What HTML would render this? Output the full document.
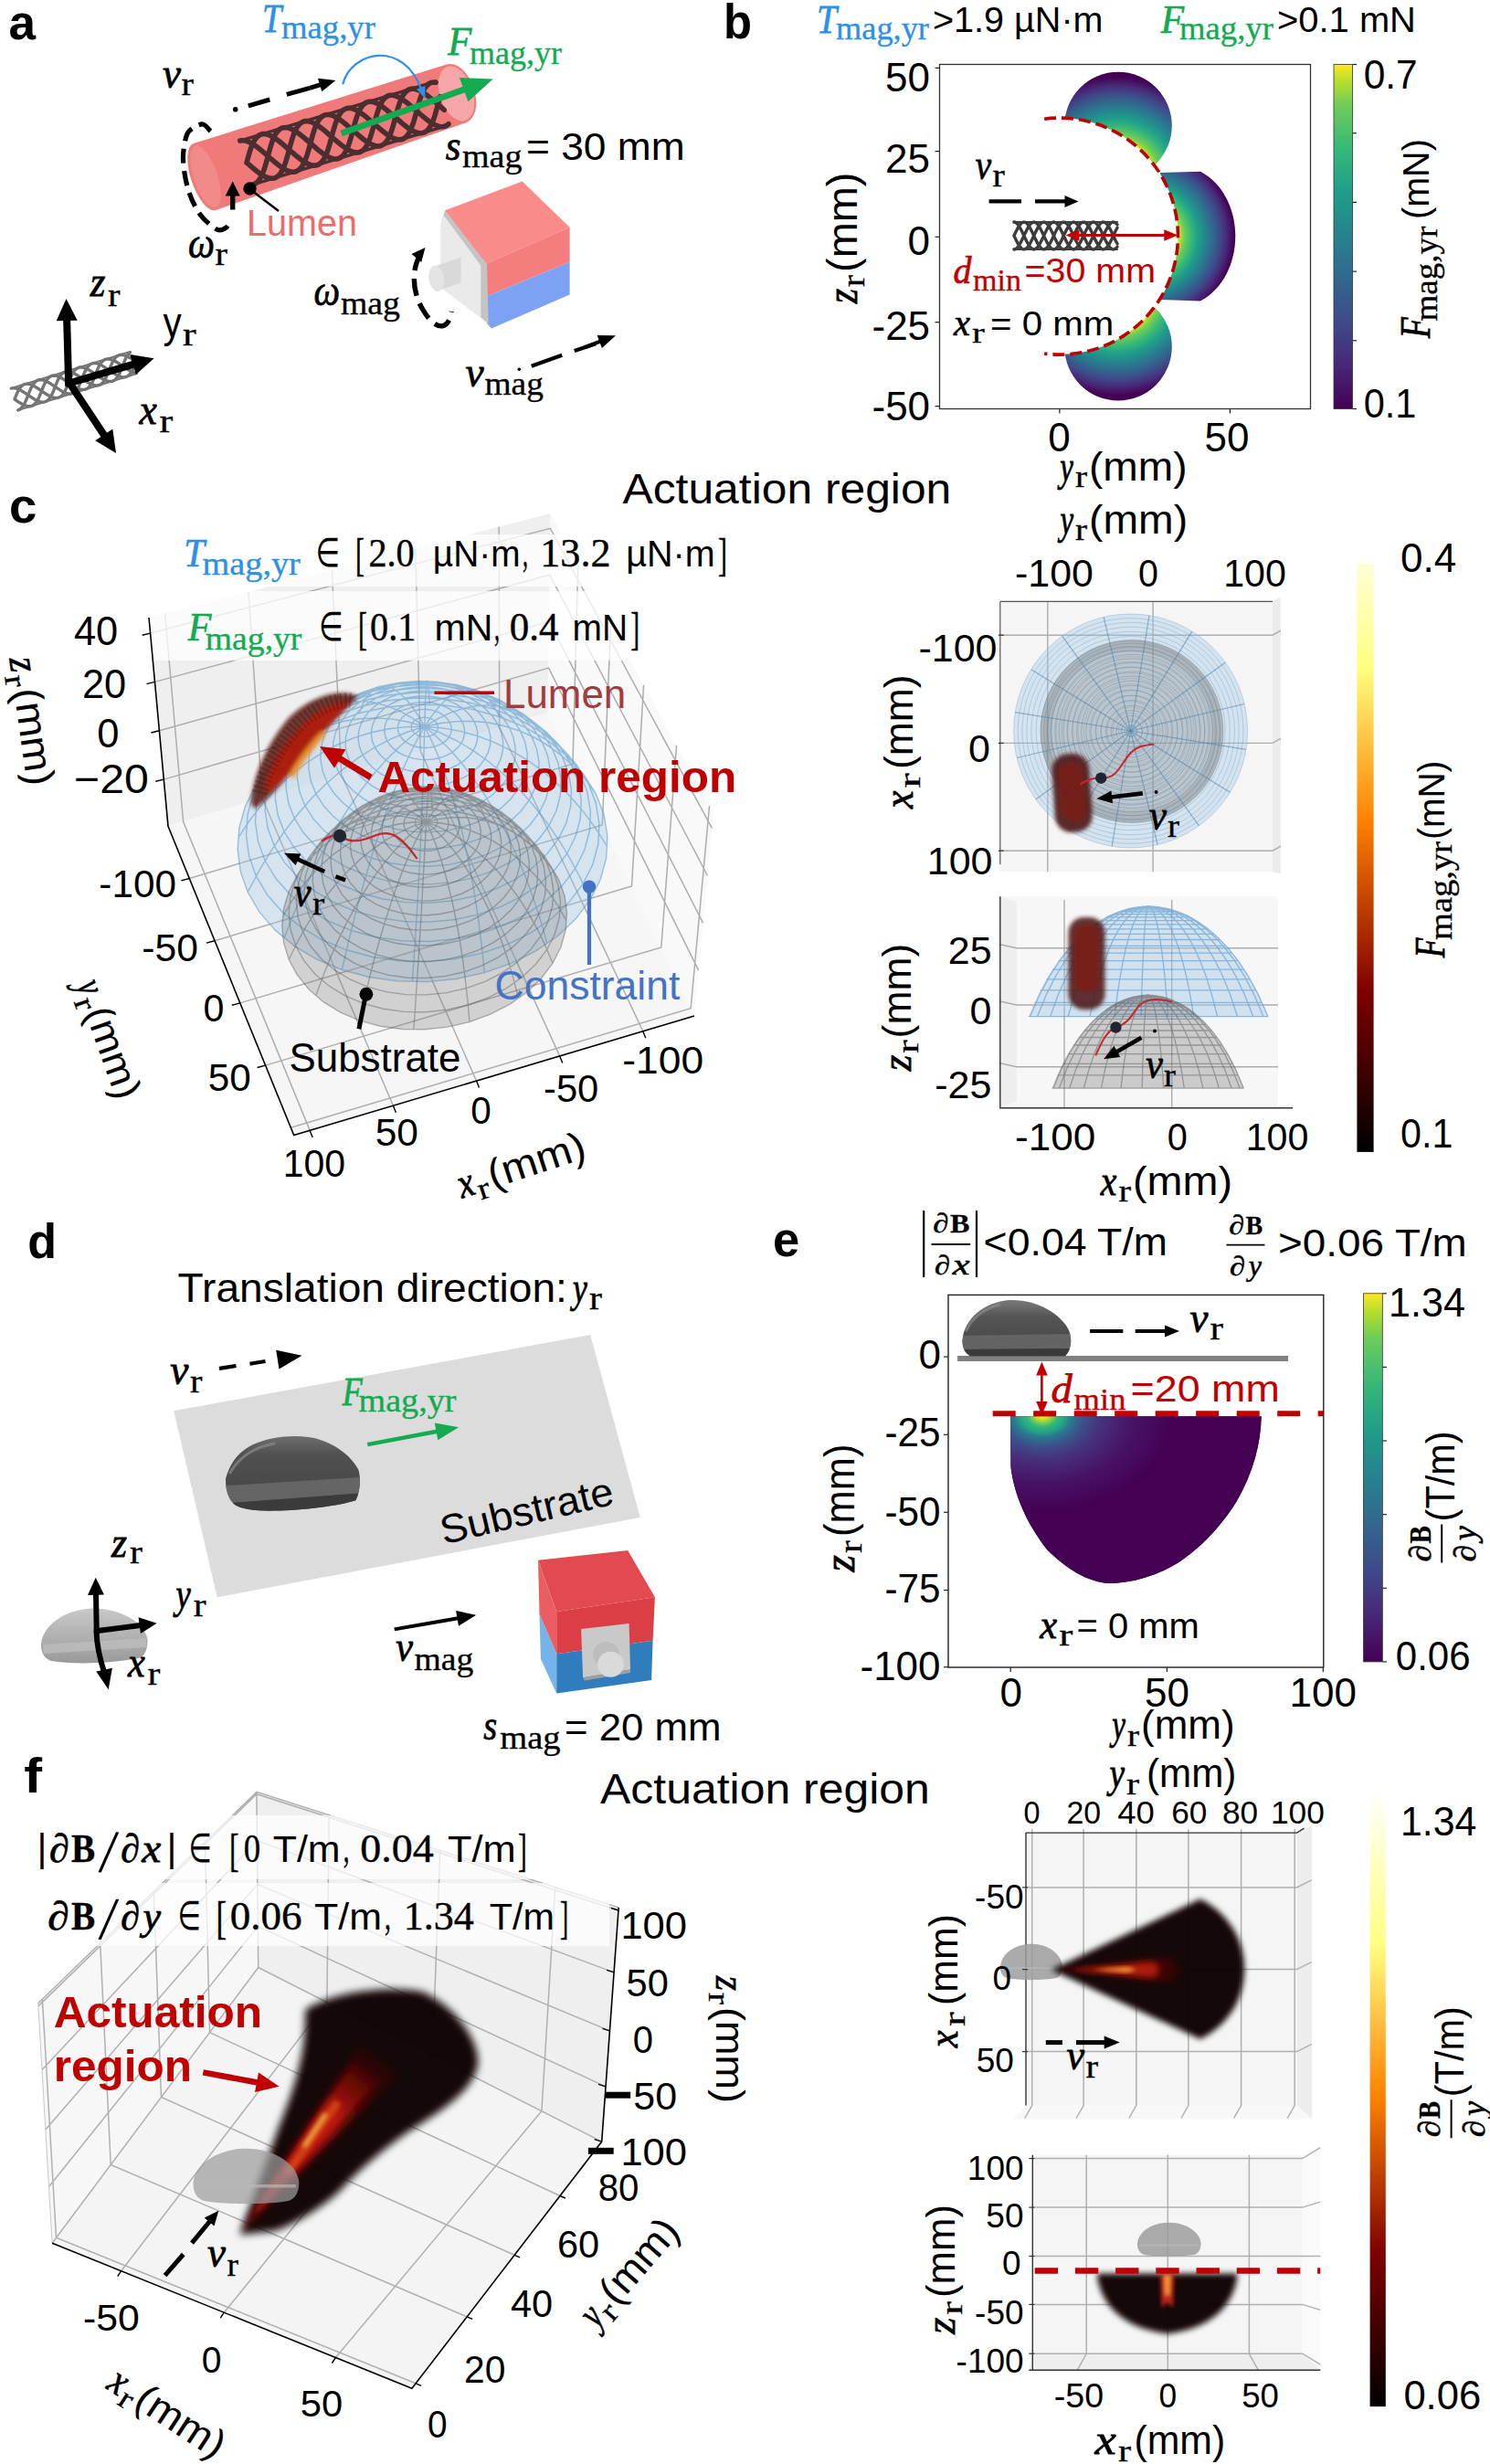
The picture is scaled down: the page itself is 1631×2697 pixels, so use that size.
<!DOCTYPE html>
<html><head><meta charset="utf-8"><title>Figure</title>
<style>html,body{margin:0;padding:0;background:#fff}svg{display:block}text{white-space:pre}</style></head>
<body>
<svg width="1631" height="2697" viewBox="0 0 1631 2697">
<defs><linearGradient id="vir" x1="0" y1="1" x2="0" y2="0"><stop offset="0" stop-color="#440154"/><stop offset="0.13" stop-color="#482878"/><stop offset="0.25" stop-color="#3E4A89"/><stop offset="0.38" stop-color="#31688E"/><stop offset="0.5" stop-color="#26828E"/><stop offset="0.63" stop-color="#1F9E89"/><stop offset="0.75" stop-color="#35B779"/><stop offset="0.88" stop-color="#6DCD59"/><stop offset="0.95" stop-color="#B4DE2C"/><stop offset="1" stop-color="#FDE725"/></linearGradient><radialGradient id="gb1" gradientUnits="userSpaceOnUse" cx="1222" cy="196" r="112"><stop offset="0.357" stop-color="#FDE725"/><stop offset="0.389" stop-color="#B4DE2C"/><stop offset="0.434" stop-color="#6DCD59"/><stop offset="0.518" stop-color="#35B779"/><stop offset="0.595" stop-color="#1F9E89"/><stop offset="0.679" stop-color="#26828E"/><stop offset="0.756" stop-color="#31688E"/><stop offset="0.839" stop-color="#3E4A89"/><stop offset="0.916" stop-color="#482878"/><stop offset="1.000" stop-color="#440154"/></radialGradient><radialGradient id="gb3" gradientUnits="userSpaceOnUse" cx="1222" cy="321.20000000000005" r="112"><stop offset="0.357" stop-color="#FDE725"/><stop offset="0.389" stop-color="#B4DE2C"/><stop offset="0.434" stop-color="#6DCD59"/><stop offset="0.518" stop-color="#35B779"/><stop offset="0.595" stop-color="#1F9E89"/><stop offset="0.679" stop-color="#26828E"/><stop offset="0.756" stop-color="#31688E"/><stop offset="0.839" stop-color="#3E4A89"/><stop offset="0.916" stop-color="#482878"/><stop offset="1.000" stop-color="#440154"/></radialGradient><radialGradient id="gb2" gradientUnits="userSpaceOnUse" cx="1255" cy="258.6" r="96"><stop offset="0.354" stop-color="#FDE725"/><stop offset="0.386" stop-color="#B4DE2C"/><stop offset="0.432" stop-color="#6DCD59"/><stop offset="0.516" stop-color="#35B779"/><stop offset="0.593" stop-color="#1F9E89"/><stop offset="0.677" stop-color="#26828E"/><stop offset="0.755" stop-color="#31688E"/><stop offset="0.839" stop-color="#3E4A89"/><stop offset="0.916" stop-color="#482878"/><stop offset="1.000" stop-color="#440154"/></radialGradient><linearGradient id="hot" x1="0" y1="1" x2="0" y2="0"><stop offset="0" stop-color="#000000"/><stop offset="0.275" stop-color="#800000"/><stop offset="0.562" stop-color="#FF8000"/><stop offset="0.825" stop-color="#FFFF80"/><stop offset="1" stop-color="#FFFFD4"/></linearGradient><filter id="blur2" x="-20%" y="-20%" width="140%" height="140%"><feGaussianBlur stdDeviation="2.2"/></filter><linearGradient id="dropg" x1="0" y1="0" x2="0" y2="1"><stop offset="0" stop-color="#6E6E6E"/><stop offset="0.25" stop-color="#505050"/><stop offset="1" stop-color="#444"/></linearGradient><linearGradient id="dropg2" x1="0" y1="0" x2="0" y2="1"><stop offset="0" stop-color="#7A7A7A"/><stop offset="0.3" stop-color="#555"/><stop offset="1" stop-color="#444"/></linearGradient><linearGradient id="dropl" x1="0" y1="0" x2="0" y2="1"><stop offset="0" stop-color="#C8C8C8"/><stop offset="1" stop-color="#9A9A9A"/></linearGradient><radialGradient id="ehot" gradientUnits="userSpaceOnUse" cx="1141" cy="1549" r="105" gradientTransform="translate(1141 1549) scale(1.35 1) translate(-1141 -1549)"><stop offset="0" stop-color="#FDE725"/><stop offset="0.04" stop-color="#D8E219"/><stop offset="0.08" stop-color="#7AD151"/><stop offset="0.12" stop-color="#35B779"/><stop offset="0.17" stop-color="#22A884"/><stop offset="0.23" stop-color="#2A788E"/><stop offset="0.32" stop-color="#3B528B"/><stop offset="0.45" stop-color="#46327E"/><stop offset="0.7" stop-color="#471365"/><stop offset="1" stop-color="#440154"/></radialGradient><linearGradient id="hot2" x1="0" y1="1" x2="0" y2="0"><stop offset="0" stop-color="#000000"/><stop offset="0.25" stop-color="#800000"/><stop offset="0.5" stop-color="#FF8000"/><stop offset="0.75" stop-color="#FFFF80"/><stop offset="1" stop-color="#FFFFFF"/></linearGradient><linearGradient id="stk1" gradientUnits="userSpaceOnUse" x1="264" y1="2442" x2="415" y2="2252"><stop offset="0" stop-color="#8A0C08"/><stop offset="0.6" stop-color="#8A0C08"/><stop offset="1" stop-color="#4A0404" stop-opacity="0.3"/></linearGradient><linearGradient id="stk2" gradientUnits="userSpaceOnUse" x1="276" y1="2426" x2="398" y2="2270"><stop offset="0" stop-color="#C4180E"/><stop offset="0.7" stop-color="#C4180E"/><stop offset="1" stop-color="#90100A" stop-opacity="0.25"/></linearGradient><linearGradient id="stk3" gradientUnits="userSpaceOnUse" x1="1160" y1="0" x2="1292" y2="0"><stop offset="0" stop-color="#7A0A06"/><stop offset="0.7" stop-color="#7A0A06"/><stop offset="1" stop-color="#4A0606" stop-opacity="0.3"/></linearGradient><filter id="blur3" x="-20%" y="-20%" width="140%" height="140%"><feGaussianBlur stdDeviation="3"/></filter><filter id="blur4" x="-20%" y="-20%" width="140%" height="140%"><feGaussianBlur stdDeviation="4.5"/></filter></defs>
<rect width="1631" height="2697" fill="#fff"/>
<text transform="translate(9.50 43.00) scale(0.9836 1)" font-family="&quot;Liberation Sans&quot;,Arial,sans-serif" font-size="54.00" font-weight="bold" fill="#000">a</text>
<g opacity="0.88">
<polygon points="211.8,157.0 488.9,70.6 510.1,134.2 236.2,230.0" fill="#EE6868" />
<ellipse cx="224.0" cy="193.5" rx="15" ry="38.5" transform="rotate(-18.5 224.0 193.5)" fill="#EE6868"/>
<ellipse cx="499.5" cy="102.4" rx="20" ry="33.5" transform="rotate(-18.5 499.5 102.4)" fill="#EE6868"/>
</g>
<ellipse cx="225.0" cy="193.5" rx="13" ry="35.5" transform="rotate(-18.5 224.0 193.5)" fill="#F28C8C" opacity="0.9"/>
<ellipse cx="499.5" cy="102.4" rx="18" ry="31.0" transform="rotate(-18.5 499.5 102.4)" fill="#F6A6A6"/>
<g transform="translate(270.0 178.0) rotate(-16.90)" opacity="0.9" fill="none" stroke="#3B2628" stroke-width="5.6" stroke-linecap="round">
<path d="M0.0 0.0 L2.0 3.2 L4.0 6.4 L6.0 9.4 L8.0 12.3 L10.0 15.0 L12.0 17.5 L14.0 19.6 L16.0 21.5 L18.0 22.9 L20.0 24.0 L22.0 24.7 L24.0 25.0 L26.0 24.9 L28.0 24.3 L30.0 23.4 L32.0 22.0 L33.9 20.3 L35.9 18.3 L37.9 15.9 L39.9 13.3 L41.9 10.5 L43.9 7.5 L45.9 4.3 L47.9 1.1 L49.9 -2.1 L51.9 -5.3 L53.9 -8.4 L55.9 -11.3 L57.9 -14.1 L59.9 -16.7 L61.9 -18.9 L63.9 -20.9 L65.9 -22.5 L67.9 -23.7 L69.9 -24.5 L71.9 -24.9 L73.9 -25.0 L75.9 -24.5 L77.9 -23.7 L79.9 -22.5 L81.9 -20.9 L83.9 -19.0 L85.9 -16.8 L87.9 -14.2 L89.9 -11.5 L91.9 -8.5 L93.9 -5.4 L95.9 -2.2 L97.8 1.0 L99.8 4.2 L101.8 7.3 L103.8 10.3 L105.8 13.2 L107.8 15.8 L109.8 18.2 L111.8 20.2 L113.8 21.9 L115.8 23.3 L117.8 24.3 L119.8 24.8 L121.8 25.0 L123.8 24.7 L125.8 24.1 L127.8 23.0 L129.8 21.5 L131.8 19.7 L133.8 17.6 L135.8 15.1 L137.8 12.5 L139.8 9.6 L141.8 6.5 L143.8 3.4 L145.8 0.1 L147.8 -3.1 L149.8 -6.2 L151.8 -9.3 L153.8 -12.2 L155.8 -14.9 L157.8 -17.4 L159.8 -19.5 L161.7 -21.4 L163.7 -22.9 L165.7 -24.0 L167.7 -24.7 L169.7 -25.0 L171.7 -24.9 L173.7 -24.3 L175.7 -23.4 L177.7 -22.1 L179.7 -20.4 L181.7 -18.4 L183.7 -16.0 L185.7 -13.4 L187.7 -10.6 L189.7 -7.6 L191.7 -4.5 L193.7 -1.3 L195.7 2.0 L197.7 5.2 L199.7 8.3 L201.7 11.2 L203.7 14.0 L205.7 16.6 L207.7 18.8 L209.7 20.8 L211.7 22.4 L213.7 23.6 L215.7 24.5 L217.7 24.9 L219.7 25.0 L221.7 24.6 L223.7 23.8 M0.0 25.0 L2.0 24.8 L4.0 24.2 L6.0 23.2 L8.0 21.7 L10.0 20.0 L12.0 17.9 L14.0 15.5 L16.0 12.8 L18.0 10.0 L20.0 6.9 L22.0 3.8 L24.0 0.6 L26.0 -2.7 L28.0 -5.8 L30.0 -8.9 L32.0 -11.8 L33.9 -14.6 L35.9 -17.1 L37.9 -19.3 L39.9 -21.2 L41.9 -22.7 L43.9 -23.9 L45.9 -24.6 L47.9 -25.0 L49.9 -24.9 L51.9 -24.4 L53.9 -23.6 L55.9 -22.3 L57.9 -20.6 L59.9 -18.6 L61.9 -16.3 L63.9 -13.8 L65.9 -11.0 L67.9 -8.0 L69.9 -4.9 L71.9 -1.7 L73.9 1.5 L75.9 4.7 L77.9 7.9 L79.9 10.8 L81.9 13.7 L83.9 16.2 L85.9 18.5 L87.9 20.6 L89.9 22.2 L91.9 23.5 L93.9 24.4 L95.9 24.9 L97.8 25.0 L99.8 24.6 L101.8 23.9 L103.8 22.8 L105.8 21.2 L107.8 19.4 L109.8 17.2 L111.8 14.7 L113.8 12.0 L115.8 9.0 L117.8 6.0 L119.8 2.8 L121.8 -0.4 L123.8 -3.6 L125.8 -6.8 L127.8 -9.8 L129.8 -12.7 L131.8 -15.4 L133.8 -17.8 L135.8 -19.9 L137.8 -21.7 L139.8 -23.1 L141.8 -24.1 L143.8 -24.8 L145.8 -25.0 L147.8 -24.8 L149.8 -24.2 L151.8 -23.2 L153.8 -21.8 L155.8 -20.1 L157.8 -18.0 L159.8 -15.6 L161.7 -12.9 L163.7 -10.1 L165.7 -7.1 L167.7 -3.9 L169.7 -0.7 L171.7 2.5 L173.7 5.7 L175.7 8.8 L177.7 11.7 L179.7 14.5 L181.7 17.0 L183.7 19.2 L185.7 21.1 L187.7 22.6 L189.7 23.8 L191.7 24.6 L193.7 25.0 L195.7 24.9 L197.7 24.5 L199.7 23.6 L201.7 22.3 L203.7 20.7 L205.7 18.7 L207.7 16.4 L209.7 13.9 L211.7 11.1 L213.7 8.1 L215.7 5.0 L217.7 1.8 L219.7 -1.4 L221.7 -4.6 L223.7 -7.7 M0.0 0.0 L2.0 -3.2 L4.0 -6.4 L6.0 -9.4 L8.0 -12.3 L10.0 -15.0 L12.0 -17.5 L14.0 -19.6 L16.0 -21.5 L18.0 -22.9 L20.0 -24.0 L22.0 -24.7 L24.0 -25.0 L26.0 -24.9 L28.0 -24.3 L30.0 -23.4 L32.0 -22.0 L33.9 -20.3 L35.9 -18.3 L37.9 -15.9 L39.9 -13.3 L41.9 -10.5 L43.9 -7.5 L45.9 -4.3 L47.9 -1.1 L49.9 2.1 L51.9 5.3 L53.9 8.4 L55.9 11.3 L57.9 14.1 L59.9 16.7 L61.9 18.9 L63.9 20.9 L65.9 22.5 L67.9 23.7 L69.9 24.5 L71.9 24.9 L73.9 25.0 L75.9 24.5 L77.9 23.7 L79.9 22.5 L81.9 20.9 L83.9 19.0 L85.9 16.8 L87.9 14.2 L89.9 11.5 L91.9 8.5 L93.9 5.4 L95.9 2.2 L97.8 -1.0 L99.8 -4.2 L101.8 -7.3 L103.8 -10.3 L105.8 -13.2 L107.8 -15.8 L109.8 -18.2 L111.8 -20.2 L113.8 -21.9 L115.8 -23.3 L117.8 -24.3 L119.8 -24.8 L121.8 -25.0 L123.8 -24.7 L125.8 -24.1 L127.8 -23.0 L129.8 -21.5 L131.8 -19.7 L133.8 -17.6 L135.8 -15.1 L137.8 -12.5 L139.8 -9.6 L141.8 -6.5 L143.8 -3.4 L145.8 -0.1 L147.8 3.1 L149.8 6.2 L151.8 9.3 L153.8 12.2 L155.8 14.9 L157.8 17.4 L159.8 19.5 L161.7 21.4 L163.7 22.9 L165.7 24.0 L167.7 24.7 L169.7 25.0 L171.7 24.9 L173.7 24.3 L175.7 23.4 L177.7 22.1 L179.7 20.4 L181.7 18.4 L183.7 16.0 L185.7 13.4 L187.7 10.6 L189.7 7.6 L191.7 4.5 L193.7 1.3 L195.7 -2.0 L197.7 -5.2 L199.7 -8.3 L201.7 -11.2 L203.7 -14.0 L205.7 -16.6 L207.7 -18.8 L209.7 -20.8 L211.7 -22.4 L213.7 -23.6 L215.7 -24.5 L217.7 -24.9 L219.7 -25.0 L221.7 -24.6 L223.7 -23.8 M0.0 -25.0 L2.0 -24.8 L4.0 -24.2 L6.0 -23.2 L8.0 -21.7 L10.0 -20.0 L12.0 -17.9 L14.0 -15.5 L16.0 -12.8 L18.0 -10.0 L20.0 -6.9 L22.0 -3.8 L24.0 -0.6 L26.0 2.7 L28.0 5.8 L30.0 8.9 L32.0 11.8 L33.9 14.6 L35.9 17.1 L37.9 19.3 L39.9 21.2 L41.9 22.7 L43.9 23.9 L45.9 24.6 L47.9 25.0 L49.9 24.9 L51.9 24.4 L53.9 23.6 L55.9 22.3 L57.9 20.6 L59.9 18.6 L61.9 16.3 L63.9 13.8 L65.9 11.0 L67.9 8.0 L69.9 4.9 L71.9 1.7 L73.9 -1.5 L75.9 -4.7 L77.9 -7.9 L79.9 -10.8 L81.9 -13.7 L83.9 -16.2 L85.9 -18.5 L87.9 -20.6 L89.9 -22.2 L91.9 -23.5 L93.9 -24.4 L95.9 -24.9 L97.8 -25.0 L99.8 -24.6 L101.8 -23.9 L103.8 -22.8 L105.8 -21.2 L107.8 -19.4 L109.8 -17.2 L111.8 -14.7 L113.8 -12.0 L115.8 -9.0 L117.8 -6.0 L119.8 -2.8 L121.8 0.4 L123.8 3.6 L125.8 6.8 L127.8 9.8 L129.8 12.7 L131.8 15.4 L133.8 17.8 L135.8 19.9 L137.8 21.7 L139.8 23.1 L141.8 24.1 L143.8 24.8 L145.8 25.0 L147.8 24.8 L149.8 24.2 L151.8 23.2 L153.8 21.8 L155.8 20.1 L157.8 18.0 L159.8 15.6 L161.7 12.9 L163.7 10.1 L165.7 7.1 L167.7 3.9 L169.7 0.7 L171.7 -2.5 L173.7 -5.7 L175.7 -8.8 L177.7 -11.7 L179.7 -14.5 L181.7 -17.0 L183.7 -19.2 L185.7 -21.1 L187.7 -22.6 L189.7 -23.8 L191.7 -24.6 L193.7 -25.0 L195.7 -24.9 L197.7 -24.5 L199.7 -23.6 L201.7 -22.3 L203.7 -20.7 L205.7 -18.7 L207.7 -16.4 L209.7 -13.9 L211.7 -11.1 L213.7 -8.1 L215.7 -5.0 L217.7 -1.8 L219.7 1.4 L221.7 4.6 L223.7 7.7"/>
<path d="M0 -25.0 L223.7 -25.0 M0 25.0 L223.7 25.0" stroke-width="3.36"/>
</g>
<line x1="373.60" y1="146.00" x2="508.63" y2="97.71" stroke="#14AA52" stroke-width="7"/>
<polygon points="539.7,86.6 512.4,111.2 503.0,84.9" fill="#14AA52" />
<path d="M375.2 92.3 C 384 56, 442 42, 462 100" fill="none" stroke="#2E8FE8" stroke-width="2.2" />
<polygon points="465.5,108.0 456.0,97.8 465.3,94.1" fill="#2E8FE8" />
<circle cx="257.7" cy="119.8" r="2.8" fill="#000"/>
<line x1="271.80" y1="115.80" x2="295.30" y2="109.00" stroke="#000" stroke-width="5"/>
<line x1="313.80" y1="103.40" x2="339.00" y2="96.30" stroke="#000" stroke-width="5"/>
<line x1="339.00" y1="96.30" x2="351.10" y2="92.72" stroke="#000" stroke-width="5"/>
<polygon points="367.4,87.9 352.3,100.2 348.0,85.8" fill="#000" />
<text transform="translate(178.00 95.60) scale(0.9756 1)" font-family="&quot;Liberation Serif&quot;,&quot;Times New Roman&quot;,serif" font-size="46.00" font-style="italic" fill="#000" stroke="#000" stroke-width="0.78">v</text>
<text transform="translate(198.50 104.00) scale(1.1250 1)" font-family="&quot;Liberation Serif&quot;,&quot;Times New Roman&quot;,serif" font-size="36.00" fill="#000" stroke="#000" stroke-width="0.32">r</text>
<path d="M230.4 143.6 C229.0 142.3,225.4 136.4,222.0 136.0 C218.6 135.6,213.1 138.6,210.0 141.0 C206.9 143.4,205.2 144.6,203.6 150.3 C202.0 156.1,200.1 166.0,200.5 175.5 C200.9 185.0,203.0 197.6,206.0 207.4 C209.0 217.2,213.5 226.9,218.7 234.2 C223.9 241.5,232.4 248.4,237.1 251.0 C241.8 253.6,244.5 250.9,247.0 249.5 C249.5 248.1,251.3 243.8,252.2 242.6" fill="none" stroke="#000" stroke-width="5.2" stroke-dasharray="16 8.5"/>
<line x1="254.70" y1="229.50" x2="254.70" y2="212.00" stroke="#000" stroke-width="5.4"/>
<polygon points="254.7,198.5 262.7,214.5 246.7,214.5" fill="#000" />
<circle cx="273.5" cy="206.5" r="7.2" fill="#000"/>
<line x1="273.50" y1="207.00" x2="305.00" y2="231.00" stroke="#000" stroke-width="2.4"/>
<text transform="translate(270.00 258.00) scale(0.9661 1)" font-family="&quot;Liberation Sans&quot;,Arial,sans-serif" font-size="41.00" fill="#F0696D">Lumen</text>
<text transform="translate(206.00 282.00) scale(0.8923 1)" font-family="&quot;Liberation Serif&quot;,&quot;Times New Roman&quot;,serif" font-size="46.00" font-style="italic" fill="#000" stroke="#000" stroke-width="0.78">ω</text>
<text transform="translate(235.50 290.00) scale(1.1250 1)" font-family="&quot;Liberation Serif&quot;,&quot;Times New Roman&quot;,serif" font-size="36.00" fill="#000" stroke="#000" stroke-width="0.32">r</text>
<text transform="translate(287.00 35.00) scale(0.8624 1)" font-family="&quot;Liberation Serif&quot;,&quot;Times New Roman&quot;,serif" font-size="44.00" font-style="italic" fill="#2E8FE8" stroke="#2E8FE8" stroke-width="0.75">T</text>
<text transform="translate(308.00 42.00) scale(1.0198 1)" font-family="&quot;Liberation Serif&quot;,&quot;Times New Roman&quot;,serif" font-size="36.00" fill="#2E8FE8" stroke="#2E8FE8" stroke-width="0.32">mag,yr</text>
<text transform="translate(490.24 60.00) scale(0.9636 1)" font-family="&quot;Liberation Serif&quot;,&quot;Times New Roman&quot;,serif" font-size="44.00" font-style="italic" fill="#14AA52" stroke="#14AA52" stroke-width="0.75">F</text>
<text transform="translate(514.00 69.50) scale(1.0000 1)" font-family="&quot;Liberation Serif&quot;,&quot;Times New Roman&quot;,serif" font-size="36.00" fill="#14AA52" stroke="#14AA52" stroke-width="0.32">mag,yr</text>
<text transform="translate(487.70 174.50) scale(0.9333 1)" font-family="&quot;Liberation Serif&quot;,&quot;Times New Roman&quot;,serif" font-size="46.00" font-style="italic" fill="#000" stroke="#000" stroke-width="0.78">s</text>
<text transform="translate(506.00 183.00) scale(1.0581 1)" font-family="&quot;Liberation Serif&quot;,&quot;Times New Roman&quot;,serif" font-size="36.00" fill="#000" stroke="#000" stroke-width="0.32">mag</text>
<text transform="translate(576.00 174.50) scale(1.0547 1)" font-family="&quot;Liberation Sans&quot;,Arial,sans-serif" font-size="42.00" fill="#000">= 30 mm</text>
<polygon points="487.0,230.3 571.6,198.5 623.6,248.8 531.3,289.0" fill="#F98B8A" />
<polygon points="531.3,289.0 623.6,248.8 623.6,286.7 533.0,324.3" fill="#F47D7D" />
<polygon points="533.0,324.3 623.6,286.7 623.6,322.6 538.0,359.5 533.0,354.0" fill="#7DA2F4" />
<polygon points="482.7,245.4 487.0,230.3 531.3,287.0 533.0,289.0 534.7,354.5 526.3,347.8 482.7,314.2" fill="#C4C4C4" />
<polygon points="482.7,245.4 486.0,236.0 526.3,290.7 526.3,347.8 482.7,314.2" fill="#EAEAEA" />
<polygon points="477.7,290.8 504.5,281.8 504.5,309.8 477.7,318.8" fill="#D9D9D9" />
<ellipse cx="477.7" cy="304.8" rx="8.4" ry="14.2" fill="#E4E4E4" transform="rotate(-8 477.7 304.8)"/>
<path d="M 462.5 276 C 449 292, 451 322, 464.2 341 C 474 358, 490 366, 494.4 341" fill="none" stroke="#000" stroke-width="5.4" stroke-dasharray="19 9" stroke-dashoffset="-3"/>
<polygon points="465.5,271.0 461.2,287.0 450.5,278.0" fill="#000" />
<text transform="translate(343.40 334.40) scale(0.8800 1)" font-family="&quot;Liberation Serif&quot;,&quot;Times New Roman&quot;,serif" font-size="46.00" font-style="italic" fill="#000" stroke="#000" stroke-width="0.78">ω</text>
<text transform="translate(373.00 343.80) scale(1.0484 1)" font-family="&quot;Liberation Serif&quot;,&quot;Times New Roman&quot;,serif" font-size="36.00" fill="#000" stroke="#000" stroke-width="0.32">mag</text>
<line x1="581.70" y1="400.80" x2="615.20" y2="388.70" stroke="#000" stroke-width="4.2"/>
<line x1="628.70" y1="384.00" x2="652.00" y2="376.30" stroke="#000" stroke-width="4.2"/>
<line x1="640.00" y1="380.20" x2="657.19" y2="373.63" stroke="#000" stroke-width="4.2"/>
<polygon points="674.0,367.2 658.9,381.0 653.6,367.0" fill="#000" />
<circle cx="568.3" cy="404.2" r="1.8" fill="#000"/>
<text transform="translate(509.50 423.30) scale(0.9854 1)" font-family="&quot;Liberation Serif&quot;,&quot;Times New Roman&quot;,serif" font-size="46.00" font-style="italic" fill="#000" stroke="#000" stroke-width="0.78">v</text>
<text transform="translate(530.50 431.70) scale(1.0403 1)" font-family="&quot;Liberation Serif&quot;,&quot;Times New Roman&quot;,serif" font-size="36.00" fill="#000" stroke="#000" stroke-width="0.32">mag</text>
<g transform="translate(16.0 437.0) rotate(-17.10)" fill="none" stroke="#747474" stroke-width="3.4" stroke-linecap="round">
<path d="M0.0 0.0 L2.0 2.5 L3.9 4.9 L5.9 7.1 L7.9 9.0 L9.9 10.5 L11.8 11.7 L13.8 12.3 L15.8 12.5 L17.7 12.2 L19.7 11.3 L21.7 10.1 L23.7 8.4 L25.6 6.4 L27.6 4.1 L29.6 1.7 L31.5 -0.8 L33.5 -3.3 L35.5 -5.6 L37.5 -7.7 L39.4 -9.5 L41.4 -10.9 L43.4 -11.9 L45.3 -12.4 L47.3 -12.4 L49.3 -12.0 L51.3 -11.0 L53.2 -9.6 L55.2 -7.8 L57.2 -5.7 L59.1 -3.4 L61.1 -0.9 L63.1 1.6 L65.1 4.0 L67.0 6.3 L69.0 8.3 L71.0 10.0 L72.9 11.3 L74.9 12.1 L76.9 12.5 L78.8 12.3 L80.8 11.7 L82.8 10.6 L84.8 9.1 L86.7 7.2 L88.7 5.0 L90.7 2.6 L92.6 0.1 L94.6 -2.4 L96.6 -4.8 L98.6 -7.0 L100.5 -8.9 L102.5 -10.5 L104.5 -11.6 L106.4 -12.3 L108.4 -12.5 L110.4 -12.2 L112.4 -11.4 L114.3 -10.1 L116.3 -8.5 L118.3 -6.5 L120.2 -4.2 L122.2 -1.8 L124.2 0.7 L126.2 3.2 L128.1 5.5 L130.1 7.6 L132.1 9.4 L134.0 10.9 L136.0 11.9 M0.0 12.5 L2.0 12.3 L3.9 11.5 L5.9 10.3 L7.9 8.7 L9.9 6.7 L11.8 4.5 L13.8 2.1 L15.8 -0.4 L17.7 -2.9 L19.7 -5.2 L21.7 -7.4 L23.7 -9.3 L25.6 -10.7 L27.6 -11.8 L29.6 -12.4 L31.5 -12.5 L33.5 -12.1 L35.5 -11.2 L37.5 -9.8 L39.4 -8.1 L41.4 -6.1 L43.4 -3.8 L45.3 -1.3 L47.3 1.2 L49.3 3.6 L51.3 6.0 L53.2 8.0 L55.2 9.8 L57.2 11.1 L59.1 12.0 L61.1 12.5 L63.1 12.4 L65.1 11.8 L67.0 10.8 L69.0 9.3 L71.0 7.5 L72.9 5.3 L74.9 3.0 L76.9 0.5 L78.8 -2.0 L80.8 -4.4 L82.8 -6.6 L84.8 -8.6 L86.7 -10.2 L88.7 -11.5 L90.7 -12.2 L92.6 -12.5 L94.6 -12.3 L96.6 -11.6 L98.6 -10.4 L100.5 -8.8 L102.5 -6.8 L104.5 -4.6 L106.4 -2.2 L108.4 0.3 L110.4 2.8 L112.4 5.1 L114.3 7.3 L116.3 9.2 L118.3 10.7 L120.2 11.8 L122.2 12.4 L124.2 12.5 L126.2 12.1 L128.1 11.2 L130.1 9.9 L132.1 8.2 L134.0 6.2 L136.0 3.9 M0.0 0.0 L2.0 -2.5 L3.9 -4.9 L5.9 -7.1 L7.9 -9.0 L9.9 -10.5 L11.8 -11.7 L13.8 -12.3 L15.8 -12.5 L17.7 -12.2 L19.7 -11.3 L21.7 -10.1 L23.7 -8.4 L25.6 -6.4 L27.6 -4.1 L29.6 -1.7 L31.5 0.8 L33.5 3.3 L35.5 5.6 L37.5 7.7 L39.4 9.5 L41.4 10.9 L43.4 11.9 L45.3 12.4 L47.3 12.4 L49.3 12.0 L51.3 11.0 L53.2 9.6 L55.2 7.8 L57.2 5.7 L59.1 3.4 L61.1 0.9 L63.1 -1.6 L65.1 -4.0 L67.0 -6.3 L69.0 -8.3 L71.0 -10.0 L72.9 -11.3 L74.9 -12.1 L76.9 -12.5 L78.8 -12.3 L80.8 -11.7 L82.8 -10.6 L84.8 -9.1 L86.7 -7.2 L88.7 -5.0 L90.7 -2.6 L92.6 -0.1 L94.6 2.4 L96.6 4.8 L98.6 7.0 L100.5 8.9 L102.5 10.5 L104.5 11.6 L106.4 12.3 L108.4 12.5 L110.4 12.2 L112.4 11.4 L114.3 10.1 L116.3 8.5 L118.3 6.5 L120.2 4.2 L122.2 1.8 L124.2 -0.7 L126.2 -3.2 L128.1 -5.5 L130.1 -7.6 L132.1 -9.4 L134.0 -10.9 L136.0 -11.9 M0.0 -12.5 L2.0 -12.3 L3.9 -11.5 L5.9 -10.3 L7.9 -8.7 L9.9 -6.7 L11.8 -4.5 L13.8 -2.1 L15.8 0.4 L17.7 2.9 L19.7 5.2 L21.7 7.4 L23.7 9.3 L25.6 10.7 L27.6 11.8 L29.6 12.4 L31.5 12.5 L33.5 12.1 L35.5 11.2 L37.5 9.8 L39.4 8.1 L41.4 6.1 L43.4 3.8 L45.3 1.3 L47.3 -1.2 L49.3 -3.6 L51.3 -6.0 L53.2 -8.0 L55.2 -9.8 L57.2 -11.1 L59.1 -12.0 L61.1 -12.5 L63.1 -12.4 L65.1 -11.8 L67.0 -10.8 L69.0 -9.3 L71.0 -7.5 L72.9 -5.3 L74.9 -3.0 L76.9 -0.5 L78.8 2.0 L80.8 4.4 L82.8 6.6 L84.8 8.6 L86.7 10.2 L88.7 11.5 L90.7 12.2 L92.6 12.5 L94.6 12.3 L96.6 11.6 L98.6 10.4 L100.5 8.8 L102.5 6.8 L104.5 4.6 L106.4 2.2 L108.4 -0.3 L110.4 -2.8 L112.4 -5.1 L114.3 -7.3 L116.3 -9.2 L118.3 -10.7 L120.2 -11.8 L122.2 -12.4 L124.2 -12.5 L126.2 -12.1 L128.1 -11.2 L130.1 -9.9 L132.1 -8.2 L134.0 -6.2 L136.0 -3.9"/>
<path d="M0 -12.5 L136.0 -12.5 M0 12.5 L136.0 12.5" stroke-width="2.04"/>
</g>
<line x1="75.20" y1="423.00" x2="73.15" y2="349.99" stroke="#000" stroke-width="8"/>
<polygon points="72.5,327.0 84.7,350.7 61.7,351.3" fill="#000" />
<line x1="72.00" y1="420.50" x2="146.53" y2="398.67" stroke="#000" stroke-width="8"/>
<polygon points="168.6,392.2 148.8,410.0 142.3,387.9" fill="#000" />
<line x1="74.00" y1="416.00" x2="114.30" y2="476.83" stroke="#000" stroke-width="8"/>
<polygon points="127.0,496.0 104.2,482.3 123.3,469.6" fill="#000" />
<text transform="translate(98.70 324.30) scale(0.9280 1)" font-family="&quot;Liberation Serif&quot;,&quot;Times New Roman&quot;,serif" font-size="46.00" font-style="italic" fill="#000" stroke="#000" stroke-width="0.78">z</text>
<text transform="translate(118.00 335.00) scale(1.1250 1)" font-family="&quot;Liberation Serif&quot;,&quot;Times New Roman&quot;,serif" font-size="36.00" fill="#000" stroke="#000" stroke-width="0.32">r</text>
<text transform="translate(178.50 368.60) scale(0.8783 1)" font-family="&quot;Liberation Sans&quot;,Arial,sans-serif" font-size="46.00" fill="#000">y</text>
<text transform="translate(200.00 378.00) scale(1.2333 1)" font-family="&quot;Liberation Serif&quot;,&quot;Times New Roman&quot;,serif" font-size="36.00" fill="#000" stroke="#000" stroke-width="0.32">r</text>
<text transform="translate(152.41 463.90) scale(0.9459 1)" font-family="&quot;Liberation Serif&quot;,&quot;Times New Roman&quot;,serif" font-size="46.00" font-style="italic" fill="#000" stroke="#000" stroke-width="0.78">x</text>
<text transform="translate(174.50 472.80) scale(1.2333 1)" font-family="&quot;Liberation Serif&quot;,&quot;Times New Roman&quot;,serif" font-size="36.00" fill="#000" stroke="#000" stroke-width="0.32">r</text>
<text transform="translate(792.00 42.00) scale(0.9394 1)" font-family="&quot;Liberation Sans&quot;,Arial,sans-serif" font-size="54.00" font-weight="bold" fill="#000">b</text>
<text transform="translate(894.00 36.00) scale(0.8991 1)" font-family="&quot;Liberation Serif&quot;,&quot;Times New Roman&quot;,serif" font-size="44.00" font-style="italic" fill="#2E8FE8" stroke="#2E8FE8" stroke-width="0.75">T</text>
<text transform="translate(915.00 43.00) scale(1.0099 1)" font-family="&quot;Liberation Serif&quot;,&quot;Times New Roman&quot;,serif" font-size="36.00" fill="#2E8FE8" stroke="#2E8FE8" stroke-width="0.32">mag,yr</text>
<text transform="translate(1021.00 35.30) scale(1.0141 1)" font-family="&quot;Liberation Sans&quot;,Arial,sans-serif" font-size="39.00" fill="#000">&gt;1.9 µN·m</text>
<text transform="translate(1270.84 36.00) scale(0.9418 1)" font-family="&quot;Liberation Serif&quot;,&quot;Times New Roman&quot;,serif" font-size="44.00" font-style="italic" fill="#14AA52" stroke="#14AA52" stroke-width="0.75">F</text>
<text transform="translate(1291.00 43.00) scale(1.0198 1)" font-family="&quot;Liberation Serif&quot;,&quot;Times New Roman&quot;,serif" font-size="36.00" fill="#14AA52" stroke="#14AA52" stroke-width="0.32">mag,yr</text>
<text transform="translate(1398.00 35.30) scale(1.0236 1)" font-family="&quot;Liberation Sans&quot;,Arial,sans-serif" font-size="39.00" fill="#000">&gt;0.1 mN</text>
<clipPath id="bclip"><path clip-rule="evenodd" d="M1028.5 70.5 H1434.5 V447.5 H1028.5 Z M 1030.5 258.6 a 129.5 129.5 0 1 0 259.0 0 a 129.5 129.5 0 1 0 -259.0 0 Z"/></clipPath>
<g clip-path="url(#bclip)">
<ellipse cx="1224" cy="137.6" rx="58.8" ry="58.8" fill="url(#gb1)"/>
<ellipse cx="1224" cy="379.6" rx="58.8" ry="58.8" fill="url(#gb3)"/>
<path d="M1270 189 L1314 187.7 C 1365 215, 1365 302, 1314 329.5 L1270 328 Z" fill="url(#gb2)"/>
</g>
<path d="M 1143.1 130.2 A 129.5 129.5 0 1 1 1143.1 387.0" fill="none" stroke="#C00000" stroke-width="3.6" stroke-dasharray="13 6"/>
<rect x="1028.5" y="70.5" width="406.0" height="377.0" fill="none" stroke="#333" stroke-width="1.3"/>
<line x1="1023.50" y1="74.40" x2="1028.50" y2="74.40" stroke="#222" stroke-width="1.2"/>
<line x1="1023.50" y1="165.60" x2="1028.50" y2="165.60" stroke="#222" stroke-width="1.2"/>
<line x1="1023.50" y1="259.30" x2="1028.50" y2="259.30" stroke="#222" stroke-width="1.2"/>
<line x1="1023.50" y1="352.70" x2="1028.50" y2="352.70" stroke="#222" stroke-width="1.2"/>
<line x1="1023.50" y1="444.60" x2="1028.50" y2="444.60" stroke="#222" stroke-width="1.2"/>
<line x1="1159.90" y1="447.50" x2="1159.90" y2="452.50" stroke="#222" stroke-width="1.2"/>
<line x1="1346.40" y1="447.50" x2="1346.40" y2="452.50" stroke="#222" stroke-width="1.2"/>
<text transform="translate(969.00 99.60) scale(1.0000 1)" font-family="&quot;Liberation Sans&quot;,Arial,sans-serif" font-size="44.00" fill="#000">50</text>
<text transform="translate(969.00 189.00) scale(1.0000 1)" font-family="&quot;Liberation Sans&quot;,Arial,sans-serif" font-size="44.00" fill="#000">25</text>
<text transform="translate(993.50 278.50) scale(1.0000 1)" font-family="&quot;Liberation Sans&quot;,Arial,sans-serif" font-size="44.00" fill="#000">0</text>
<text transform="translate(954.50 371.50) scale(1.0000 1)" font-family="&quot;Liberation Sans&quot;,Arial,sans-serif" font-size="44.00" fill="#000">-25</text>
<text transform="translate(954.50 460.10) scale(1.0000 1)" font-family="&quot;Liberation Sans&quot;,Arial,sans-serif" font-size="44.00" fill="#000">-50</text>
<text transform="translate(1147.25 493.50) scale(1.0000 1)" font-family="&quot;Liberation Sans&quot;,Arial,sans-serif" font-size="44.00" fill="#000">0</text>
<text transform="translate(1318.50 493.50) scale(1.0000 1)" font-family="&quot;Liberation Sans&quot;,Arial,sans-serif" font-size="44.00" fill="#000">50</text>
<g transform="translate(1110.0 258.0) rotate(0.00)" fill="none" stroke="#3C3C3C" stroke-width="3.4" stroke-linecap="round">
<path d="M0.0 0.0 L2.0 4.2 L4.0 8.1 L5.9 11.4 L7.9 13.7 L9.9 14.9 L11.9 14.8 L13.9 13.6 L15.9 11.3 L17.8 8.0 L19.8 4.1 L21.8 -0.2 L23.8 -4.4 L25.8 -8.3 L27.8 -11.5 L29.7 -13.7 L31.7 -14.9 L33.7 -14.8 L35.7 -13.5 L37.7 -11.1 L39.6 -7.9 L41.6 -3.9 L43.6 0.3 L45.6 4.6 L47.6 8.4 L49.6 11.6 L51.5 13.8 L53.5 14.9 L55.5 14.8 L57.5 13.5 L59.5 11.0 L61.5 7.7 L63.4 3.8 L65.4 -0.5 L67.4 -4.7 L69.4 -8.5 L71.4 -11.7 L73.4 -13.9 L75.3 -14.9 L77.3 -14.8 L79.3 -13.4 L81.3 -10.9 L83.3 -7.6 L85.2 -3.6 L87.2 0.7 L89.2 4.9 L91.2 8.7 L93.2 11.8 L95.2 13.9 L97.1 14.9 L99.1 14.7 L101.1 13.3 L103.1 10.8 L105.1 7.4 L107.1 3.4 L109.0 -0.8 L111.0 -5.0 L113.0 -8.8 M0.0 15.0 L2.0 14.4 L4.0 12.6 L5.9 9.8 L7.9 6.2 L9.9 2.1 L11.9 -2.2 L13.9 -6.3 L15.9 -9.9 L17.8 -12.7 L19.8 -14.4 L21.8 -15.0 L23.8 -14.3 L25.8 -12.5 L27.8 -9.7 L29.7 -6.0 L31.7 -1.9 L33.7 2.4 L35.7 6.5 L37.7 10.0 L39.6 12.8 L41.6 14.5 L43.6 15.0 L45.6 14.3 L47.6 12.4 L49.6 9.5 L51.5 5.9 L53.5 1.7 L55.5 -2.6 L57.5 -6.6 L59.5 -10.2 L61.5 -12.9 L63.4 -14.5 L65.4 -15.0 L67.4 -14.2 L69.4 -12.3 L71.4 -9.4 L73.4 -5.7 L75.3 -1.6 L77.3 2.7 L79.3 6.8 L81.3 10.3 L83.3 12.9 L85.2 14.6 L87.2 15.0 L89.2 14.2 L91.2 12.2 L93.2 9.3 L95.2 5.6 L97.1 1.4 L99.1 -2.9 L101.1 -6.9 L103.1 -10.4 L105.1 -13.0 L107.1 -14.6 L109.0 -15.0 L111.0 -14.1 L113.0 -12.1 M0.0 0.0 L2.0 -4.2 L4.0 -8.1 L5.9 -11.4 L7.9 -13.7 L9.9 -14.9 L11.9 -14.8 L13.9 -13.6 L15.9 -11.3 L17.8 -8.0 L19.8 -4.1 L21.8 0.2 L23.8 4.4 L25.8 8.3 L27.8 11.5 L29.7 13.7 L31.7 14.9 L33.7 14.8 L35.7 13.5 L37.7 11.1 L39.6 7.9 L41.6 3.9 L43.6 -0.3 L45.6 -4.6 L47.6 -8.4 L49.6 -11.6 L51.5 -13.8 L53.5 -14.9 L55.5 -14.8 L57.5 -13.5 L59.5 -11.0 L61.5 -7.7 L63.4 -3.8 L65.4 0.5 L67.4 4.7 L69.4 8.5 L71.4 11.7 L73.4 13.9 L75.3 14.9 L77.3 14.8 L79.3 13.4 L81.3 10.9 L83.3 7.6 L85.2 3.6 L87.2 -0.7 L89.2 -4.9 L91.2 -8.7 L93.2 -11.8 L95.2 -13.9 L97.1 -14.9 L99.1 -14.7 L101.1 -13.3 L103.1 -10.8 L105.1 -7.4 L107.1 -3.4 L109.0 0.8 L111.0 5.0 L113.0 8.8 M0.0 -15.0 L2.0 -14.4 L4.0 -12.6 L5.9 -9.8 L7.9 -6.2 L9.9 -2.1 L11.9 2.2 L13.9 6.3 L15.9 9.9 L17.8 12.7 L19.8 14.4 L21.8 15.0 L23.8 14.3 L25.8 12.5 L27.8 9.7 L29.7 6.0 L31.7 1.9 L33.7 -2.4 L35.7 -6.5 L37.7 -10.0 L39.6 -12.8 L41.6 -14.5 L43.6 -15.0 L45.6 -14.3 L47.6 -12.4 L49.6 -9.5 L51.5 -5.9 L53.5 -1.7 L55.5 2.6 L57.5 6.6 L59.5 10.2 L61.5 12.9 L63.4 14.5 L65.4 15.0 L67.4 14.2 L69.4 12.3 L71.4 9.4 L73.4 5.7 L75.3 1.6 L77.3 -2.7 L79.3 -6.8 L81.3 -10.3 L83.3 -12.9 L85.2 -14.6 L87.2 -15.0 L89.2 -14.2 L91.2 -12.2 L93.2 -9.3 L95.2 -5.6 L97.1 -1.4 L99.1 2.9 L101.1 6.9 L103.1 10.4 L105.1 13.0 L107.1 14.6 L109.0 15.0 L111.0 14.1 L113.0 12.1"/>
<path d="M0 -15.0 L113.0 -15.0 M0 15.0 L113.0 15.0" stroke-width="2.04"/>
</g>
<line x1="1082.60" y1="220.40" x2="1118.00" y2="220.40" stroke="#000" stroke-width="4.4"/>
<line x1="1133.00" y1="220.40" x2="1166.50" y2="220.40" stroke="#000" stroke-width="4.4"/>
<polygon points="1180.5,220.4 1165.5,226.9 1165.5,213.9" fill="#000" />
<text transform="translate(1067.80 195.70) scale(0.8488 1)" font-family="&quot;Liberation Serif&quot;,&quot;Times New Roman&quot;,serif" font-size="46.00" font-style="italic" fill="#000" stroke="#000" stroke-width="0.78">v</text>
<text transform="translate(1086.60 204.30) scale(1.1167 1)" font-family="&quot;Liberation Serif&quot;,&quot;Times New Roman&quot;,serif" font-size="36.00" fill="#000" stroke="#000" stroke-width="0.32">r</text>
<line x1="1178.00" y1="257.50" x2="1278.00" y2="257.50" stroke="#C00000" stroke-width="3"/>
<polygon points="1166.5,257.5 1181.5,251.2 1181.5,263.8" fill="#C00000" />
<polygon points="1289.3,257.5 1274.3,263.8 1274.3,251.2" fill="#C00000" />
<text transform="translate(1043.60 309.80) scale(0.9506 1)" font-family="&quot;Liberation Serif&quot;,&quot;Times New Roman&quot;,serif" font-size="42.00" font-style="italic" fill="#C00000" stroke="#C00000" stroke-width="0.71">d</text>
<text transform="translate(1065.00 317.90) scale(1.0341 1)" font-family="&quot;Liberation Serif&quot;,&quot;Times New Roman&quot;,serif" font-size="33.00" fill="#C00000" stroke="#C00000" stroke-width="0.30">min</text>
<text transform="translate(1121.50 309.30) scale(1.0657 1)" font-family="&quot;Liberation Sans&quot;,Arial,sans-serif" font-size="37.00" fill="#C00000">=30 mm</text>
<text transform="translate(1044.01 366.50) scale(1.0137 1)" font-family="&quot;Liberation Serif&quot;,&quot;Times New Roman&quot;,serif" font-size="40.00" font-style="italic" fill="#000" stroke="#000" stroke-width="0.68">x</text>
<text transform="translate(1064.00 374.50) scale(1.3023 1)" font-family="&quot;Liberation Serif&quot;,&quot;Times New Roman&quot;,serif" font-size="32.00" fill="#000" stroke="#000" stroke-width="0.29">r</text>
<text transform="translate(1084.00 366.50) scale(1.0884 1)" font-family="&quot;Liberation Sans&quot;,Arial,sans-serif" font-size="37.00" fill="#000">= 0 mm</text>
<text transform="translate(1160.36 525.50) scale(0.7143 1)" font-family="&quot;Liberation Serif&quot;,&quot;Times New Roman&quot;,serif" font-size="46.00" font-style="italic" fill="#000" stroke="#000" stroke-width="0.78">y</text>
<text transform="translate(1177.00 533.00) scale(1.1556 1)" font-family="&quot;Liberation Serif&quot;,&quot;Times New Roman&quot;,serif" font-size="34.00" fill="#000" stroke="#000" stroke-width="0.31">r</text>
<text transform="translate(1192.00 525.50) scale(1.0488 1)" font-family="&quot;Liberation Sans&quot;,Arial,sans-serif" font-size="44.00" fill="#000">(mm)</text>
<g transform="translate(937.5 261) rotate(-90)">
<text transform="translate(-71.35 0.00) scale(0.8718 1)" font-family="&quot;Liberation Serif&quot;,&quot;Times New Roman&quot;,serif" font-size="48.00" font-style="italic" fill="#000" stroke="#000" stroke-width="0.82">z</text>
<text transform="translate(-53.00 8.00) scale(1.0833 1)" font-family="&quot;Liberation Serif&quot;,&quot;Times New Roman&quot;,serif" font-size="36.00" fill="#000" stroke="#000" stroke-width="0.32">r</text>
<text transform="translate(-37.00 0.00) scale(1.0210 1)" font-family="&quot;Liberation Sans&quot;,Arial,sans-serif" font-size="46.00" fill="#000">(mm)</text>
</g>
<rect x="1460" y="70.5" width="20.5" height="377" fill="url(#vir)" stroke="#333" stroke-width="0.8"/>
<line x1="1480.50" y1="145.70" x2="1485.00" y2="145.70" stroke="#222" stroke-width="1.2"/>
<line x1="1480.50" y1="221.40" x2="1485.00" y2="221.40" stroke="#222" stroke-width="1.2"/>
<line x1="1480.50" y1="297.10" x2="1485.00" y2="297.10" stroke="#222" stroke-width="1.2"/>
<line x1="1480.50" y1="372.80" x2="1485.00" y2="372.80" stroke="#222" stroke-width="1.2"/>
<line x1="1480.50" y1="70.50" x2="1485.00" y2="70.50" stroke="#222" stroke-width="1.2"/>
<line x1="1480.50" y1="447.50" x2="1485.00" y2="447.50" stroke="#222" stroke-width="1.2"/>
<text transform="translate(1492.70 96.90) scale(0.9649 1)" font-family="&quot;Liberation Sans&quot;,Arial,sans-serif" font-size="44.00" fill="#000">0.7</text>
<text transform="translate(1492.70 457.40) scale(0.9437 1)" font-family="&quot;Liberation Sans&quot;,Arial,sans-serif" font-size="44.00" fill="#000">0.1</text>
<g transform="translate(1565.4 371.5) rotate(-90)">
<text transform="translate(1.20 0.00) scale(0.8174 1)" font-family="&quot;Liberation Serif&quot;,&quot;Times New Roman&quot;,serif" font-size="46.00" font-style="italic" fill="#000" stroke="#000" stroke-width="0.78">F</text>
<text transform="translate(19.90 7.50) scale(1.0287 1)" font-family="&quot;Liberation Serif&quot;,&quot;Times New Roman&quot;,serif" font-size="36.00" fill="#000" stroke="#000" stroke-width="0.32">mag,yr</text>
<text transform="translate(131.50 -1.00) scale(0.9893 1)" font-family="&quot;Liberation Sans&quot;,Arial,sans-serif" font-size="40.00" fill="#000">(mN)</text>
</g>
<text transform="translate(10.00 572.00) scale(1.0100 1)" font-family="&quot;Liberation Sans&quot;,Arial,sans-serif" font-size="54.00" font-weight="bold" fill="#000">c</text>
<text transform="translate(681.50 551.00) scale(1.0827 1)" font-family="&quot;Liberation Sans&quot;,Arial,sans-serif" font-size="46.00" fill="#000">Actuation region</text>
<polygon points="184.0,904.3 600.0,780.0 602.5,562.0 163.0,676.0" fill="#EFEFEF" />
<polygon points="600.0,780.0 760.0,1112.0 781.0,890.0 602.5,562.0" fill="#F9F9F9" />
<polygon points="184.0,904.3 321.7,1242.6 760.0,1112.0 600.0,780.0" fill="#F6F6F6" />
<path d="M339.2 1237.4 L200.6 899.3 L180.6 671.4 M430.4 1210.2 L287.1 873.5 L272.0 647.7 M521.5 1183.1 L373.7 847.6 L363.4 624.0 M612.7 1155.9 L460.2 821.8 L454.8 600.3 M703.8 1128.7 L546.7 795.9 L546.2 576.6 M207.3 961.5 L627.0 836.1 L632.7 617.4 M235.0 1029.7 L659.3 903.0 L668.6 683.5 M262.8 1097.9 L691.5 970.0 L704.6 749.7 M290.6 1166.1 L723.8 1036.9 L740.6 815.8 M318.3 1234.3 L756.1 1103.8 L776.6 881.9 M179.3 853.1 L600.6 731.1 L764.7 1062.2 M174.4 799.8 L601.1 680.2 L769.6 1010.3 M169.5 746.4 L601.7 629.2 L774.5 958.5 M164.6 693.1 L602.3 578.3 L779.4 906.6" fill="none" stroke="#ADADAD" stroke-width="1.5" />
<rect x="160" y="585" width="640" height="57" fill="#fff" opacity="0.75"/>
<rect x="160" y="647" width="545" height="76" fill="#fff" opacity="0.75"/>
<path d="M163.0 676.0 L184.0 904.3 L321.7 1242.6 L760.0 1112.0" fill="none" stroke="#000" stroke-width="1.6" />
<path d="M179.3 853.1 l-9 2.2 M174.4 799.8 l-9 2.2 M169.5 746.4 l-9 2.2 M164.6 693.1 l-9 2.2 M207.3 961.5 l-9 2.4 M235.0 1029.7 l-9 2.4 M262.8 1097.9 l-9 2.4 M290.6 1166.1 l-9 2.4 M339.2 1237.4 l3 7.5 M430.4 1210.2 l3 7.5 M521.5 1183.1 l3 7.5 M612.7 1155.9 l3 7.5 M703.8 1128.7 l3 7.5" fill="none" stroke="#000" stroke-width="1.4" />
<path d="M260.1 929.7 L261.9 905.8 L268.5 882.3 L279.8 859.9 L287.9 848.2 L302.8 828.4 L310.7 818.8 L319.2 810.2 L335.9 794.4 L343.9 787.8 L362.4 775.1 L369.5 770.6 L388.9 761.0 L394.8 758.4 L414.4 751.8 L435.3 747.5 L437.8 747.2 L457.4 745.5 L477.2 746.1 L496.6 749.0 L499.8 749.5 L520.3 755.0 L539.4 762.8 L545.9 765.6 L564.6 776.4 L572.3 781.1 L589.8 794.8 L598.3 801.6 L606.3 809.4 L622.5 827.0 L630.9 836.7 L638.8 847.3 L652.3 868.8 L661.1 891.6 L664.9 915.1 L663.7 938.9 L657.4 962.2 L646.2 984.6 L630.4 1005.6 L610.4 1024.5 L586.6 1040.9 L559.7 1054.4 L530.3 1064.7 L499.3 1071.5 L467.4 1074.6 L435.3 1073.9 L404.0 1069.5 L374.3 1061.5 L346.7 1050.0 L322.1 1035.4 L301.0 1017.9 L283.9 998.1 L271.2 976.4 L263.2 953.5 Z" fill="#9CC4E4" opacity="0.36" />
<path d="M451.1 799.4 L452.1 800.9 L453.5 802.3 L455.1 803.5 L456.9 804.6 L458.9 805.4 L461.1 806.0 L463.4 806.3 L465.7 806.4 L468.0 806.2 L470.2 805.8 L472.2 805.1 L474.1 804.2 L475.8 803.1 L477.2 801.8 L478.3 800.3 L479.0 798.8 L479.4 797.2 L479.5 795.5 L479.2 793.9 L478.5 792.3 L477.5 790.8 L476.2 789.4 L474.6 788.2 L472.7 787.1 L470.7 786.3 L468.5 785.7 L466.3 785.4 L463.9 785.3 L461.7 785.5 L459.5 785.9 L457.4 786.6 L455.5 787.5 L453.8 788.6 L452.4 789.9 L451.3 791.4 L450.6 792.9 L450.2 794.5 L450.1 796.2 L450.5 797.8 Z M437.5 804.6 L439.5 807.6 L442.1 810.4 L445.3 812.8 L448.9 814.9 L453.0 816.5 L457.4 817.7 L461.9 818.3 L466.5 818.5 L471.0 818.1 L475.5 817.3 L479.6 815.9 L483.4 814.1 L486.7 811.9 L489.5 809.3 L491.6 806.4 L493.2 803.3 L494.0 800.1 L494.1 796.8 L493.4 793.5 L492.1 790.3 L490.1 787.3 L487.5 784.5 L484.3 782.1 L480.6 780.0 L476.5 778.4 L472.2 777.2 L467.7 776.5 L463.1 776.4 L458.5 776.8 L454.1 777.6 L449.9 779.0 L446.2 780.8 L442.9 783.0 L440.1 785.6 L437.9 788.5 L436.4 791.6 L435.6 794.8 L435.5 798.1 L436.1 801.4 Z M423.8 810.8 L426.8 815.3 L430.8 819.4 L435.5 823.1 L441.0 826.2 L447.1 828.6 L453.6 830.4 L460.4 831.4 L467.2 831.6 L474.1 831.0 L480.7 829.7 L486.9 827.7 L492.5 825.0 L497.5 821.6 L501.6 817.8 L504.9 813.5 L507.2 808.9 L508.4 804.0 L508.5 799.1 L507.6 794.1 L505.6 789.4 L502.6 784.9 L498.6 780.7 L493.9 777.1 L488.4 774.0 L482.3 771.5 L475.8 769.8 L469.0 768.8 L462.2 768.6 L455.3 769.1 L448.8 770.4 L442.6 772.5 L436.9 775.2 L431.9 778.5 L427.8 782.4 L424.5 786.7 L422.3 791.3 L421.1 796.1 L420.9 801.1 L421.8 806.0 Z M410.3 818.0 L414.3 824.0 L419.5 829.5 L425.8 834.3 L433.1 838.5 L441.2 841.7 L449.8 844.0 L458.8 845.3 L467.9 845.7 L477.0 844.9 L485.8 843.2 L494.0 840.5 L501.5 836.8 L508.1 832.4 L513.6 827.3 L518.0 821.6 L521.0 815.4 L522.6 809.0 L522.8 802.4 L521.6 795.9 L518.9 789.5 L514.9 783.5 L509.7 778.0 L503.4 773.2 L496.1 769.1 L488.0 765.8 L479.4 763.5 L470.4 762.2 L461.3 761.9 L452.2 762.6 L443.5 764.3 L435.2 767.0 L427.7 770.7 L421.1 775.1 L415.6 780.2 L411.3 785.9 L408.3 792.1 L406.7 798.5 L406.5 805.1 L407.7 811.6 Z M397.0 826.2 L401.9 833.7 L408.4 840.5 L416.2 846.6 L425.3 851.7 L435.3 855.7 L446.0 858.6 L457.2 860.3 L468.6 860.6 L479.8 859.7 L490.7 857.6 L501.0 854.2 L510.3 849.7 L518.6 844.1 L525.4 837.7 L530.8 830.6 L534.6 822.9 L536.6 814.9 L536.9 806.7 L535.3 798.6 L532.0 790.7 L527.1 783.2 L520.6 776.4 L512.8 770.3 L503.7 765.2 L493.7 761.2 L483.0 758.3 L471.8 756.7 L460.4 756.3 L449.2 757.2 L438.3 759.4 L428.0 762.7 L418.7 767.3 L410.5 772.8 L403.6 779.2 L398.2 786.3 L394.5 794.0 L392.4 802.0 L392.2 810.2 L393.7 818.3 Z M383.8 835.5 L389.7 844.4 L397.4 852.5 L406.7 859.8 L417.5 865.9 L429.4 870.7 L442.2 874.1 L455.5 876.1 L469.1 876.5 L482.5 875.4 L495.5 872.8 L507.8 868.8 L518.9 863.4 L528.8 856.8 L537.0 849.1 L543.4 840.6 L547.9 831.4 L550.3 821.8 L550.7 812.1 L548.8 802.3 L544.9 792.9 L539.1 784.0 L531.3 775.8 L522.0 768.6 L511.2 762.5 L499.3 757.7 L486.5 754.3 L473.1 752.3 L459.6 751.8 L446.2 752.9 L433.2 755.5 L421.0 759.6 L409.9 765.0 L400.1 771.6 L391.8 779.2 L385.4 787.8 L380.9 796.9 L378.5 806.5 L378.1 816.3 L379.9 826.0 Z M370.9 845.7 L377.6 856.0 L386.5 865.5 L397.3 873.9 L409.8 881.0 L423.6 886.6 L438.4 890.5 L453.8 892.8 L469.5 893.3 L485.1 892.0 L500.2 889.0 L514.3 884.2 L527.3 878.0 L538.7 870.3 L548.2 861.4 L555.7 851.5 L560.9 840.9 L563.8 829.7 L564.1 818.4 L562.0 807.1 L557.5 796.2 L550.7 785.8 L541.8 776.4 L531.0 768.0 L518.5 760.9 L504.7 755.3 L489.9 751.3 L474.5 749.1 L458.8 748.6 L443.3 749.8 L428.2 752.9 L414.1 757.6 L401.2 763.8 L389.9 771.5 L380.3 780.4 L372.9 790.3 L367.6 800.9 L364.8 812.1 L364.4 823.4 L366.4 834.7 Z M358.2 856.8 L365.8 868.6 L375.9 879.3 L388.1 888.9 L402.1 896.9 L417.8 903.2 L434.5 907.7 L452.0 910.3 L469.8 910.9 L487.5 909.4 L504.6 905.9 L520.7 900.5 L535.4 893.4 L548.3 884.7 L559.1 874.5 L567.6 863.3 L573.6 851.2 L576.8 838.6 L577.3 825.7 L574.9 812.9 L569.8 800.4 L562.1 788.7 L552.0 778.0 L539.8 768.5 L525.7 760.4 L510.0 754.1 L493.3 749.6 L475.8 747.0 L458.1 746.5 L440.5 747.9 L423.5 751.4 L407.4 756.7 L392.8 763.8 L379.9 772.6 L369.1 782.7 L360.6 793.9 L354.7 806.0 L351.4 818.7 L350.9 831.6 L353.2 844.4 Z M345.9 868.9 L354.3 882.0 L365.4 894.1 L379.0 904.7 L394.6 913.7 L412.0 920.7 L430.7 925.7 L450.2 928.6 L470.0 929.2 L489.7 927.5 L508.8 923.6 L526.7 917.6 L543.1 909.6 L557.6 899.8 L569.7 888.5 L579.2 875.9 L585.8 862.4 L589.5 848.3 L590.0 833.9 L587.4 819.6 L581.8 805.7 L573.2 792.6 L562.0 780.6 L548.3 770.0 L532.6 761.1 L515.2 754.0 L496.6 749.0 L477.2 746.1 L457.4 745.5 L437.8 747.2 L418.8 751.0 L401.0 757.0 L384.7 765.0 L370.3 774.7 L358.3 786.0 L348.8 798.6 L342.1 812.1 L338.4 826.3 L337.8 840.7 L340.3 855.0 Z M333.9 881.9 L343.1 896.4 L355.2 909.6 L370.1 921.3 L387.3 931.2 L406.3 939.0 L426.8 944.5 L448.3 947.6 L470.1 948.2 L491.7 946.4 L512.7 942.0 L532.5 935.4 L550.5 926.5 L566.5 915.7 L579.8 903.2 L590.3 889.4 L597.6 874.5 L601.7 858.9 L602.3 843.0 L599.5 827.2 L593.3 812.0 L583.9 797.5 L571.6 784.3 L556.6 772.7 L539.4 762.8 L520.3 755.0 L499.8 749.5 L478.5 746.4 L456.8 745.7 L435.3 747.5 L414.4 751.8 L394.8 758.4 L376.9 767.2 L361.1 778.0 L347.8 790.5 L337.4 804.3 L330.0 819.2 L325.9 834.8 L325.2 850.8 L327.9 866.6 Z M322.3 895.7 L332.2 911.5 L345.4 926.0 L361.4 938.7 L380.1 949.5 L400.7 957.9 L423.0 963.9 L446.3 967.3 L470.0 967.9 L493.6 965.9 L516.4 961.1 L537.9 953.8 L557.6 944.2 L574.9 932.4 L589.5 918.7 L601.0 903.6 L609.0 887.3 L613.4 870.3 L614.1 853.0 L611.1 835.8 L604.4 819.2 L594.2 803.5 L580.9 789.1 L564.6 776.4 L545.9 765.6 L525.2 757.2 L503.0 751.2 L479.8 747.8 L456.2 747.1 L432.9 749.1 L410.3 753.8 L388.9 761.0 L369.5 770.6 L352.3 782.4 L337.8 796.0 L326.4 811.1 L318.3 827.4 L313.8 844.4 L313.0 861.8 L315.8 879.0 Z M311.1 910.4 L321.7 927.4 L335.8 943.0 L353.0 956.8 L373.0 968.4 L395.2 977.5 L419.2 984.0 L444.2 987.6 L469.8 988.3 L495.2 986.0 L519.8 980.8 L543.0 972.9 L564.3 962.4 L583.0 949.7 L598.7 934.9 L611.1 918.5 L619.8 900.9 L624.6 882.6 L625.4 863.9 L622.2 845.3 L615.0 827.3 L604.1 810.4 L589.8 794.8 L572.3 781.1 L552.2 769.6 L529.9 760.5 L506.0 754.0 L481.1 750.3 L455.8 749.6 L430.6 751.8 L406.3 756.9 L383.4 764.7 L362.4 775.1 L343.9 787.8 L328.3 802.6 L315.9 818.9 L307.2 836.5 L302.3 854.9 L301.3 873.7 L304.2 892.3 Z M300.3 925.8 L311.6 944.1 L326.5 960.8 L344.8 975.6 L366.1 988.0 L389.8 997.8 L415.4 1004.6 L442.1 1008.5 L469.4 1009.1 L496.6 1006.7 L522.9 1001.1 L547.8 992.6 L570.5 981.3 L590.6 967.6 L607.5 951.7 L620.8 934.1 L630.1 915.3 L635.3 895.6 L636.2 875.5 L632.8 855.7 L625.2 836.4 L613.6 818.2 L598.3 801.6 L579.6 786.9 L558.2 774.6 L534.4 764.8 L509.0 757.9 L482.4 754.1 L455.4 753.3 L428.6 755.7 L402.6 761.1 L378.1 769.6 L355.7 780.7 L335.9 794.4 L319.2 810.2 L306.0 827.7 L296.6 846.6 L291.2 866.4 L290.1 886.5 L293.1 906.5 Z M290.1 942.0 L301.9 961.5 L317.6 979.3 L337.0 995.0 L359.4 1008.2 L384.5 1018.5 L411.5 1025.8 L439.9 1029.8 L468.9 1030.5 L497.7 1027.8 L525.7 1021.9 L552.1 1012.7 L576.3 1000.7 L597.7 986.0 L615.7 969.1 L629.8 950.4 L639.8 930.3 L645.4 909.3 L646.4 888.0 L642.8 866.8 L634.8 846.3 L622.5 827.0 L606.3 809.4 L586.6 793.8 L563.9 780.6 L538.8 770.3 L511.8 763.0 L483.7 758.9 L455.1 758.1 L426.7 760.7 L399.2 766.5 L373.2 775.5 L349.5 787.4 L328.5 802.0 L310.7 818.8 L296.7 837.5 L286.6 857.6 L280.8 878.7 L279.5 900.1 L282.6 921.4 Z M280.4 958.9 L292.6 979.5 L309.1 998.3 L329.4 1014.9 L353.0 1028.8 L379.3 1039.8 L407.8 1047.5 L437.7 1051.7 L468.2 1052.4 L498.6 1049.5 L528.2 1043.1 L556.1 1033.4 L581.7 1020.6 L604.3 1005.0 L623.3 987.1 L638.3 967.2 L648.9 946.0 L654.8 923.8 L655.9 901.2 L652.2 878.8 L643.8 857.1 L630.9 836.7 L613.9 818.1 L593.2 801.6 L569.3 787.8 L542.9 776.8 L514.5 769.1 L484.9 764.8 L454.8 764.0 L425.0 766.8 L396.0 773.0 L368.7 782.5 L343.7 795.2 L321.6 810.6 L302.8 828.4 L287.9 848.2 L277.2 869.5 L271.0 891.8 L269.5 914.5 L272.6 937.1 Z M271.2 976.4 L283.9 998.1 L301.0 1017.9 L322.1 1035.4 L346.7 1050.0 L374.3 1061.5 L404.0 1069.5 L435.3 1073.9 L467.4 1074.6 L499.3 1071.5 L530.3 1064.7 L559.7 1054.4 L586.6 1040.9 L610.4 1024.5 L630.4 1005.6 L646.2 984.6 L657.4 962.2 L663.7 938.9 L664.9 915.1 L661.1 891.6 L652.3 868.8 L638.8 847.3 L621.0 827.7 L599.4 810.4 L574.4 795.9 L546.7 784.5 L517.1 776.4 L486.1 771.9 L454.7 771.1 L423.4 774.0 L393.2 780.6 L364.6 790.6 L338.4 803.9 L315.2 820.2 L295.5 839.0 L279.8 859.9 L268.5 882.3 L261.9 905.8 L260.1 929.7 L263.2 953.5 Z M464.8 795.3 L446.6 801.0 L428.4 808.6 L410.3 818.0 L392.6 829.2 L375.2 842.2 L358.2 856.8 L341.8 873.1 L326.1 891.0 L311.1 910.4 L296.9 931.2 L283.6 953.2 L271.2 976.4 M464.8 795.3 L450.7 805.7 L436.6 818.0 L422.5 832.0 L408.7 847.8 L395.0 865.2 L381.7 884.3 L368.7 904.9 L356.1 926.9 L344.0 950.2 L332.4 974.7 L321.4 1000.4 L311.1 1027.0 M464.8 795.3 L457.0 809.0 L449.1 824.5 L441.2 841.7 L433.3 860.6 L425.5 881.2 L417.8 903.2 L410.1 926.7 L402.6 951.5 L395.2 977.5 L388.0 1004.6 L381.0 1032.6 L374.3 1061.5 M464.8 795.3 L464.4 810.3 L463.9 827.1 L463.4 845.6 L462.7 865.8 L461.9 887.6 L460.9 910.8 L459.8 935.4 L458.5 961.3 L457.0 988.3 L455.3 1016.3 L453.4 1045.1 L451.3 1074.7 M464.8 795.3 L471.9 809.5 L478.9 825.5 L485.8 843.2 L492.4 862.6 L498.6 883.5 L504.6 905.9 L510.1 929.7 L515.2 954.7 L519.8 980.8 L523.9 1008.0 L527.4 1036.0 L530.3 1064.7 M464.8 795.3 L478.4 806.7 L491.8 819.8 L504.9 834.7 L517.8 851.3 L530.2 869.5 L542.1 889.2 L553.4 910.3 L564.0 932.7 L574.0 956.3 L583.1 981.0 L591.5 1006.6 L598.9 1033.0 M464.8 795.3 L482.7 802.3 L500.5 811.0 L518.0 821.6 L535.1 833.8 L551.6 847.8 L567.6 863.3 L582.9 880.3 L597.5 898.8 L611.1 918.5 L623.8 939.5 L635.6 961.6 L646.2 984.6 M464.8 795.3 L484.4 796.9 L503.8 800.4 L522.9 805.7 L541.6 812.8 L559.8 821.6 L577.4 832.1 L594.3 844.3 L610.3 858.0 L625.5 873.2 L639.7 889.9 L652.9 907.8 L664.9 927.0 M464.8 795.3 L483.0 791.5 L501.1 789.6 L518.9 789.5 L536.4 791.3 L553.4 795.0 L569.8 800.4 L585.7 807.7 L600.7 816.7 L615.0 827.3 L628.4 839.6 L640.9 853.4 L652.3 868.8 M464.8 795.3 L478.9 786.8 L492.9 780.2 L506.7 775.5 L520.2 772.8 L533.4 771.9 L546.2 773.0 L558.5 776.1 L570.2 781.0 L581.4 787.7 L591.9 796.3 L601.7 806.7 L610.7 818.8 M464.8 795.3 L472.6 783.6 L480.4 773.7 L488.0 765.8 L495.6 759.9 L502.9 756.0 L510.0 754.1 L516.9 754.2 L523.6 756.3 L529.9 760.5 L535.9 766.5 L541.5 774.5 L546.7 784.5 M464.8 795.3 L465.2 782.2 L465.5 771.1 L465.9 761.9 L466.2 754.7 L466.6 749.6 L467.0 746.5 L467.4 745.5 L467.9 746.5 L468.4 749.6 L469.0 754.8 L469.7 761.9 L470.4 771.0 M464.8 795.3 L457.7 783.0 L450.5 772.7 L443.5 764.3 L436.6 758.0 L429.9 753.6 L423.5 751.4 L417.4 751.2 L411.6 753.0 L406.3 756.9 L401.4 762.8 L397.0 770.7 L393.2 780.6 M464.8 795.3 L451.2 785.9 L437.7 778.3 L424.3 772.8 L411.2 769.2 L398.4 767.6 L386.1 768.0 L374.4 770.4 L363.2 774.8 L352.8 781.2 L343.1 789.5 L334.3 799.7 L326.4 811.7 M464.8 795.3 L446.9 790.3 L429.0 787.1 L411.3 785.9 L393.9 786.7 L377.0 789.3 L360.6 793.9 L344.9 800.4 L330.0 808.7 L315.9 818.9 L302.8 830.9 L290.8 844.6 L279.8 859.9 M464.8 795.3 L445.2 795.6 L425.7 797.8 L406.4 801.8 L387.4 807.7 L368.8 815.5 L350.8 825.1 L333.5 836.5 L316.9 849.5 L301.3 864.3 L286.6 880.6 L272.9 898.5 L260.4 917.7" fill="none" stroke="#4C8FC4" stroke-width="1.4" stroke-opacity="0.5"/>
<path d="M308.7 1013.3 L310.6 994.3 L316.2 975.7 L325.3 957.8 L331.8 947.2 L338.8 937.5 L350.0 922.6 L356.9 914.7 L369.9 902.2 L376.4 896.2 L383.2 891.1 L396.4 881.9 L411.2 874.3 L416.0 871.9 L430.8 866.6 L434.3 865.8 L446.4 863.2 L448.3 862.8 L462.8 861.4 L477.4 861.7 L491.7 863.8 L494.5 864.3 L509.7 868.4 L523.9 874.3 L529.4 876.9 L543.3 885.1 L549.7 889.4 L562.8 900.1 L569.8 906.2 L576.3 913.3 L588.5 927.1 L595.3 936.0 L601.5 945.7 L611.6 962.6 L618.0 980.5 L620.5 999.1 L619.2 1018.0 L614.0 1036.5 L605.0 1054.3 L592.4 1071.0 L576.6 1086.1 L557.9 1099.3 L536.8 1110.2 L514.0 1118.5 L489.9 1124.1 L465.1 1126.8 L440.5 1126.5 L416.4 1123.3 L393.6 1117.1 L372.7 1108.2 L354.0 1096.7 L338.2 1083.0 L325.5 1067.4 L316.2 1050.3 L310.6 1032.1 Z" fill="#7C7C7C" opacity="0.3" />
<path d="M455.1 903.3 L455.9 904.6 L457.0 905.8 L458.2 906.8 L459.8 907.7 L461.4 908.4 L463.2 908.9 L465.1 909.2 L467.0 909.2 L468.9 909.0 L470.8 908.6 L472.5 908.0 L474.1 907.2 L475.5 906.2 L476.7 905.1 L477.6 903.9 L478.3 902.5 L478.7 901.1 L478.8 899.7 L478.6 898.3 L478.0 896.9 L477.2 895.6 L476.2 894.5 L474.9 893.4 L473.4 892.5 L471.7 891.8 L469.9 891.4 L468.0 891.1 L466.1 891.0 L464.2 891.2 L462.4 891.6 L460.6 892.2 L459.0 893.0 L457.6 894.0 L456.4 895.1 L455.5 896.4 L454.8 897.7 L454.4 899.1 L454.4 900.5 L454.6 901.9 Z M443.6 908.0 L445.2 910.6 L447.3 913.0 L449.9 915.0 L452.9 916.8 L456.2 918.2 L459.8 919.1 L463.6 919.7 L467.4 919.8 L471.2 919.4 L474.9 918.6 L478.4 917.4 L481.6 915.8 L484.4 913.9 L486.8 911.6 L488.6 909.1 L490.0 906.5 L490.7 903.7 L490.9 900.8 L490.5 898.0 L489.4 895.3 L487.8 892.7 L485.7 890.3 L483.1 888.2 L480.1 886.5 L476.8 885.1 L473.2 884.2 L469.5 883.6 L465.6 883.5 L461.8 883.9 L458.2 884.7 L454.7 885.9 L451.5 887.5 L448.7 889.4 L446.3 891.7 L444.4 894.1 L443.1 896.8 L442.3 899.6 L442.2 902.5 L442.6 905.3 Z M432.2 913.7 L434.6 917.6 L437.8 921.1 L441.6 924.2 L446.1 926.9 L451.1 928.9 L456.4 930.4 L462.0 931.2 L467.7 931.3 L473.4 930.8 L479.0 929.6 L484.2 927.8 L488.9 925.4 L493.2 922.5 L496.7 919.1 L499.5 915.4 L501.5 911.4 L502.7 907.2 L502.9 902.9 L502.2 898.7 L500.7 894.6 L498.3 890.8 L495.1 887.2 L491.3 884.1 L486.8 881.5 L481.8 879.5 L476.4 878.0 L470.8 877.2 L465.1 877.1 L459.5 877.6 L454.0 878.8 L448.8 880.6 L444.0 883.0 L439.8 885.9 L436.3 889.2 L433.5 893.0 L431.5 897.0 L430.3 901.2 L430.1 905.4 L430.7 909.6 Z M421.0 920.4 L424.1 925.5 L428.2 930.2 L433.4 934.4 L439.3 937.8 L445.9 940.6 L453.0 942.5 L460.4 943.6 L468.0 943.7 L475.6 943.0 L482.9 941.4 L489.8 939.0 L496.2 935.9 L501.8 932.0 L506.5 927.5 L510.2 922.6 L512.9 917.2 L514.4 911.7 L514.7 906.0 L513.8 900.4 L511.8 895.0 L508.6 889.9 L504.4 885.2 L499.3 881.1 L493.3 877.6 L486.7 874.9 L479.6 873.0 L472.2 871.9 L464.7 871.7 L457.1 872.4 L449.8 874.0 L443.0 876.4 L436.7 879.5 L431.1 883.4 L426.4 887.9 L422.6 892.8 L420.0 898.1 L418.5 903.7 L418.1 909.4 L418.9 915.0 Z M409.8 928.1 L413.7 934.4 L418.9 940.3 L425.2 945.4 L432.5 949.7 L440.7 953.1 L449.6 955.5 L458.8 956.8 L468.2 957.1 L477.6 956.2 L486.7 954.2 L495.3 951.2 L503.2 947.2 L510.2 942.4 L516.1 936.8 L520.7 930.7 L524.1 924.1 L525.9 917.1 L526.3 910.1 L525.2 903.1 L522.7 896.4 L518.8 890.0 L513.5 884.2 L507.2 879.1 L499.8 874.8 L491.6 871.4 L482.8 869.0 L473.6 867.7 L464.2 867.4 L454.8 868.3 L445.8 870.3 L437.2 873.2 L429.4 877.2 L422.5 882.0 L416.6 887.6 L412.0 893.7 L408.7 900.3 L406.8 907.3 L406.3 914.3 L407.4 921.3 Z M398.9 936.6 L403.5 944.3 L409.6 951.2 L417.1 957.3 L425.9 962.5 L435.6 966.5 L446.1 969.4 L457.1 970.9 L468.4 971.2 L479.6 970.1 L490.4 967.8 L500.7 964.2 L510.1 959.4 L518.4 953.7 L525.4 947.0 L531.0 939.7 L534.9 931.8 L537.2 923.5 L537.7 915.2 L536.4 906.8 L533.3 898.8 L528.7 891.2 L522.5 884.3 L514.9 878.2 L506.1 873.0 L496.3 869.0 L485.8 866.1 L474.9 864.6 L463.7 864.3 L452.6 865.3 L441.8 867.7 L431.7 871.2 L422.3 875.9 L414.1 881.7 L407.1 888.3 L401.6 895.7 L397.6 903.6 L395.3 911.8 L394.8 920.2 L396.0 928.6 Z M388.2 946.1 L393.5 955.0 L400.5 963.0 L409.2 970.1 L419.3 976.1 L430.6 980.7 L442.7 984.0 L455.4 985.8 L468.4 986.1 L481.4 984.9 L493.9 982.1 L505.8 978.0 L516.7 972.5 L526.4 965.8 L534.5 958.1 L540.9 949.5 L545.5 940.4 L548.1 930.8 L548.7 921.1 L547.2 911.5 L543.7 902.2 L538.3 893.4 L531.1 885.4 L522.4 878.3 L512.2 872.4 L500.9 867.7 L488.8 864.4 L476.2 862.6 L463.3 862.3 L450.4 863.5 L438.0 866.2 L426.2 870.3 L415.5 875.8 L405.9 882.4 L397.8 890.1 L391.4 898.7 L386.8 907.8 L384.2 917.4 L383.5 927.1 L384.9 936.8 Z M377.8 956.5 L383.7 966.5 L391.7 975.6 L401.5 983.7 L412.9 990.4 L425.6 995.7 L439.3 999.4 L453.7 1001.5 L468.4 1001.8 L483.0 1000.3 L497.3 997.2 L510.7 992.5 L523.1 986.2 L534.0 978.6 L543.2 969.9 L550.5 960.2 L555.7 949.8 L558.7 939.0 L559.3 928.0 L557.7 917.1 L553.7 906.5 L547.6 896.6 L539.5 887.5 L529.6 879.5 L518.2 872.8 L505.4 867.5 L491.7 863.8 L477.4 861.7 L462.8 861.4 L448.3 862.8 L434.3 865.8 L421.0 870.5 L408.8 876.7 L398.0 884.3 L388.9 893.0 L381.6 902.7 L376.4 913.1 L373.3 923.9 L372.6 934.9 L374.1 945.9 Z M367.8 967.7 L374.3 978.9 L383.1 989.0 L393.9 998.0 L406.5 1005.5 L420.6 1011.4 L435.9 1015.5 L451.9 1017.8 L468.2 1018.1 L484.5 1016.5 L500.4 1013.0 L515.4 1007.7 L529.1 1000.7 L541.3 992.2 L551.6 982.5 L559.7 971.7 L565.5 960.1 L568.8 948.1 L569.6 935.8 L567.7 923.6 L563.4 911.9 L556.6 900.8 L547.6 890.7 L536.6 881.8 L523.9 874.3 L509.7 868.4 L494.5 864.3 L478.7 862.0 L462.5 861.6 L446.4 863.2 L430.8 866.6 L416.0 871.9 L402.5 878.8 L390.4 887.2 L380.3 896.9 L372.2 907.7 L366.3 919.3 L362.9 931.4 L362.0 943.7 L363.6 955.9 Z M358.0 979.7 L365.2 992.0 L374.7 1003.2 L386.6 1013.0 L400.4 1021.3 L415.8 1027.7 L432.5 1032.2 L450.0 1034.7 L468.0 1035.0 L485.9 1033.2 L503.3 1029.4 L519.7 1023.5 L534.9 1015.8 L548.2 1006.5 L559.6 995.8 L568.5 983.9 L574.9 971.2 L578.5 957.9 L579.4 944.4 L577.4 931.1 L572.6 918.1 L565.2 906.0 L555.4 894.9 L543.3 885.1 L529.4 876.9 L513.9 870.4 L497.3 865.9 L479.9 863.4 L462.1 863.0 L444.5 864.7 L427.4 868.5 L411.2 874.3 L396.4 881.9 L383.2 891.1 L372.0 901.8 L363.1 913.7 L356.7 926.4 L352.9 939.8 L351.9 953.3 L353.6 966.7 Z M348.7 992.5 L356.4 1005.8 L366.7 1018.0 L379.5 1028.7 L394.4 1037.6 L411.1 1044.6 L429.2 1049.5 L448.2 1052.2 L467.6 1052.5 L487.0 1050.6 L505.9 1046.3 L523.8 1039.9 L540.2 1031.6 L554.8 1021.4 L567.1 1009.7 L576.8 996.8 L583.8 983.0 L587.8 968.5 L588.7 953.9 L586.6 939.4 L581.4 925.3 L573.4 912.1 L562.8 900.1 L549.7 889.4 L534.6 880.5 L517.9 873.5 L499.9 868.6 L481.0 865.9 L461.8 865.5 L442.8 867.4 L424.2 871.5 L406.7 877.8 L390.6 886.1 L376.4 896.2 L364.2 907.8 L354.5 920.7 L347.5 934.6 L343.4 949.0 L342.2 963.8 L344.0 978.4 Z M339.9 1006.0 L348.0 1020.3 L359.0 1033.4 L372.7 1044.9 L388.6 1054.6 L406.5 1062.1 L425.9 1067.4 L446.3 1070.2 L467.2 1070.5 L488.0 1068.4 L508.3 1063.8 L527.6 1056.9 L545.3 1047.8 L560.9 1036.9 L574.2 1024.3 L584.7 1010.3 L592.2 995.4 L596.5 979.9 L597.5 964.1 L595.3 948.5 L589.8 933.4 L581.2 919.2 L569.8 906.2 L555.8 894.8 L539.6 885.2 L521.6 877.7 L502.3 872.4 L482.2 869.5 L461.6 869.1 L441.1 871.2 L421.3 875.6 L402.5 882.4 L385.2 891.3 L369.9 902.2 L356.9 914.7 L346.4 928.6 L338.9 943.6 L334.3 959.2 L333.0 975.0 L334.8 990.8 Z M331.5 1020.2 L340.0 1035.5 L351.7 1049.5 L366.1 1061.7 L383.1 1072.0 L402.1 1080.1 L422.7 1085.6 L444.4 1088.6 L466.6 1088.9 L488.8 1086.6 L510.5 1081.7 L531.0 1074.3 L549.9 1064.6 L566.6 1052.9 L580.8 1039.4 L592.0 1024.5 L600.0 1008.5 L604.7 991.9 L605.8 975.1 L603.4 958.4 L597.6 942.3 L588.5 927.1 L576.3 913.3 L561.5 901.1 L544.3 890.9 L525.2 882.9 L504.7 877.3 L483.3 874.3 L461.4 873.8 L439.7 876.0 L418.6 880.8 L398.6 888.0 L380.2 897.6 L363.9 909.2 L350.0 922.6 L338.8 937.5 L330.7 953.5 L325.8 970.1 L324.3 987.1 L326.2 1003.9 Z M323.6 1035.0 L332.5 1051.2 L344.7 1066.0 L359.9 1079.0 L377.7 1089.9 L397.8 1098.4 L419.5 1104.3 L442.4 1107.4 L465.9 1107.7 L489.4 1105.2 L512.4 1100.0 L534.1 1092.1 L554.1 1081.8 L571.8 1069.3 L586.8 1055.0 L598.8 1039.2 L607.3 1022.2 L612.2 1004.6 L613.5 986.8 L611.0 969.1 L604.9 952.0 L595.3 936.0 L582.5 921.3 L566.8 908.5 L548.7 897.7 L528.6 889.2 L506.9 883.3 L484.3 880.1 L461.3 879.6 L438.3 882.0 L416.1 887.0 L395.0 894.7 L375.6 904.9 L358.3 917.2 L343.6 931.5 L331.8 947.2 L323.2 964.2 L317.9 981.9 L316.2 999.9 L318.1 1017.7 Z M316.2 1050.3 L325.5 1067.4 L338.2 1083.0 L354.0 1096.7 L372.7 1108.2 L393.6 1117.1 L416.4 1123.3 L440.5 1126.5 L465.1 1126.8 L489.9 1124.1 L514.0 1118.5 L536.8 1110.2 L557.9 1099.3 L576.6 1086.1 L592.4 1071.0 L605.0 1054.3 L614.0 1036.5 L619.2 1018.0 L620.5 999.1 L618.0 980.5 L611.6 962.6 L601.5 945.7 L588.1 930.3 L571.7 916.7 L552.8 905.4 L531.7 896.5 L509.0 890.3 L485.3 886.9 L461.2 886.5 L437.2 889.0 L413.8 894.3 L391.7 902.5 L371.4 913.2 L353.3 926.2 L337.8 941.2 L325.3 957.8 L316.2 975.7 L310.6 994.3 L308.7 1013.3 L310.6 1032.1 Z M466.6 899.6 L452.2 904.4 L437.9 910.8 L423.8 918.7 L409.8 928.1 L396.2 938.9 L383.0 951.2 L370.2 964.8 L358.0 979.7 L346.5 995.8 L335.6 1013.0 L325.5 1031.2 L316.2 1050.3 M466.6 899.6 L455.3 908.2 L444.1 918.3 L432.9 929.9 L421.9 942.9 L411.1 957.4 L400.5 973.1 L390.3 990.1 L380.4 1008.3 L371.0 1027.4 L362.0 1047.5 L353.6 1068.5 L345.7 1090.1 M466.6 899.6 L460.1 910.7 L453.6 923.4 L447.2 937.6 L440.7 953.1 L434.4 970.0 L428.1 988.1 L421.9 1007.4 L415.8 1027.7 L409.9 1049.0 L404.3 1071.0 L398.8 1093.8 L393.6 1117.1 M466.6 899.6 L465.9 911.8 L465.2 925.4 L464.4 940.6 L463.5 957.1 L462.5 974.9 L461.5 993.9 L460.3 1014.0 L459.0 1035.1 L457.6 1057.1 L456.1 1079.8 L454.5 1103.2 L452.8 1127.1 M466.6 899.6 L471.8 911.0 L476.9 924.0 L481.9 938.4 L486.7 954.2 L491.3 971.3 L495.6 989.6 L499.6 1009.0 L503.3 1029.4 L506.6 1050.6 L509.4 1072.7 L511.9 1095.4 L514.0 1118.5 M466.6 899.6 L476.9 908.7 L487.1 919.3 L497.1 931.4 L506.8 944.9 L516.3 959.8 L525.3 975.8 L533.8 993.1 L541.8 1011.4 L549.2 1030.6 L556.0 1050.7 L562.1 1071.5 L567.5 1093.0 M466.6 899.6 L480.4 905.1 L494.1 912.1 L507.6 920.7 L520.7 930.7 L533.5 942.1 L545.8 954.8 L557.5 968.8 L568.5 983.9 L578.8 1000.1 L588.4 1017.3 L597.1 1035.4 L605.0 1054.3 M466.6 899.6 L481.8 900.8 L496.9 903.5 L511.8 907.8 L526.3 913.6 L540.4 920.9 L554.0 929.6 L567.0 939.8 L579.3 951.2 L590.9 963.8 L601.6 977.7 L611.5 992.6 L620.4 1008.6 M466.6 899.6 L480.9 896.4 L495.1 894.8 L509.0 894.8 L522.7 896.4 L536.0 899.5 L548.8 904.2 L561.0 910.5 L572.6 918.1 L583.6 927.3 L593.7 937.7 L603.1 949.5 L611.6 962.6 M466.6 899.6 L477.8 892.6 L488.9 887.3 L499.8 883.6 L510.5 881.6 L520.9 881.2 L530.9 882.4 L540.5 885.3 L549.6 889.8 L558.2 895.9 L566.2 903.5 L573.6 912.7 L580.3 923.3 M466.6 899.6 L473.0 890.1 L479.3 882.2 L485.5 875.9 L491.6 871.4 L497.5 868.6 L503.2 867.5 L508.7 868.1 L513.9 870.4 L518.8 874.5 L523.5 880.2 L527.7 887.5 L531.7 896.5 M466.6 899.6 L467.2 889.1 L467.8 880.1 L468.3 872.9 L468.9 867.4 L469.4 863.7 L469.9 861.7 L470.5 861.4 L471.0 862.9 L471.6 866.2 L472.1 871.2 L472.7 877.9 L473.3 886.3 M466.6 899.6 L461.3 889.8 L456.1 881.6 L450.9 875.1 L445.8 870.3 L440.9 867.2 L436.1 865.9 L431.6 866.3 L427.4 868.5 L423.5 872.4 L419.9 878.1 L416.7 885.4 L413.8 894.3 M466.6 899.6 L456.2 892.1 L445.9 886.2 L435.8 882.0 L425.8 879.5 L416.2 878.7 L406.8 879.5 L398.0 882.1 L389.6 886.3 L381.7 892.2 L374.5 899.7 L367.9 908.8 L362.0 919.4 M466.6 899.6 L452.7 895.7 L438.9 893.4 L425.3 892.8 L412.0 893.7 L399.0 896.3 L386.5 900.5 L374.5 906.3 L363.1 913.7 L352.5 922.6 L342.6 933.0 L333.5 944.7 L325.3 957.8 M466.6 899.6 L451.3 900.0 L436.1 902.0 L421.1 905.6 L406.4 910.8 L392.0 917.5 L378.1 925.7 L364.7 935.4 L352.0 946.5 L340.1 959.0 L328.9 972.7 L318.6 987.7 L309.2 1003.8" fill="none" stroke="#444" stroke-width="1.4" stroke-opacity="0.36"/>
<g filter="url(#blur2)">
<path d="M275 880 C276 850,292 815,314 788 C336 765,368 752,392 762 C380 776,356 798,338 820 C318 846,296 874,279 885 Z" fill="#5A1412" opacity="0.85" />
<path d="M292 852 C302 824,324 796,350 778 C364 770,376 768,384 769 C366 788,346 808,330 830 C314 850,300 866,290 868 Z" fill="#B41C10" opacity="0.9" />
<path d="M316 848 C326 830,340 812,352 800 L357 804 C346 816,332 834,321 852 Z" fill="#E89030" opacity="0.95" />
</g>
<path d="M284 868 C290 844,306 816,325 795 C344 776,366 765,384 767" fill="none" stroke="#2E0A0A" stroke-width="17" opacity="0.28" stroke-dasharray="2.2 2.8"/>
<path d="M351.8 920.7 C360 916,366 913,372 915 C384 924,398 920,412 914 C428 908,440 916,456.5 940" fill="none" stroke="#C8242C" stroke-width="2.2" />
<circle cx="372" cy="915" r="7.2" fill="#1E2630"/>
<line x1="355.30" y1="954.00" x2="325.56" y2="940.44" stroke="#000" stroke-width="4.6"/>
<polygon points="311.0,933.8 329.4,934.5 323.6,947.2" fill="#000" />
<line x1="367.40" y1="959.30" x2="378.10" y2="963.40" stroke="#000" stroke-width="4.6"/>
<text transform="translate(321.70 991.50) scale(0.9171 1)" font-family="&quot;Liberation Serif&quot;,&quot;Times New Roman&quot;,serif" font-size="46.00" font-style="italic" fill="#000" stroke="#000" stroke-width="0.78">v</text>
<text transform="translate(342.00 1001.00) scale(1.1083 1)" font-family="&quot;Liberation Serif&quot;,&quot;Times New Roman&quot;,serif" font-size="36.00" fill="#000" stroke="#000" stroke-width="0.32">r</text>
<line x1="475.50" y1="758.30" x2="541.00" y2="758.30" stroke="#C00000" stroke-width="3.6"/>
<text transform="translate(551.00 775.00) scale(0.9978 1)" font-family="&quot;Liberation Sans&quot;,Arial,sans-serif" font-size="44.00" fill="#A33A40">Lumen</text>
<line x1="406.00" y1="851.00" x2="371.37" y2="829.97" stroke="#C00000" stroke-width="7"/>
<polygon points="350.0,817.0 378.5,820.2 366.0,840.8" fill="#C00000" />
<text transform="translate(413.40 867.30) scale(1.0298 1)" font-family="&quot;Liberation Sans&quot;,Arial,sans-serif" font-size="48.00" font-weight="bold" fill="#C00000">Actuation region</text>
<circle cx="645" cy="970.6" r="7.2" fill="#4472C4"/>
<line x1="645.00" y1="970.60" x2="645.00" y2="1056.00" stroke="#4472C4" stroke-width="4.2"/>
<text transform="translate(541.60 1094.40) scale(1.0110 1)" font-family="&quot;Liberation Sans&quot;,Arial,sans-serif" font-size="44.00" fill="#4472C4">Constraint</text>
<circle cx="400.9" cy="1088.2" r="7.4" fill="#000"/>
<line x1="400.50" y1="1088.20" x2="392.90" y2="1126.30" stroke="#000" stroke-width="5"/>
<text transform="translate(316.40 1172.80) scale(0.9987 1)" font-family="&quot;Liberation Sans&quot;,Arial,sans-serif" font-size="44.00" fill="#000">Substrate</text>
<text transform="translate(201.30 620.10) scale(0.9248 1)" font-family="&quot;Liberation Serif&quot;,&quot;Times New Roman&quot;,serif" font-size="44.00" font-style="italic" fill="#2E8FE8" stroke="#2E8FE8" stroke-width="0.75">T</text>
<text transform="translate(221.50 629.20) scale(1.0634 1)" font-family="&quot;Liberation Serif&quot;,&quot;Times New Roman&quot;,serif" font-size="36.00" fill="#2E8FE8" stroke="#2E8FE8" stroke-width="0.32">mag,yr</text>
<text transform="translate(345.60 620.00) scale(0.6902 1)" font-family="&quot;DejaVu Sans&quot;,sans-serif" font-size="44.00" fill="#000">∈</text>
<text transform="translate(389.00 624.00) scale(0.5970 1)" font-family="&quot;Liberation Serif&quot;,&quot;Times New Roman&quot;,serif" font-size="50.00" fill="#000" stroke="#000" stroke-width="0.45">[</text>
<text transform="translate(403.40 620.00) scale(0.9145 1)" font-family="&quot;Liberation Serif&quot;,&quot;Times New Roman&quot;,serif" font-size="44.00" fill="#000" stroke="#000" stroke-width="0.40">2.0</text>
<text transform="translate(473.80 620.00) scale(0.9475 1)" font-family="&quot;Liberation Sans&quot;,Arial,sans-serif" font-size="41.00" fill="#000">µN·m</text>
<text transform="translate(572.00 620.00) scale(0.5455 1)" font-family="&quot;Liberation Serif&quot;,&quot;Times New Roman&quot;,serif" font-size="44.00" fill="#000" stroke="#000" stroke-width="0.40">,</text>
<text transform="translate(591.30 620.00) scale(1.0026 1)" font-family="&quot;Liberation Serif&quot;,&quot;Times New Roman&quot;,serif" font-size="44.00" fill="#000" stroke="#000" stroke-width="0.40">13.2</text>
<text transform="translate(685.20 620.00) scale(0.9644 1)" font-family="&quot;Liberation Sans&quot;,Arial,sans-serif" font-size="41.00" fill="#000">µN·m</text>
<text transform="translate(786.00 624.00) scale(0.5970 1)" font-family="&quot;Liberation Serif&quot;,&quot;Times New Roman&quot;,serif" font-size="50.00" fill="#000" stroke="#000" stroke-width="0.45">]</text>
<text transform="translate(205.64 701.30) scale(0.9491 1)" font-family="&quot;Liberation Serif&quot;,&quot;Times New Roman&quot;,serif" font-size="44.00" font-style="italic" fill="#14AA52" stroke="#14AA52" stroke-width="0.75">F</text>
<text transform="translate(224.80 710.70) scale(1.0465 1)" font-family="&quot;Liberation Serif&quot;,&quot;Times New Roman&quot;,serif" font-size="36.00" fill="#14AA52" stroke="#14AA52" stroke-width="0.32">mag,yr</text>
<text transform="translate(349.00 701.20) scale(0.6928 1)" font-family="&quot;DejaVu Sans&quot;,sans-serif" font-size="44.00" fill="#000">∈</text>
<text transform="translate(392.00 705.20) scale(0.5970 1)" font-family="&quot;Liberation Serif&quot;,&quot;Times New Roman&quot;,serif" font-size="50.00" fill="#000" stroke="#000" stroke-width="0.45">[</text>
<text transform="translate(405.00 701.20) scale(0.9164 1)" font-family="&quot;Liberation Serif&quot;,&quot;Times New Roman&quot;,serif" font-size="44.00" fill="#000" stroke="#000" stroke-width="0.40">0.1</text>
<text transform="translate(475.50 701.20) scale(1.0008 1)" font-family="&quot;Liberation Sans&quot;,Arial,sans-serif" font-size="41.00" fill="#000">mN</text>
<text transform="translate(541.00 701.20) scale(0.5455 1)" font-family="&quot;Liberation Serif&quot;,&quot;Times New Roman&quot;,serif" font-size="44.00" fill="#000" stroke="#000" stroke-width="0.40">,</text>
<text transform="translate(557.70 701.20) scale(0.9764 1)" font-family="&quot;Liberation Serif&quot;,&quot;Times New Roman&quot;,serif" font-size="44.00" fill="#000" stroke="#000" stroke-width="0.40">0.4</text>
<text transform="translate(626.50 701.20) scale(0.9490 1)" font-family="&quot;Liberation Sans&quot;,Arial,sans-serif" font-size="41.00" fill="#000">mN</text>
<text transform="translate(690.30 705.20) scale(0.5970 1)" font-family="&quot;Liberation Serif&quot;,&quot;Times New Roman&quot;,serif" font-size="50.00" fill="#000" stroke="#000" stroke-width="0.45">]</text>
<text transform="translate(81.00 705.60) scale(0.9857 1)" font-family="&quot;Liberation Sans&quot;,Arial,sans-serif" font-size="44.00" fill="#000">40</text>
<text transform="translate(90.00 763.60) scale(0.9857 1)" font-family="&quot;Liberation Sans&quot;,Arial,sans-serif" font-size="44.00" fill="#000">20</text>
<text transform="translate(106.30 817.60) scale(0.9878 1)" font-family="&quot;Liberation Sans&quot;,Arial,sans-serif" font-size="44.00" fill="#000">0</text>
<text transform="translate(81.00 868.00) scale(1.0970 1)" font-family="&quot;Liberation Sans&quot;,Arial,sans-serif" font-size="44.00" fill="#000">−20</text>
<text transform="translate(108.30 982.10) scale(1.0071 1)" font-family="&quot;Liberation Sans&quot;,Arial,sans-serif" font-size="42.00" fill="#000">-100</text>
<text transform="translate(155.30 1052.00) scale(1.0156 1)" font-family="&quot;Liberation Sans&quot;,Arial,sans-serif" font-size="42.00" fill="#000">-50</text>
<text transform="translate(222.40 1117.70) scale(0.9806 1)" font-family="&quot;Liberation Sans&quot;,Arial,sans-serif" font-size="42.00" fill="#000">0</text>
<text transform="translate(227.80 1194.20) scale(1.0053 1)" font-family="&quot;Liberation Sans&quot;,Arial,sans-serif" font-size="42.00" fill="#000">50</text>
<text transform="translate(309.70 1288.20) scale(0.9771 1)" font-family="&quot;Liberation Sans&quot;,Arial,sans-serif" font-size="42.00" fill="#000">100</text>
<text transform="translate(410.70 1254.00) scale(1.0118 1)" font-family="&quot;Liberation Sans&quot;,Arial,sans-serif" font-size="42.00" fill="#000">50</text>
<text transform="translate(515.20 1229.70) scale(0.9634 1)" font-family="&quot;Liberation Sans&quot;,Arial,sans-serif" font-size="42.00" fill="#000">0</text>
<text transform="translate(595.00 1205.50) scale(0.9942 1)" font-family="&quot;Liberation Sans&quot;,Arial,sans-serif" font-size="42.00" fill="#000">-50</text>
<text transform="translate(681.30 1175.40) scale(1.0571 1)" font-family="&quot;Liberation Sans&quot;,Arial,sans-serif" font-size="42.00" fill="#000">-100</text>
<g transform="translate(34 789) rotate(82)">
<text transform="translate(-70.32 14.00) scale(0.9067 1)" font-family="&quot;Liberation Serif&quot;,&quot;Times New Roman&quot;,serif" font-size="46.00" font-style="italic" fill="#000" stroke="#000" stroke-width="0.78">z</text>
<text transform="translate(-52.00 22.00) scale(1.1556 1)" font-family="&quot;Liberation Serif&quot;,&quot;Times New Roman&quot;,serif" font-size="34.00" fill="#000" stroke="#000" stroke-width="0.31">r</text>
<text transform="translate(-36.00 14.00) scale(1.0439 1)" font-family="&quot;Liberation Sans&quot;,Arial,sans-serif" font-size="44.00" fill="#000">(mm)</text>
</g>
<g transform="translate(118 1136) rotate(70.5)">
<text transform="translate(-66.22 14.00) scale(0.6939 1)" font-family="&quot;Liberation Serif&quot;,&quot;Times New Roman&quot;,serif" font-size="46.00" font-style="italic" fill="#000" stroke="#000" stroke-width="0.78">y</text>
<text transform="translate(-50.00 22.00) scale(1.1556 1)" font-family="&quot;Liberation Serif&quot;,&quot;Times New Roman&quot;,serif" font-size="34.00" fill="#000" stroke="#000" stroke-width="0.31">r</text>
<text transform="translate(-35.00 14.00) scale(1.0374 1)" font-family="&quot;Liberation Sans&quot;,Arial,sans-serif" font-size="43.00" fill="#000">(mm)</text>
</g>
<g transform="translate(570.8 1278) rotate(-18)">
<text transform="translate(-72.36 12.00) scale(0.8471 1)" font-family="&quot;Liberation Serif&quot;,&quot;Times New Roman&quot;,serif" font-size="46.00" font-style="italic" fill="#000" stroke="#000" stroke-width="0.78">x</text>
<text transform="translate(-53.00 20.00) scale(1.1556 1)" font-family="&quot;Liberation Serif&quot;,&quot;Times New Roman&quot;,serif" font-size="34.00" fill="#000" stroke="#000" stroke-width="0.31">r</text>
<text transform="translate(-37.00 12.00) scale(1.0732 1)" font-family="&quot;Liberation Sans&quot;,Arial,sans-serif" font-size="44.00" fill="#000">(mm)</text>
</g>
<text transform="translate(1160.44 583.80) scale(0.7102 1)" font-family="&quot;Liberation Serif&quot;,&quot;Times New Roman&quot;,serif" font-size="46.00" font-style="italic" fill="#000" stroke="#000" stroke-width="0.78">y</text>
<text transform="translate(1177.00 591.00) scale(1.1556 1)" font-family="&quot;Liberation Serif&quot;,&quot;Times New Roman&quot;,serif" font-size="34.00" fill="#000" stroke="#000" stroke-width="0.31">r</text>
<text transform="translate(1192.00 583.80) scale(1.0537 1)" font-family="&quot;Liberation Sans&quot;,Arial,sans-serif" font-size="44.00" fill="#000">(mm)</text>
<text transform="translate(1111.00 641.70) scale(0.9988 1)" font-family="&quot;Liberation Sans&quot;,Arial,sans-serif" font-size="43.00" fill="#000">-100</text>
<text transform="translate(1246.00 641.70) scale(0.9167 1)" font-family="&quot;Liberation Sans&quot;,Arial,sans-serif" font-size="43.00" fill="#000">0</text>
<text transform="translate(1339.20 641.70) scale(0.9575 1)" font-family="&quot;Liberation Sans&quot;,Arial,sans-serif" font-size="43.00" fill="#000">100</text>
<rect x="1094.8" y="658.4" width="298.2" height="295.9" fill="#F5F5F5"/>
<polygon points="1393.0,658.4 1402.0,653.4 1402.0,956.3 1393.0,954.3" fill="#ECECEC" />
<path d="M1146.8 658.4 V954.3 M1262.1 658.4 V954.3 M1094.8 695.2 H1393.0 l9 -5 M1094.8 813.4 H1393.0 l9 -5 M1094.8 931.2 H1393.0 l9 -5" fill="none" stroke="#ADADAD" stroke-width="1.4" />
<path d="M1094.8 658.4 H1393.0 M1094.8 658.4 V946.3" fill="none" stroke="#555" stroke-width="1.2" />
<circle cx="1237.6" cy="800.0" r="128" fill="#9CC4E4" opacity="0.36"/>
<circle cx="1239.0" cy="800.5" r="100" fill="#808080" opacity="0.30"/>
<circle cx="1239.0" cy="800.5" r="94" fill="none" stroke="#666" stroke-width="12" opacity="0.16"/>
<g fill="none" stroke="#555" stroke-opacity="0.25" stroke-width="1"><circle cx="1239.0" cy="800.5" r="5.7"/><circle cx="1239.0" cy="800.5" r="11.4"/><circle cx="1239.0" cy="800.5" r="17.1"/><circle cx="1239.0" cy="800.5" r="22.8"/><circle cx="1239.0" cy="800.5" r="28.4"/><circle cx="1239.0" cy="800.5" r="34.0"/><circle cx="1239.0" cy="800.5" r="39.4"/><circle cx="1239.0" cy="800.5" r="44.9"/><circle cx="1239.0" cy="800.5" r="50.2"/><circle cx="1239.0" cy="800.5" r="55.4"/><circle cx="1239.0" cy="800.5" r="60.5"/><circle cx="1239.0" cy="800.5" r="65.5"/><circle cx="1239.0" cy="800.5" r="70.4"/><circle cx="1239.0" cy="800.5" r="75.1"/><circle cx="1239.0" cy="800.5" r="79.7"/><circle cx="1239.0" cy="800.5" r="84.1"/><circle cx="1239.0" cy="800.5" r="88.3"/><circle cx="1239.0" cy="800.5" r="92.4"/><circle cx="1239.0" cy="800.5" r="96.3"/><circle cx="1239.0" cy="800.5" r="100.0"/></g>
<g fill="none" stroke="#5B94C2" stroke-opacity="0.32" stroke-width="1"><circle cx="1237.6" cy="800.0" r="6.5"/><circle cx="1237.6" cy="800.0" r="13.0"/><circle cx="1237.6" cy="800.0" r="19.5"/><circle cx="1237.6" cy="800.0" r="25.9"/><circle cx="1237.6" cy="800.0" r="32.3"/><circle cx="1237.6" cy="800.0" r="38.7"/><circle cx="1237.6" cy="800.0" r="45.0"/><circle cx="1237.6" cy="800.0" r="51.3"/><circle cx="1237.6" cy="800.0" r="57.5"/><circle cx="1237.6" cy="800.0" r="63.6"/><circle cx="1237.6" cy="800.0" r="69.6"/><circle cx="1237.6" cy="800.0" r="75.6"/><circle cx="1237.6" cy="800.0" r="81.4"/><circle cx="1237.6" cy="800.0" r="87.1"/><circle cx="1237.6" cy="800.0" r="92.7"/><circle cx="1237.6" cy="800.0" r="98.2"/><circle cx="1237.6" cy="800.0" r="103.5"/><circle cx="1237.6" cy="800.0" r="108.7"/><circle cx="1237.6" cy="800.0" r="113.8"/><circle cx="1237.6" cy="800.0" r="118.7"/><circle cx="1237.6" cy="800.0" r="123.4"/><circle cx="1237.6" cy="800.0" r="128.0"/></g>
<g fill="none" stroke="#4C7FA8" stroke-opacity="0.55" stroke-width="1.2"><line x1="1237.6" y1="800.0" x2="1364.0" y2="820.4"/><line x1="1237.6" y1="800.0" x2="1346.5" y2="867.2"/><line x1="1237.6" y1="800.0" x2="1312.5" y2="903.8"/><line x1="1237.6" y1="800.0" x2="1267.1" y2="924.6"/><line x1="1237.6" y1="800.0" x2="1217.2" y2="926.4"/><line x1="1237.6" y1="800.0" x2="1170.4" y2="908.9"/><line x1="1237.6" y1="800.0" x2="1133.8" y2="874.9"/><line x1="1237.6" y1="800.0" x2="1113.0" y2="829.5"/><line x1="1237.6" y1="800.0" x2="1111.2" y2="779.6"/><line x1="1237.6" y1="800.0" x2="1128.7" y2="732.8"/><line x1="1237.6" y1="800.0" x2="1162.7" y2="696.2"/><line x1="1237.6" y1="800.0" x2="1208.1" y2="675.4"/><line x1="1237.6" y1="800.0" x2="1258.0" y2="673.6"/><line x1="1237.6" y1="800.0" x2="1304.8" y2="691.1"/><line x1="1237.6" y1="800.0" x2="1341.4" y2="725.1"/><line x1="1237.6" y1="800.0" x2="1362.2" y2="770.5"/></g>
<g filter="url(#blur2)"><rect x="1153" y="825" width="41" height="86" rx="18" fill="#4E1614" opacity="0.9" transform="rotate(-4 1173 867)"/><rect x="1160" y="835" width="27" height="64" rx="12" fill="#7A1E16" opacity="0.85" transform="rotate(-4 1173 867)"/></g>
<path d="M1182 858.6 C1192 852,1200 851,1206 851.5 C1222 853,1226 838,1236 826 C1244 816,1254 816,1263 814.4" fill="none" stroke="#C8242C" stroke-width="2" />
<circle cx="1205.2" cy="851.7" r="6.2" fill="#1E2630"/>
<line x1="1250.80" y1="868.40" x2="1216.19" y2="872.44" stroke="#000" stroke-width="4.6"/>
<polygon points="1200.3,874.3 1216.4,865.4 1218.0,879.3" fill="#000" />
<circle cx="1265.6" cy="867" r="2" fill="#000"/>
<text transform="translate(1258.00 907.60) scale(0.9268 1)" font-family="&quot;Liberation Serif&quot;,&quot;Times New Roman&quot;,serif" font-size="46.00" font-style="italic" fill="#000" stroke="#000" stroke-width="0.78">v</text>
<text transform="translate(1278.00 916.00) scale(1.0833 1)" font-family="&quot;Liberation Serif&quot;,&quot;Times New Roman&quot;,serif" font-size="36.00" fill="#000" stroke="#000" stroke-width="0.32">r</text>
<text transform="translate(1005.40 723.60) scale(1.0000 1)" font-family="&quot;Liberation Sans&quot;,Arial,sans-serif" font-size="43.00" fill="#000">-100</text>
<text transform="translate(1060.00 834.00) scale(1.0000 1)" font-family="&quot;Liberation Sans&quot;,Arial,sans-serif" font-size="43.00" fill="#000">0</text>
<text transform="translate(1014.75 956.70) scale(1.0000 1)" font-family="&quot;Liberation Sans&quot;,Arial,sans-serif" font-size="43.00" fill="#000">100</text>
<line x1="1092.80" y1="695.20" x2="1098.80" y2="695.20" stroke="#333" stroke-width="1.2"/>
<line x1="1092.80" y1="813.40" x2="1098.80" y2="813.40" stroke="#333" stroke-width="1.2"/>
<line x1="1092.80" y1="931.20" x2="1098.80" y2="931.20" stroke="#333" stroke-width="1.2"/>
<g transform="translate(998.6 814.4) rotate(-90)">
<text transform="translate(-70.58 0.00) scale(0.9553 1)" font-family="&quot;Liberation Serif&quot;,&quot;Times New Roman&quot;,serif" font-size="46.00" font-style="italic" fill="#000" stroke="#000" stroke-width="0.78">x</text>
<text transform="translate(-48.00 8.00) scale(1.4222 1)" font-family="&quot;Liberation Serif&quot;,&quot;Times New Roman&quot;,serif" font-size="34.00" fill="#000" stroke="#000" stroke-width="0.31">r</text>
<text transform="translate(-27.70 0.00) scale(1.0098 1)" font-family="&quot;Liberation Sans&quot;,Arial,sans-serif" font-size="44.00" fill="#000">(mm)</text>
</g>
<rect x="1094.8" y="981.2" width="304.2" height="231.6" fill="#F7F7F7"/>
<polygon points="1094.8,981.2 1112.8,987.2 1112.8,1204.8 1094.8,1212.8" fill="#EEEEEE" />
<path d="M1165.0 985.2 V1212.8 M1282.7 985.2 V1212.8 M1094.8 1033.7 l18 4 H1399.0 M1094.8 1096.0 l18 4 H1399.0 M1094.8 1163.7 l18 4 H1399.0" fill="none" stroke="#ADADAD" stroke-width="1.4" />
<path d="M1094.8 981.2 V1212.8 H1415.0" fill="none" stroke="#333" stroke-width="1.4" />
<path d="M1125.7 1112.7 L1130.1 1102.2 L1134.5 1092.6 L1138.8 1083.8 L1143.2 1075.7 L1147.6 1068.2 L1152.0 1061.2 L1156.3 1054.8 L1160.7 1048.7 L1165.1 1043.1 L1169.5 1037.9 L1173.8 1033.0 L1178.2 1028.5 L1182.6 1024.3 L1187.0 1020.4 L1191.3 1016.8 L1195.7 1013.5 L1200.1 1010.4 L1204.5 1007.6 L1208.9 1005.1 L1213.2 1002.7 L1217.6 1000.7 L1222.0 998.8 L1226.4 997.2 L1230.7 995.8 L1235.1 994.6 L1239.5 993.7 L1243.9 993.0 L1248.2 992.4 L1252.6 992.1 L1257.0 992.0 L1261.4 992.1 L1265.8 992.4 L1270.1 993.0 L1274.5 993.7 L1278.9 994.6 L1283.3 995.8 L1287.6 997.2 L1292.0 998.8 L1296.4 1000.7 L1300.8 1002.7 L1305.1 1005.1 L1309.5 1007.6 L1313.9 1010.4 L1318.3 1013.5 L1322.7 1016.8 L1327.0 1020.4 L1331.4 1024.3 L1335.8 1028.5 L1340.2 1033.0 L1344.5 1037.9 L1348.9 1043.1 L1353.3 1048.7 L1357.7 1054.8 L1362.0 1061.2 L1366.4 1068.2 L1370.8 1075.7 L1375.2 1083.8 L1379.5 1092.6 L1383.9 1102.2 L1388.3 1112.7 Z" fill="#9CC4E4" opacity="0.42" />
<path d="M1250.4 992.2 H1263.6 M1243.9 993.0 H1270.1 M1237.3 994.1 H1276.7 M1230.7 995.8 H1283.3 M1224.2 998.0 H1289.8 M1217.6 1000.7 H1296.4 M1211.0 1003.9 H1303.0 M1204.5 1007.6 H1309.5 M1197.9 1011.9 H1316.1 M1191.3 1016.8 H1322.7 M1184.8 1022.3 H1329.2 M1178.2 1028.5 H1335.8 M1171.7 1035.4 H1342.3 M1165.1 1043.1 H1348.9 M1158.5 1051.7 H1355.5 M1152.0 1061.2 H1362.0 M1145.4 1071.9 H1368.6 M1138.8 1083.8 H1375.2 M1132.3 1097.3 H1381.7 M1125.7 1112.7 H1388.3 M1257.0 992.0 L1267.9 992.7 L1278.8 994.6 L1289.8 998.0 L1300.7 1002.7 L1311.6 1009.0 L1322.5 1016.8 L1333.5 1026.4 L1344.4 1037.9 L1355.3 1051.7 L1366.2 1068.2 L1377.1 1088.1 L1388.1 1112.7 M1257.0 992.0 L1267.5 992.7 L1278.0 994.6 L1288.5 998.0 L1299.0 1002.7 L1309.5 1009.0 L1320.0 1016.8 L1330.5 1026.4 L1341.0 1037.9 L1351.5 1051.7 L1362.0 1068.2 L1372.5 1088.1 L1383.0 1112.7 M1257.0 992.0 L1266.6 992.7 L1276.1 994.6 L1285.7 998.0 L1295.2 1002.7 L1304.8 1009.0 L1314.3 1016.8 L1323.9 1026.4 L1333.4 1037.9 L1343.0 1051.7 L1352.6 1068.2 L1362.1 1088.1 L1371.7 1112.7 M1257.0 992.0 L1265.1 992.7 L1273.3 994.6 L1281.4 998.0 L1289.5 1002.7 L1297.7 1009.0 L1305.8 1016.8 L1313.9 1026.4 L1322.0 1037.9 L1330.2 1051.7 L1338.3 1068.2 L1346.4 1088.1 L1354.6 1112.7 M1257.0 992.0 L1263.3 992.7 L1269.6 994.6 L1275.9 998.0 L1282.2 1002.7 L1288.5 1009.0 L1294.8 1016.8 L1301.1 1026.4 L1307.4 1037.9 L1313.7 1051.7 L1320.0 1068.2 L1326.3 1088.1 L1332.6 1112.7 M1257.0 992.0 L1261.1 992.7 L1265.3 994.6 L1269.4 998.0 L1273.6 1002.7 L1277.7 1009.0 L1281.9 1016.8 L1286.0 1026.4 L1290.2 1037.9 L1294.3 1051.7 L1298.5 1068.2 L1302.6 1088.1 L1306.8 1112.7 M1257.0 992.0 L1258.8 992.7 L1260.6 994.6 L1262.4 998.0 L1264.2 1002.7 L1266.0 1009.0 L1267.7 1016.8 L1269.5 1026.4 L1271.3 1037.9 L1273.1 1051.7 L1274.9 1068.2 L1276.7 1088.1 L1278.5 1112.7 M1257.0 992.0 L1256.3 992.7 L1255.7 994.6 L1255.0 998.0 L1254.4 1002.7 L1253.7 1009.0 L1253.1 1016.8 L1252.4 1026.4 L1251.8 1037.9 L1251.1 1051.7 L1250.4 1068.2 L1249.8 1088.1 L1249.1 1112.7 M1257.0 992.0 L1253.9 992.7 L1250.9 994.6 L1247.8 998.0 L1244.7 1002.7 L1241.6 1009.0 L1238.6 1016.8 L1235.5 1026.4 L1232.4 1037.9 L1229.4 1051.7 L1226.3 1068.2 L1223.2 1088.1 L1220.2 1112.7 M1257.0 992.0 L1251.7 992.7 L1246.3 994.6 L1241.0 998.0 L1235.7 1002.7 L1230.4 1009.0 L1225.0 1016.8 L1219.7 1026.4 L1214.4 1037.9 L1209.0 1051.7 L1203.7 1068.2 L1198.4 1088.1 L1193.0 1112.7 M1257.0 992.0 L1249.7 992.7 L1242.4 994.6 L1235.0 998.0 L1227.7 1002.7 L1220.4 1009.0 L1213.1 1016.8 L1205.7 1026.4 L1198.4 1037.9 L1191.1 1051.7 L1183.8 1068.2 L1176.5 1088.1 L1169.1 1112.7 M1257.0 992.0 L1248.1 992.7 L1239.1 994.6 L1230.2 998.0 L1221.2 1002.7 L1212.3 1009.0 L1203.3 1016.8 L1194.4 1026.4 L1185.4 1037.9 L1176.5 1051.7 L1167.5 1068.2 L1158.6 1088.1 L1149.6 1112.7 M1257.0 992.0 L1246.9 992.7 L1236.7 994.6 L1226.6 998.0 L1216.5 1002.7 L1206.4 1009.0 L1196.2 1016.8 L1186.1 1026.4 L1176.0 1037.9 L1165.9 1051.7 L1155.7 1068.2 L1145.6 1088.1 L1135.5 1112.7 M1257.0 992.0 L1246.2 992.7 L1235.4 994.6 L1224.6 998.0 L1213.8 1002.7 L1203.0 1009.0 L1192.2 1016.8 L1181.4 1026.4 L1170.6 1037.9 L1159.9 1051.7 L1149.1 1068.2 L1138.3 1088.1 L1127.5 1112.7" fill="none" stroke="#4C8FC4" stroke-width="1.3" stroke-opacity="0.55"/>
<path d="M1151.5 1191.2 L1155.0 1182.3 L1158.5 1174.2 L1162.0 1166.8 L1165.5 1159.9 L1169.0 1153.6 L1172.5 1147.7 L1176.0 1142.2 L1179.5 1137.1 L1183.0 1132.4 L1186.5 1128.0 L1190.0 1123.9 L1193.5 1120.1 L1197.0 1116.5 L1200.5 1113.2 L1204.0 1110.2 L1207.5 1107.4 L1211.0 1104.8 L1214.5 1102.4 L1218.0 1100.2 L1221.5 1098.3 L1225.0 1096.5 L1228.5 1095.0 L1232.0 1093.6 L1235.5 1092.4 L1239.0 1091.4 L1242.5 1090.6 L1246.0 1090.0 L1249.5 1089.6 L1253.0 1089.3 L1256.5 1089.2 L1260.0 1089.3 L1263.5 1089.6 L1267.0 1090.0 L1270.5 1090.6 L1274.0 1091.4 L1277.5 1092.4 L1281.0 1093.6 L1284.5 1095.0 L1288.0 1096.5 L1291.5 1098.3 L1295.0 1100.2 L1298.5 1102.4 L1302.0 1104.8 L1305.5 1107.4 L1309.0 1110.2 L1312.5 1113.2 L1316.0 1116.5 L1319.5 1120.1 L1323.0 1123.9 L1326.5 1128.0 L1330.0 1132.4 L1333.5 1137.1 L1337.0 1142.2 L1340.5 1147.7 L1344.0 1153.6 L1347.5 1159.9 L1351.0 1166.8 L1354.5 1174.2 L1358.0 1182.3 L1361.5 1191.2 Z" fill="#7C7C7C" opacity="0.36" />
<path d="M1250.7 1089.4 H1262.3 M1244.8 1090.2 H1268.2 M1239.0 1091.4 H1274.0 M1233.2 1093.2 H1279.8 M1227.3 1095.5 H1285.7 M1221.5 1098.3 H1291.5 M1215.7 1101.7 H1297.3 M1209.8 1105.6 H1303.2 M1204.0 1110.2 H1309.0 M1198.2 1115.4 H1314.8 M1192.3 1121.3 H1320.7 M1186.5 1128.0 H1326.5 M1180.7 1135.5 H1332.3 M1174.8 1144.0 H1338.2 M1169.0 1153.6 H1344.0 M1163.2 1164.4 H1349.8 M1157.3 1176.8 H1355.7 M1151.5 1191.2 H1361.5 M1256.5 1089.2 L1265.2 1089.8 L1274.0 1091.4 L1282.7 1094.3 L1291.4 1098.3 L1300.2 1103.6 L1308.9 1110.2 L1317.6 1118.3 L1326.4 1128.0 L1335.1 1139.6 L1343.8 1153.6 L1352.6 1170.4 L1361.3 1191.2 M1256.5 1089.2 L1264.9 1089.8 L1273.3 1091.4 L1281.7 1094.3 L1290.1 1098.3 L1298.5 1103.6 L1306.9 1110.2 L1315.3 1118.3 L1323.7 1128.0 L1332.1 1139.6 L1340.5 1153.6 L1348.9 1170.4 L1357.3 1191.2 M1256.5 1089.2 L1264.1 1089.8 L1271.8 1091.4 L1279.4 1094.3 L1287.1 1098.3 L1294.7 1103.6 L1302.3 1110.2 L1310.0 1118.3 L1317.6 1128.0 L1325.3 1139.6 L1332.9 1153.6 L1340.6 1170.4 L1348.2 1191.2 M1256.5 1089.2 L1263.0 1089.8 L1269.5 1091.4 L1276.0 1094.3 L1282.5 1098.3 L1289.0 1103.6 L1295.5 1110.2 L1302.0 1118.3 L1308.5 1128.0 L1315.0 1139.6 L1321.5 1153.6 L1328.0 1170.4 L1334.5 1191.2 M1256.5 1089.2 L1261.5 1089.8 L1266.6 1091.4 L1271.6 1094.3 L1276.6 1098.3 L1281.7 1103.6 L1286.7 1110.2 L1291.7 1118.3 L1296.8 1128.0 L1301.8 1139.6 L1306.9 1153.6 L1311.9 1170.4 L1316.9 1191.2 M1256.5 1089.2 L1259.8 1089.8 L1263.1 1091.4 L1266.5 1094.3 L1269.8 1098.3 L1273.1 1103.6 L1276.4 1110.2 L1279.7 1118.3 L1283.0 1128.0 L1286.4 1139.6 L1289.7 1153.6 L1293.0 1170.4 L1296.3 1191.2 M1256.5 1089.2 L1257.9 1089.8 L1259.4 1091.4 L1260.8 1094.3 L1262.2 1098.3 L1263.7 1103.6 L1265.1 1110.2 L1266.5 1118.3 L1268.0 1128.0 L1269.4 1139.6 L1270.8 1153.6 L1272.3 1170.4 L1273.7 1191.2 M1256.5 1089.2 L1256.0 1089.8 L1255.5 1091.4 L1254.9 1094.3 L1254.4 1098.3 L1253.9 1103.6 L1253.4 1110.2 L1252.8 1118.3 L1252.3 1128.0 L1251.8 1139.6 L1251.3 1153.6 L1250.7 1170.4 L1250.2 1191.2 M1256.5 1089.2 L1254.0 1089.8 L1251.6 1091.4 L1249.1 1094.3 L1246.7 1098.3 L1244.2 1103.6 L1241.8 1110.2 L1239.3 1118.3 L1236.9 1128.0 L1234.4 1139.6 L1231.9 1153.6 L1229.5 1170.4 L1227.0 1191.2 M1256.5 1089.2 L1252.2 1089.8 L1248.0 1091.4 L1243.7 1094.3 L1239.5 1098.3 L1235.2 1103.6 L1230.9 1110.2 L1226.7 1118.3 L1222.4 1128.0 L1218.1 1139.6 L1213.9 1153.6 L1209.6 1170.4 L1205.4 1191.2 M1256.5 1089.2 L1250.6 1089.8 L1244.8 1091.4 L1238.9 1094.3 L1233.1 1098.3 L1227.2 1103.6 L1221.4 1110.2 L1215.5 1118.3 L1209.7 1128.0 L1203.8 1139.6 L1197.9 1153.6 L1192.1 1170.4 L1186.2 1191.2 M1256.5 1089.2 L1249.3 1089.8 L1242.2 1091.4 L1235.0 1094.3 L1227.9 1098.3 L1220.7 1103.6 L1213.6 1110.2 L1206.4 1118.3 L1199.3 1128.0 L1192.1 1139.6 L1184.9 1153.6 L1177.8 1170.4 L1170.6 1191.2 M1256.5 1089.2 L1248.4 1089.8 L1240.3 1091.4 L1232.2 1094.3 L1224.1 1098.3 L1216.0 1103.6 L1207.9 1110.2 L1199.8 1118.3 L1191.7 1128.0 L1183.6 1139.6 L1175.5 1153.6 L1167.4 1170.4 L1159.3 1191.2 M1256.5 1089.2 L1247.9 1089.8 L1239.2 1091.4 L1230.6 1094.3 L1222.0 1098.3 L1213.3 1103.6 L1204.7 1110.2 L1196.1 1118.3 L1187.4 1128.0 L1178.8 1139.6 L1170.2 1153.6 L1161.5 1170.4 L1152.9 1191.2" fill="none" stroke="#444" stroke-width="1.3" stroke-opacity="0.4"/>
<g filter="url(#blur2)"><rect x="1169.5" y="1004" width="40" height="101" rx="17" fill="#4E1614" opacity="0.88"/><rect x="1176" y="1012" width="27" height="74" rx="12" fill="#7A1E16" opacity="0.85"/></g>
<path d="M1199.3 1155.4 C1206 1140,1212 1128,1221.4 1124.5 C1238 1120,1240 1106,1250 1098 C1260 1092,1272 1094,1282.7 1096.5" fill="none" stroke="#C8242C" stroke-width="2" />
<circle cx="1221.4" cy="1124.5" r="6.2" fill="#1E2630"/>
<line x1="1249.40" y1="1135.80" x2="1222.01" y2="1151.39" stroke="#000" stroke-width="4.6"/>
<polygon points="1208.1,1159.3 1219.4,1144.8 1226.3,1157.0" fill="#000" />
<circle cx="1264" cy="1128.5" r="2" fill="#000"/>
<text transform="translate(1254.30 1180.00) scale(0.9122 1)" font-family="&quot;Liberation Serif&quot;,&quot;Times New Roman&quot;,serif" font-size="46.00" font-style="italic" fill="#000" stroke="#000" stroke-width="0.78">v</text>
<text transform="translate(1274.00 1188.50) scale(1.0833 1)" font-family="&quot;Liberation Serif&quot;,&quot;Times New Roman&quot;,serif" font-size="36.00" fill="#000" stroke="#000" stroke-width="0.32">r</text>
<text transform="translate(1037.75 1054.80) scale(1.0000 1)" font-family="&quot;Liberation Sans&quot;,Arial,sans-serif" font-size="43.00" fill="#000">25</text>
<text transform="translate(1061.50 1121.00) scale(1.0000 1)" font-family="&quot;Liberation Sans&quot;,Arial,sans-serif" font-size="43.00" fill="#000">0</text>
<text transform="translate(1023.25 1202.00) scale(1.0000 1)" font-family="&quot;Liberation Sans&quot;,Arial,sans-serif" font-size="43.00" fill="#000">-25</text>
<text transform="translate(1111.00 1258.50) scale(1.0267 1)" font-family="&quot;Liberation Sans&quot;,Arial,sans-serif" font-size="43.00" fill="#000">-100</text>
<text transform="translate(1277.80 1258.50) scale(0.9250 1)" font-family="&quot;Liberation Sans&quot;,Arial,sans-serif" font-size="43.00" fill="#000">0</text>
<text transform="translate(1363.70 1258.50) scale(0.9575 1)" font-family="&quot;Liberation Sans&quot;,Arial,sans-serif" font-size="43.00" fill="#000">100</text>
<text transform="translate(1204.85 1307.50) scale(0.8612 1)" font-family="&quot;Liberation Serif&quot;,&quot;Times New Roman&quot;,serif" font-size="46.00" font-style="italic" fill="#000" stroke="#000" stroke-width="0.78">x</text>
<text transform="translate(1224.50 1315.00) scale(1.2000 1)" font-family="&quot;Liberation Serif&quot;,&quot;Times New Roman&quot;,serif" font-size="34.00" fill="#000" stroke="#000" stroke-width="0.31">r</text>
<text transform="translate(1240.00 1307.50) scale(1.0634 1)" font-family="&quot;Liberation Sans&quot;,Arial,sans-serif" font-size="44.00" fill="#000">(mm)</text>
<g transform="translate(996.8 1104) rotate(-90)">
<text transform="translate(-68.16 0.00) scale(0.9813 1)" font-family="&quot;Liberation Serif&quot;,&quot;Times New Roman&quot;,serif" font-size="46.00" font-style="italic" fill="#000" stroke="#000" stroke-width="0.78">z</text>
<text transform="translate(-49.00 8.00) scale(1.2978 1)" font-family="&quot;Liberation Serif&quot;,&quot;Times New Roman&quot;,serif" font-size="34.00" fill="#000" stroke="#000" stroke-width="0.31">r</text>
<text transform="translate(-32.40 0.00) scale(1.0098 1)" font-family="&quot;Liberation Sans&quot;,Arial,sans-serif" font-size="44.00" fill="#000">(mm)</text>
</g>
<rect x="1485.4" y="617.2" width="18.2" height="643.7" fill="url(#hot)"/>
<text transform="translate(1533.00 625.50) scale(1.0008 1)" font-family="&quot;Liberation Sans&quot;,Arial,sans-serif" font-size="44.00" fill="#000">0.4</text>
<text transform="translate(1533.00 1256.00) scale(0.9388 1)" font-family="&quot;Liberation Sans&quot;,Arial,sans-serif" font-size="44.00" fill="#000">0.1</text>
<g transform="translate(1581 1048.5) rotate(-90)">
<text transform="translate(0.19 0.00) scale(0.7652 1)" font-family="&quot;Liberation Serif&quot;,&quot;Times New Roman&quot;,serif" font-size="46.00" font-style="italic" fill="#000" stroke="#000" stroke-width="0.78">F</text>
<text transform="translate(19.50 8.20) scale(1.0693 1)" font-family="&quot;Liberation Serif&quot;,&quot;Times New Roman&quot;,serif" font-size="36.00" fill="#000" stroke="#000" stroke-width="0.32">mag,yr</text>
<text transform="translate(129.50 0.00) scale(0.9746 1)" font-family="&quot;Liberation Sans&quot;,Arial,sans-serif" font-size="40.00" fill="#000">(mN)</text>
</g>
<text transform="translate(30.20 1377.00) scale(0.9636 1)" font-family="&quot;Liberation Sans&quot;,Arial,sans-serif" font-size="54.00" font-weight="bold" fill="#000">d</text>
<text transform="translate(194.60 1424.70) scale(1.0483 1)" font-family="&quot;Liberation Sans&quot;,Arial,sans-serif" font-size="44.00" fill="#000">Translation direction:</text>
<text transform="translate(627.10 1424.70) scale(0.7755 1)" font-family="&quot;Liberation Serif&quot;,&quot;Times New Roman&quot;,serif" font-size="46.00" font-style="italic" fill="#000" stroke="#000" stroke-width="0.78">y</text>
<text transform="translate(645.00 1433.00) scale(1.1667 1)" font-family="&quot;Liberation Serif&quot;,&quot;Times New Roman&quot;,serif" font-size="36.00" fill="#000" stroke="#000" stroke-width="0.32">r</text>
<polygon points="190.2,1544.3 646.2,1461.0 700.8,1661.0 237.7,1748.3" fill="#DCDCDC" />
<path d="M247.1 1618.1 C252 1600,262 1589,276 1581.5 C296 1572.5,318 1570.5,338 1573 C362 1576.5,384 1592,392.5 1609 C395 1618,394.5 1632,389.4 1642.3 C372 1648,330 1653.5,300.8 1653.6 C280 1654,264 1652,257 1647 C250 1641,246.5 1630,247.1 1618.1 Z" fill="url(#dropg)" />
<clipPath id="dropc"><path d="M247.1 1618.1 C252 1600,262 1589,276 1581.5 C296 1572.5,318 1570.5,338 1573 C362 1576.5,384 1592,392.5 1609 C395 1618,394.5 1632,389.4 1642.3 C372 1648,330 1653.5,300.8 1653.6 C280 1654,264 1652,257 1647 C250 1641,246.5 1630,247.1 1618.1 Z"/></clipPath>
<g clip-path="url(#dropc)">
<polygon points="240.0,1626.5 400.0,1616.5 400.0,1634.0 240.0,1646.0" fill="#6A6A6A" opacity="0.85" />
<path d="M240 1646 L400 1634 L400 1660 L240 1660 Z" fill="#3A3A3A" opacity="0.9" />
<path d="M252 1612 C262 1594,280 1584,300 1580" fill="none" stroke="#8A8A8A" stroke-width="3" stroke-linecap="round" opacity="0.7"/>
</g>
<text transform="translate(186.20 1514.60) scale(0.9854 1)" font-family="&quot;Liberation Serif&quot;,&quot;Times New Roman&quot;,serif" font-size="46.00" font-style="italic" fill="#000" stroke="#000" stroke-width="0.78">v</text>
<text transform="translate(208.00 1524.00) scale(1.1250 1)" font-family="&quot;Liberation Serif&quot;,&quot;Times New Roman&quot;,serif" font-size="36.00" fill="#000" stroke="#000" stroke-width="0.32">r</text>
<line x1="240.00" y1="1497.90" x2="258.50" y2="1495.00" stroke="#000" stroke-width="4.2"/>
<line x1="273.50" y1="1492.70" x2="290.50" y2="1490.00" stroke="#000" stroke-width="4.2"/>
<polygon points="330.5,1483.8 305.5,1498.4 302.2,1477.7" fill="#000" />
<text transform="translate(374.80 1537.60) scale(0.8145 1)" font-family="&quot;Liberation Serif&quot;,&quot;Times New Roman&quot;,serif" font-size="44.00" font-style="italic" fill="#14AA52" stroke="#14AA52" stroke-width="0.75">F</text>
<text transform="translate(392.50 1545.10) scale(1.0594 1)" font-family="&quot;Liberation Serif&quot;,&quot;Times New Roman&quot;,serif" font-size="36.00" fill="#14AA52" stroke="#14AA52" stroke-width="0.32">mag,yr</text>
<line x1="402.30" y1="1581.10" x2="478.51" y2="1566.74" stroke="#14AA52" stroke-width="4.4"/>
<polygon points="502.1,1562.3 479.3,1576.3 475.8,1557.6" fill="#14AA52" />
<g transform="rotate(-13.3 485.8 1690.5)">
<text transform="translate(485.80 1690.50) scale(1.0263 1)" font-family="&quot;Liberation Sans&quot;,Arial,sans-serif" font-size="44.00" fill="#000">Substrate</text>
</g>
<path d="M45 1800 C46 1780,70 1762,100 1760.5 C132 1760,158 1776,161.5 1794 C162 1806,158 1813,152 1815 C120 1821,80 1822,56 1818 C48 1815,44.6 1808,45 1800 Z" fill="url(#dropl)" />
<path d="M47 1800 L160 1793 L160 1803 L48 1810 Z" fill="#BDBDBD" opacity="0.8" />
<line x1="105.80" y1="1788.00" x2="105.02" y2="1744.70" stroke="#000" stroke-width="6"/>
<polygon points="104.7,1726.7 114.0,1745.5 96.0,1745.9" fill="#000" />
<line x1="103.00" y1="1785.60" x2="153.75" y2="1779.09" stroke="#000" stroke-width="6"/>
<polygon points="171.6,1776.8 153.9,1788.1 151.6,1770.3" fill="#000" />
<path d="M105.5 1785 C106 1802,110 1818,114 1830" fill="none" stroke="#000" stroke-width="6" />
<polygon points="118.7,1849.2 105.3,1829.6 122.9,1825.8" fill="#000" />
<text transform="translate(122.12 1704.40) scale(0.9547 1)" font-family="&quot;Liberation Serif&quot;,&quot;Times New Roman&quot;,serif" font-size="46.00" font-style="italic" fill="#000" stroke="#000" stroke-width="0.78">z</text>
<text transform="translate(142.00 1711.00) scale(1.1667 1)" font-family="&quot;Liberation Serif&quot;,&quot;Times New Roman&quot;,serif" font-size="36.00" fill="#000" stroke="#000" stroke-width="0.32">r</text>
<text transform="translate(192.58 1760.00) scale(0.7959 1)" font-family="&quot;Liberation Serif&quot;,&quot;Times New Roman&quot;,serif" font-size="46.00" font-style="italic" fill="#000" stroke="#000" stroke-width="0.78">y</text>
<text transform="translate(211.70 1768.50) scale(1.1583 1)" font-family="&quot;Liberation Serif&quot;,&quot;Times New Roman&quot;,serif" font-size="36.00" fill="#000" stroke="#000" stroke-width="0.32">r</text>
<text transform="translate(139.99 1835.30) scale(0.9176 1)" font-family="&quot;Liberation Serif&quot;,&quot;Times New Roman&quot;,serif" font-size="46.00" font-style="italic" fill="#000" stroke="#000" stroke-width="0.78">x</text>
<text transform="translate(161.60 1843.70) scale(1.1583 1)" font-family="&quot;Liberation Serif&quot;,&quot;Times New Roman&quot;,serif" font-size="36.00" fill="#000" stroke="#000" stroke-width="0.32">r</text>
<line x1="431.70" y1="1783.40" x2="501.50" y2="1771.23" stroke="#000" stroke-width="4"/>
<polygon points="521.2,1767.8 502.0,1779.8 499.1,1763.0" fill="#000" />
<text transform="translate(433.20 1817.50) scale(0.9171 1)" font-family="&quot;Liberation Serif&quot;,&quot;Times New Roman&quot;,serif" font-size="46.00" font-style="italic" fill="#000" stroke="#000" stroke-width="0.78">v</text>
<text transform="translate(453.40 1827.60) scale(1.0468 1)" font-family="&quot;Liberation Serif&quot;,&quot;Times New Roman&quot;,serif" font-size="36.00" fill="#000" stroke="#000" stroke-width="0.32">mag</text>
<polygon points="589.0,1707.8 687.2,1697.1 716.9,1748.2 609.2,1764.1" fill="#E14A50" />
<polygon points="609.2,1764.1 716.9,1748.2 714.6,1795.8 609.2,1810.3" fill="#DC3E46" />
<polygon points="609.2,1810.3 714.6,1795.8 713.1,1839.1 609.2,1853.6" fill="#2F7DBD" />
<polygon points="589.0,1707.8 609.2,1764.1 609.2,1810.3 590.5,1767.0" fill="#EA5E63" />
<polygon points="590.5,1767.0 609.2,1810.3 609.2,1853.6 591.9,1816.0" fill="#74B4E8" />
<polygon points="636.1,1782.9 688.6,1777.1 690.0,1827.6 638.1,1836.2" fill="#C9C9C9" />
<polygon points="638.1,1836.2 690.0,1827.6 690.0,1831.0 640.0,1839.5" fill="#9F9F9F" />
<ellipse cx="663.5" cy="1811" rx="14.4" ry="14" fill="#BDBDBD"/>
<polygon points="649.5,1808.0 654.0,1819.0 682.5,1824.0 677.5,1811.0" fill="#BDBDBD" />
<ellipse cx="668.4" cy="1821.8" rx="14.4" ry="14" fill="#DADADA"/>
<text transform="translate(529.30 1904.00) scale(0.8333 1)" font-family="&quot;Liberation Serif&quot;,&quot;Times New Roman&quot;,serif" font-size="46.00" font-style="italic" fill="#000" stroke="#000" stroke-width="0.78">s</text>
<text transform="translate(547.20 1914.20) scale(1.0710 1)" font-family="&quot;Liberation Serif&quot;,&quot;Times New Roman&quot;,serif" font-size="36.00" fill="#000" stroke="#000" stroke-width="0.32">mag</text>
<text transform="translate(617.90 1905.00) scale(1.0438 1)" font-family="&quot;Liberation Sans&quot;,Arial,sans-serif" font-size="42.00" fill="#000">= 20 mm</text>
<text transform="translate(846.10 1375.40) scale(0.9733 1)" font-family="&quot;Liberation Sans&quot;,Arial,sans-serif" font-size="54.00" font-weight="bold" fill="#000">e</text>
<line x1="1011.20" y1="1325.00" x2="1011.20" y2="1398.00" stroke="#000" stroke-width="2.2"/>
<line x1="1069.00" y1="1325.00" x2="1069.00" y2="1398.00" stroke="#000" stroke-width="2.2"/>
<text transform="translate(1021.30 1348.50) scale(1.1661 1)" font-family="&quot;Liberation Serif&quot;,&quot;Times New Roman&quot;,serif" font-size="30.00" font-style="italic" fill="#000" stroke="#000" stroke-width="0.51">∂</text>
<text transform="translate(1040.00 1348.50) scale(1.0750 1)" font-family="&quot;Liberation Serif&quot;,&quot;Times New Roman&quot;,serif" font-size="30.00" font-weight="bold" fill="#000" stroke="#000" stroke-width="0.27">B</text>
<line x1="1019.60" y1="1362.00" x2="1062.20" y2="1362.00" stroke="#000" stroke-width="1.8"/>
<text transform="translate(1023.00 1394.50) scale(1.1525 1)" font-family="&quot;Liberation Serif&quot;,&quot;Times New Roman&quot;,serif" font-size="30.00" font-style="italic" fill="#000" stroke="#000" stroke-width="0.51">∂</text>
<text transform="translate(1042.66 1394.50) scale(1.3220 1)" font-family="&quot;Liberation Serif&quot;,&quot;Times New Roman&quot;,serif" font-size="32.00" font-style="italic" fill="#000" stroke="#000" stroke-width="0.54">x</text>
<text transform="translate(1076.60 1374.40) scale(1.0381 1)" font-family="&quot;Liberation Sans&quot;,Arial,sans-serif" font-size="43.00" fill="#000">&lt;0.04 T/m</text>
<text transform="translate(1345.20 1351.00) scale(1.1390 1)" font-family="&quot;Liberation Serif&quot;,&quot;Times New Roman&quot;,serif" font-size="30.00" font-style="italic" fill="#000" stroke="#000" stroke-width="0.51">∂</text>
<text transform="translate(1363.50 1351.00) scale(0.9350 1)" font-family="&quot;Liberation Serif&quot;,&quot;Times New Roman&quot;,serif" font-size="30.00" font-weight="bold" fill="#000" stroke="#000" stroke-width="0.27">B</text>
<line x1="1342.50" y1="1362.70" x2="1384.50" y2="1362.70" stroke="#000" stroke-width="1.8"/>
<text transform="translate(1346.00 1395.70) scale(1.1525 1)" font-family="&quot;Liberation Serif&quot;,&quot;Times New Roman&quot;,serif" font-size="30.00" font-style="italic" fill="#000" stroke="#000" stroke-width="0.51">∂</text>
<text transform="translate(1366.75 1395.70) scale(1.0000 1)" font-family="&quot;Liberation Serif&quot;,&quot;Times New Roman&quot;,serif" font-size="32.00" font-style="italic" fill="#000" stroke="#000" stroke-width="0.54">y</text>
<text transform="translate(1399.00 1374.50) scale(1.0660 1)" font-family="&quot;Liberation Sans&quot;,Arial,sans-serif" font-size="43.00" fill="#000">&gt;0.06 T/m</text>
<path d="M1105.9 1550.3 L1380.7 1550.3 C1380 1580,1372 1612,1353.2 1644.1 C1336 1672,1312 1696,1289.7 1710.5 C1264 1726,1238 1733,1214.7 1733 C1190 1732,1166 1716,1146 1696 C1124 1668,1110 1636,1106.5 1606 Z" fill="#440154" />
<path d="M1105.9 1550.3 L1380.7 1550.3 C1380 1580,1372 1612,1353.2 1644.1 C1336 1672,1312 1696,1289.7 1710.5 C1264 1726,1238 1733,1214.7 1733 C1190 1732,1166 1716,1146 1696 C1124 1668,1110 1636,1106.5 1606 Z" fill="url(#ehot)" />
<line x1="1086.70" y1="1547.20" x2="1448.80" y2="1547.20" stroke="#C00000" stroke-width="6" stroke-dasharray="25 19.5"/>
<line x1="1048.10" y1="1487.00" x2="1410.10" y2="1487.00" stroke="#808080" stroke-width="6"/>
<path d="M1053.5 1468 C1054 1448,1072 1428,1100 1423.5 C1130 1420,1160 1436,1170 1456 C1174 1466,1172.5 1478,1166 1484.2 L1062 1484.2 C1056 1481,1053.5 1475,1053.5 1468 Z" fill="url(#dropg2)" />
<clipPath id="dropc2"><path d="M1053.5 1468 C1054 1448,1072 1428,1100 1423.5 C1130 1420,1160 1436,1170 1456 C1174 1466,1172.5 1478,1166 1484.2 L1062 1484.2 C1056 1481,1053.5 1475,1053.5 1468 Z"/></clipPath>
<g clip-path="url(#dropc2)">
<path d="M1050 1462 L1175 1460 L1175 1476 L1050 1477 Z" fill="#6A6A6A" opacity="0.8" />
<path d="M1050 1477 L1175 1476 L1175 1490 L1050 1490 Z" fill="#3A3A3A" opacity="0.9" />
<path d="M1058 1456 C1064 1442,1078 1432,1094 1428" fill="none" stroke="#8A8A8A" stroke-width="3" stroke-linecap="round" opacity="0.7"/>
</g>
<line x1="1193.10" y1="1457.00" x2="1229.30" y2="1457.00" stroke="#000" stroke-width="4.2"/>
<line x1="1242.70" y1="1457.00" x2="1276.00" y2="1457.00" stroke="#000" stroke-width="4.2"/>
<polygon points="1291.0,1457.0 1275.0,1463.5 1275.0,1450.5" fill="#000" />
<text transform="translate(1302.50 1457.80) scale(0.9756 1)" font-family="&quot;Liberation Serif&quot;,&quot;Times New Roman&quot;,serif" font-size="46.00" font-style="italic" fill="#000" stroke="#000" stroke-width="0.78">v</text>
<text transform="translate(1324.50 1466.30) scale(1.2083 1)" font-family="&quot;Liberation Serif&quot;,&quot;Times New Roman&quot;,serif" font-size="36.00" fill="#000" stroke="#000" stroke-width="0.32">r</text>
<line x1="1140.40" y1="1500.00" x2="1140.40" y2="1540.00" stroke="#C00000" stroke-width="2.6"/>
<polygon points="1140.4,1490.5 1146.7,1505.5 1134.2,1505.5" fill="#C00000" />
<polygon points="1140.4,1549.0 1134.2,1534.0 1146.7,1534.0" fill="#C00000" />
<text transform="translate(1150.50 1534.80) scale(1.0562 1)" font-family="&quot;Liberation Serif&quot;,&quot;Times New Roman&quot;,serif" font-size="44.00" font-style="italic" fill="#C00000" stroke="#C00000" stroke-width="0.75">d</text>
<text transform="translate(1175.60 1543.40) scale(1.0774 1)" font-family="&quot;Liberation Serif&quot;,&quot;Times New Roman&quot;,serif" font-size="34.00" fill="#C00000" stroke="#C00000" stroke-width="0.31">min</text>
<text transform="translate(1237.60 1533.80) scale(1.1210 1)" font-family="&quot;Liberation Sans&quot;,Arial,sans-serif" font-size="40.00" fill="#C00000">=20 mm</text>
<text transform="translate(1138.13 1792.70) scale(0.9679 1)" font-family="&quot;Liberation Serif&quot;,&quot;Times New Roman&quot;,serif" font-size="44.00" font-style="italic" fill="#000" stroke="#000" stroke-width="0.75">x</text>
<text transform="translate(1159.30 1801.40) scale(1.3333 1)" font-family="&quot;Liberation Serif&quot;,&quot;Times New Roman&quot;,serif" font-size="34.00" fill="#000" stroke="#000" stroke-width="0.31">r</text>
<text transform="translate(1178.60 1792.70) scale(1.0505 1)" font-family="&quot;Liberation Sans&quot;,Arial,sans-serif" font-size="38.00" fill="#000">= 0 mm</text>
<rect x="1038.0" y="1417.4" width="410.8" height="407.6" fill="none" stroke="#222" stroke-width="1.4"/>
<line x1="1033.00" y1="1485.10" x2="1038.00" y2="1485.10" stroke="#222" stroke-width="1.2"/>
<line x1="1033.00" y1="1570.30" x2="1038.00" y2="1570.30" stroke="#222" stroke-width="1.2"/>
<line x1="1033.00" y1="1655.30" x2="1038.00" y2="1655.30" stroke="#222" stroke-width="1.2"/>
<line x1="1033.00" y1="1740.50" x2="1038.00" y2="1740.50" stroke="#222" stroke-width="1.2"/>
<line x1="1033.00" y1="1824.70" x2="1038.00" y2="1824.70" stroke="#222" stroke-width="1.2"/>
<line x1="1106.20" y1="1825.00" x2="1106.20" y2="1830.00" stroke="#222" stroke-width="1.2"/>
<line x1="1277.40" y1="1825.00" x2="1277.40" y2="1830.00" stroke="#222" stroke-width="1.2"/>
<line x1="1448.30" y1="1825.00" x2="1448.30" y2="1830.00" stroke="#222" stroke-width="1.2"/>
<text transform="translate(1005.50 1497.90) scale(1.0000 1)" font-family="&quot;Liberation Sans&quot;,Arial,sans-serif" font-size="44.00" fill="#000">0</text>
<text transform="translate(968.50 1583.40) scale(0.9606 1)" font-family="&quot;Liberation Sans&quot;,Arial,sans-serif" font-size="44.00" fill="#000">-25</text>
<text transform="translate(968.50 1669.50) scale(0.9606 1)" font-family="&quot;Liberation Sans&quot;,Arial,sans-serif" font-size="44.00" fill="#000">-50</text>
<text transform="translate(968.50 1754.40) scale(0.9606 1)" font-family="&quot;Liberation Sans&quot;,Arial,sans-serif" font-size="44.00" fill="#000">-75</text>
<text transform="translate(941.50 1838.80) scale(1.0000 1)" font-family="&quot;Liberation Sans&quot;,Arial,sans-serif" font-size="44.00" fill="#000">-100</text>
<text transform="translate(1094.55 1868.40) scale(1.0000 1)" font-family="&quot;Liberation Sans&quot;,Arial,sans-serif" font-size="44.00" fill="#000">0</text>
<text transform="translate(1253.00 1868.40) scale(1.0000 1)" font-family="&quot;Liberation Sans&quot;,Arial,sans-serif" font-size="44.00" fill="#000">50</text>
<text transform="translate(1411.45 1868.40) scale(1.0000 1)" font-family="&quot;Liberation Sans&quot;,Arial,sans-serif" font-size="44.00" fill="#000">100</text>
<text transform="translate(1217.27 1903.30) scale(0.7184 1)" font-family="&quot;Liberation Serif&quot;,&quot;Times New Roman&quot;,serif" font-size="46.00" font-style="italic" fill="#000" stroke="#000" stroke-width="0.78">y</text>
<text transform="translate(1234.00 1910.80) scale(1.1556 1)" font-family="&quot;Liberation Serif&quot;,&quot;Times New Roman&quot;,serif" font-size="34.00" fill="#000" stroke="#000" stroke-width="0.31">r</text>
<text transform="translate(1249.00 1903.30) scale(1.0000 1)" font-family="&quot;Liberation Sans&quot;,Arial,sans-serif" font-size="44.00" fill="#000">(mm)</text>
<g transform="translate(935 1650) rotate(-90)">
<text transform="translate(-70.46 0.00) scale(0.9846 1)" font-family="&quot;Liberation Serif&quot;,&quot;Times New Roman&quot;,serif" font-size="48.00" font-style="italic" fill="#000" stroke="#000" stroke-width="0.82">z</text>
<text transform="translate(-50.00 8.00) scale(1.1667 1)" font-family="&quot;Liberation Serif&quot;,&quot;Times New Roman&quot;,serif" font-size="36.00" fill="#000" stroke="#000" stroke-width="0.32">r</text>
<text transform="translate(-31.90 0.00) scale(0.9455 1)" font-family="&quot;Liberation Sans&quot;,Arial,sans-serif" font-size="46.00" fill="#000">(mm)</text>
</g>
<rect x="1492.5" y="1415.8" width="20.8" height="403.1" fill="url(#vir)" stroke="#333" stroke-width="0.8"/>
<line x1="1513.30" y1="1415.80" x2="1518.00" y2="1415.80" stroke="#222" stroke-width="1.2"/>
<line x1="1513.30" y1="1496.40" x2="1518.00" y2="1496.40" stroke="#222" stroke-width="1.2"/>
<line x1="1513.30" y1="1577.00" x2="1518.00" y2="1577.00" stroke="#222" stroke-width="1.2"/>
<line x1="1513.30" y1="1657.70" x2="1518.00" y2="1657.70" stroke="#222" stroke-width="1.2"/>
<line x1="1513.30" y1="1738.30" x2="1518.00" y2="1738.30" stroke="#222" stroke-width="1.2"/>
<line x1="1513.30" y1="1818.90" x2="1518.00" y2="1818.90" stroke="#222" stroke-width="1.2"/>
<text transform="translate(1520.00 1441.00) scale(0.9808 1)" font-family="&quot;Liberation Sans&quot;,Arial,sans-serif" font-size="44.00" fill="#000">1.34</text>
<text transform="translate(1527.80 1828.00) scale(0.9539 1)" font-family="&quot;Liberation Sans&quot;,Arial,sans-serif" font-size="44.00" fill="#000">0.06</text>
<g transform="translate(1578.2 1710.5) rotate(-90)">
<text transform="translate(1.00 -12.70) scale(1.1045 1)" font-family="&quot;Liberation Serif&quot;,&quot;Times New Roman&quot;,serif" font-size="34.00" font-style="italic" fill="#000" stroke="#000" stroke-width="0.58">∂</text>
<text transform="translate(21.00 -12.70) scale(0.8571 1)" font-family="&quot;Liberation Serif&quot;,&quot;Times New Roman&quot;,serif" font-size="34.00" font-weight="bold" fill="#000" stroke="#000" stroke-width="0.31">B</text>
<line x1="0.00" y1="0.00" x2="42.00" y2="0.00" stroke="#000" stroke-width="2"/>
<text transform="translate(1.00 36.40) scale(1.1045 1)" font-family="&quot;Liberation Serif&quot;,&quot;Times New Roman&quot;,serif" font-size="34.00" font-style="italic" fill="#000" stroke="#000" stroke-width="0.58">∂</text>
<text transform="translate(24.29 36.40) scale(1.0130 1)" font-family="&quot;Liberation Serif&quot;,&quot;Times New Roman&quot;,serif" font-size="36.00" font-style="italic" fill="#000" stroke="#000" stroke-width="0.61">y</text>
<text transform="translate(45.10 13.60) scale(0.9219 1)" font-family="&quot;Liberation Sans&quot;,Arial,sans-serif" font-size="45.00" fill="#000">(T/m)</text>
</g>
<text transform="translate(26.20 1962.00) scale(1.1014 1)" font-family="&quot;Liberation Sans&quot;,Arial,sans-serif" font-size="54.00" font-weight="bold" fill="#000">f</text>
<text transform="translate(657.00 1973.50) scale(1.0857 1)" font-family="&quot;Liberation Sans&quot;,Arial,sans-serif" font-size="46.00" fill="#000">Actuation region</text>
<polygon points="57.1,2455.2 282.7,2153.5 280.9,1961.4 41.7,2192.8" fill="#F7F7F7" />
<polygon points="282.7,2153.5 658.7,2344.1 677.2,2087.9 280.9,1961.4" fill="#EFEFEF" />
<polygon points="57.1,2455.2 282.7,2153.5 658.7,2344.1 450.9,2614.2" fill="#F4F4F4" />
<path d="M132.7 2485.7 L357.9 2191.6 L360.2 1986.7 M245.3 2531.2 L473.3 2250.1 L481.8 2025.5 M367.4 2580.5 L592.9 2310.7 L607.8 2065.8 M455.1 2608.8 L61.5 2449.3 L46.4 2188.3 M511.2 2535.9 L121.2 2369.5 L109.7 2127.0 M563.1 2468.3 L176.5 2295.5 L168.3 2070.3 M613.0 2403.5 L229.5 2224.6 L224.5 2015.9 M41.9 2195.9 L280.9 1963.7 L677.0 2091.0 M46.0 2265.5 L281.4 2014.6 L672.1 2158.9 M49.8 2331.1 L281.8 2062.6 L667.5 2222.9 M53.5 2393.5 L282.3 2108.4 L663.0 2283.9 M41.7 2192.8 L280.9 1961.4 L677.2 2087.9 M282.7 2153.5 L280.9 1961.4 M57.1 2455.2 L282.7 2153.5 L658.7 2344.1" fill="none" stroke="#B0B0B0" stroke-width="1.5" />
<path d="M57.1 2455.2 L41.7 2192.8" fill="none" stroke="#C8C8C8" stroke-width="1" />
<rect x="35" y="1987" width="560" height="70" fill="#fff" opacity="0.72"/>
<rect x="35" y="2061" width="632" height="69" fill="#fff" opacity="0.72"/>
<path d="M57.1 2455.2 L450.9 2614.2 L658.7 2344.1 L677.2 2087.9" fill="none" stroke="#000" stroke-width="1.6" />
<path d="M132.7 2485.7 l-4 6 M245.3 2531.2 l-4 6 M367.4 2580.5 l-4 6 M455.1 2608.8 l6 2.5 M511.2 2535.9 l6 2.5 M563.1 2468.3 l6 2.5 M613.0 2403.5 l6 2.5 M677.0 2091.0 l-8 -2.5 M672.1 2158.9 l-8 -2.5 M667.5 2222.9 l-8 -2.5 M663.0 2283.9 l-8 -2.5 M658.7 2344.1 l-8 -2.5" fill="none" stroke="#000" stroke-width="1.4" />
<g filter="url(#blur4)">
<path d="M262.4 2446 L306 2326 C320 2290,336 2250,334 2200 C360 2182,420 2172,462 2180 C500 2196,526 2236,523 2260 C518 2290,480 2312,446 2334 C420 2352,392 2376,370 2400 C350 2418,320 2436,300 2442 Z" fill="#100000" opacity="0.97" />
</g>
<g filter="url(#blur4)">
<polygon points="264.0,2442.0 392.0,2240.0 436.0,2270.0" fill="url(#stk1)" opacity="0.95" />
</g>
<g filter="url(#blur3)">
<polygon points="274.0,2428.0 386.0,2258.0 414.0,2278.0" fill="url(#stk2)" opacity="0.92" />
</g>
<g filter="url(#blur2)">
<polygon points="310.0,2378.0 366.0,2298.0 374.0,2303.0 317.0,2382.0" fill="#D8481C" opacity="0.8" />
<polygon points="330.0,2348.0 354.0,2312.0 359.0,2315.0 335.0,2351.0" fill="#F0A83C" opacity="0.85" />
</g>
<path d="M211.5 2389.1 C213.8 2366.9,240.4 2351.8,269.4 2351.8 C301.8 2351.8,326.1 2369.9,327.3 2389.1 C327.3 2400.0,322.7 2407.2,315.7 2409.0 C292.6 2413.2,246.2 2413.2,223.1 2409.0 C215.0 2406.0,211.5 2400.0,211.5 2389.1 Z" fill="#9C9C9C" opacity="0.72" />
<path d="M215.0 2392.7 L323.8 2392.7" fill="none" stroke="#B8B8B8" stroke-width="3.611999999999989" opacity="0.7" />
<line x1="180.60" y1="2490.70" x2="200.70" y2="2467.50" stroke="#000" stroke-width="5"/>
<line x1="210.00" y1="2455.20" x2="229.75" y2="2431.27" stroke="#000" stroke-width="5"/>
<polygon points="239.3,2419.7 234.5,2436.5 223.7,2427.6" fill="#000" />
<text transform="translate(227.00 2481.40) scale(0.9756 1)" font-family="&quot;Liberation Serif&quot;,&quot;Times New Roman&quot;,serif" font-size="46.00" font-style="italic" fill="#000" stroke="#000" stroke-width="0.78">v</text>
<text transform="translate(248.50 2490.70) scale(1.0417 1)" font-family="&quot;Liberation Serif&quot;,&quot;Times New Roman&quot;,serif" font-size="36.00" fill="#000" stroke="#000" stroke-width="0.32">r</text>
<text transform="translate(58.70 2219.00) scale(1.0323 1)" font-family="&quot;Liberation Sans&quot;,Arial,sans-serif" font-size="48.00" font-weight="bold" fill="#C00000">Actuation</text>
<text transform="translate(58.70 2277.70) scale(1.0310 1)" font-family="&quot;Liberation Sans&quot;,Arial,sans-serif" font-size="48.00" font-weight="bold" fill="#C00000">region</text>
<line x1="222.30" y1="2268.40" x2="282.00" y2="2279.44" stroke="#C00000" stroke-width="6.5"/>
<polygon points="305.6,2283.8 279.0,2290.1 283.0,2268.4" fill="#C00000" />
<text transform="translate(40.50 2037.30) scale(1.0000 1)" font-family="&quot;Liberation Sans&quot;,Arial,sans-serif" font-size="42.00" fill="#000">|</text>
<text transform="translate(53.70 2038.30) scale(1.0023 1)" font-family="&quot;Liberation Serif&quot;,&quot;Times New Roman&quot;,serif" font-size="44.00" font-style="italic" fill="#000" stroke="#000" stroke-width="0.75">∂</text>
<text transform="translate(77.90 2038.30) scale(0.8923 1)" font-family="&quot;Liberation Serif&quot;,&quot;Times New Roman&quot;,serif" font-size="44.00" font-weight="bold" fill="#000" stroke="#000" stroke-width="0.40">B</text>
<text transform="translate(118.8 2027.0) rotate(5)" x="0" y="22.5" text-anchor="middle" font-family="&quot;Liberation Serif&quot;,&quot;Times New Roman&quot;,serif" font-size="68" fill="#000">/</text>
<text transform="translate(131.90 2038.30) scale(0.9563 1)" font-family="&quot;Liberation Serif&quot;,&quot;Times New Roman&quot;,serif" font-size="44.00" font-style="italic" fill="#000" stroke="#000" stroke-width="0.75">∂</text>
<text transform="translate(155.21 2038.30) scale(1.0765 1)" font-family="&quot;Liberation Serif&quot;,&quot;Times New Roman&quot;,serif" font-size="44.00" font-style="italic" fill="#000" stroke="#000" stroke-width="0.75">x</text>
<text transform="translate(182.50 2037.30) scale(1.0000 1)" font-family="&quot;Liberation Sans&quot;,Arial,sans-serif" font-size="42.00" fill="#000">|</text>
<text transform="translate(206.40 2038.30) scale(0.6562 1)" font-family="&quot;DejaVu Sans&quot;,sans-serif" font-size="44.00" fill="#000">∈</text>
<text transform="translate(251.00 2042.30) scale(0.6388 1)" font-family="&quot;Liberation Serif&quot;,&quot;Times New Roman&quot;,serif" font-size="50.00" fill="#000" stroke="#000" stroke-width="0.45">[</text>
<text transform="translate(266.80 2038.30) scale(0.8364 1)" font-family="&quot;Liberation Serif&quot;,&quot;Times New Roman&quot;,serif" font-size="44.00" fill="#000" stroke="#000" stroke-width="0.40">0</text>
<text transform="translate(298.70 2038.30) scale(1.0468 1)" font-family="&quot;Liberation Sans&quot;,Arial,sans-serif" font-size="41.00" fill="#000">T/m</text>
<text transform="translate(375.80 2038.30) scale(0.6091 1)" font-family="&quot;Liberation Serif&quot;,&quot;Times New Roman&quot;,serif" font-size="44.00" fill="#000" stroke="#000" stroke-width="0.40">,</text>
<text transform="translate(394.30 2038.30) scale(1.0455 1)" font-family="&quot;Liberation Serif&quot;,&quot;Times New Roman&quot;,serif" font-size="44.00" fill="#000" stroke="#000" stroke-width="0.40">0.04</text>
<text transform="translate(490.00 2038.30) scale(1.0596 1)" font-family="&quot;Liberation Sans&quot;,Arial,sans-serif" font-size="41.00" fill="#000">T/m</text>
<text transform="translate(567.00 2042.30) scale(0.5851 1)" font-family="&quot;Liberation Serif&quot;,&quot;Times New Roman&quot;,serif" font-size="50.00" fill="#000" stroke="#000" stroke-width="0.45">]</text>
<text transform="translate(52.00 2111.60) scale(1.0805 1)" font-family="&quot;Liberation Serif&quot;,&quot;Times New Roman&quot;,serif" font-size="44.00" font-style="italic" fill="#000" stroke="#000" stroke-width="0.75">∂</text>
<text transform="translate(77.90 2111.60) scale(0.8923 1)" font-family="&quot;Liberation Serif&quot;,&quot;Times New Roman&quot;,serif" font-size="44.00" font-weight="bold" fill="#000" stroke="#000" stroke-width="0.40">B</text>
<text transform="translate(118.8 2100.3) rotate(5)" x="0" y="22.5" text-anchor="middle" font-family="&quot;Liberation Serif&quot;,&quot;Times New Roman&quot;,serif" font-size="68" fill="#000">/</text>
<text transform="translate(131.90 2111.60) scale(0.9563 1)" font-family="&quot;Liberation Serif&quot;,&quot;Times New Roman&quot;,serif" font-size="44.00" font-style="italic" fill="#000" stroke="#000" stroke-width="0.75">∂</text>
<text transform="translate(156.45 2111.60) scale(1.0000 1)" font-family="&quot;Liberation Serif&quot;,&quot;Times New Roman&quot;,serif" font-size="44.00" font-style="italic" fill="#000" stroke="#000" stroke-width="0.75">y</text>
<text transform="translate(194.60 2111.60) scale(0.6588 1)" font-family="&quot;DejaVu Sans&quot;,sans-serif" font-size="44.00" fill="#000">∈</text>
<text transform="translate(236.60 2115.60) scale(0.6985 1)" font-family="&quot;Liberation Serif&quot;,&quot;Times New Roman&quot;,serif" font-size="50.00" fill="#000" stroke="#000" stroke-width="0.45">[</text>
<text transform="translate(251.70 2111.60) scale(1.0234 1)" font-family="&quot;Liberation Serif&quot;,&quot;Times New Roman&quot;,serif" font-size="44.00" fill="#000" stroke="#000" stroke-width="0.40">0.06</text>
<text transform="translate(344.00 2111.60) scale(1.0468 1)" font-family="&quot;Liberation Sans&quot;,Arial,sans-serif" font-size="41.00" fill="#000">T/m</text>
<text transform="translate(421.00 2111.60) scale(0.6273 1)" font-family="&quot;Liberation Serif&quot;,&quot;Times New Roman&quot;,serif" font-size="44.00" fill="#000" stroke="#000" stroke-width="0.40">,</text>
<text transform="translate(441.70 2111.60) scale(1.0026 1)" font-family="&quot;Liberation Serif&quot;,&quot;Times New Roman&quot;,serif" font-size="44.00" fill="#000" stroke="#000" stroke-width="0.40">1.34</text>
<text transform="translate(535.80 2111.60) scale(1.0085 1)" font-family="&quot;Liberation Sans&quot;,Arial,sans-serif" font-size="41.00" fill="#000">T/m</text>
<text transform="translate(613.00 2115.60) scale(0.5552 1)" font-family="&quot;Liberation Serif&quot;,&quot;Times New Roman&quot;,serif" font-size="50.00" fill="#000" stroke="#000" stroke-width="0.45">]</text>
<text transform="translate(91.00 2551.00) scale(1.0430 1)" font-family="&quot;Liberation Sans&quot;,Arial,sans-serif" font-size="41.00" fill="#000">-50</text>
<text transform="translate(220.70 2597.00) scale(0.9538 1)" font-family="&quot;Liberation Sans&quot;,Arial,sans-serif" font-size="41.00" fill="#000">0</text>
<text transform="translate(328.80 2645.00) scale(1.0176 1)" font-family="&quot;Liberation Sans&quot;,Arial,sans-serif" font-size="41.00" fill="#000">50</text>
<text transform="translate(468.00 2668.30) scale(0.9247 1)" font-family="&quot;Liberation Sans&quot;,Arial,sans-serif" font-size="42.00" fill="#000">0</text>
<text transform="translate(508.00 2608.00) scale(0.9711 1)" font-family="&quot;Liberation Sans&quot;,Arial,sans-serif" font-size="42.00" fill="#000">20</text>
<text transform="translate(559.00 2535.60) scale(0.9904 1)" font-family="&quot;Liberation Sans&quot;,Arial,sans-serif" font-size="42.00" fill="#000">40</text>
<text transform="translate(610.00 2470.70) scale(0.9904 1)" font-family="&quot;Liberation Sans&quot;,Arial,sans-serif" font-size="42.00" fill="#000">60</text>
<text transform="translate(654.70 2409.00) scale(0.9583 1)" font-family="&quot;Liberation Sans&quot;,Arial,sans-serif" font-size="42.00" fill="#000">80</text>
<text transform="translate(679.40 2121.80) scale(1.0371 1)" font-family="&quot;Liberation Sans&quot;,Arial,sans-serif" font-size="42.00" fill="#000">100</text>
<text transform="translate(685.60 2185.10) scale(0.9904 1)" font-family="&quot;Liberation Sans&quot;,Arial,sans-serif" font-size="42.00" fill="#000">50</text>
<text transform="translate(692.70 2247.00) scale(0.9548 1)" font-family="&quot;Liberation Sans&quot;,Arial,sans-serif" font-size="42.00" fill="#000">0</text>
<line x1="662.40" y1="2293.20" x2="690.20" y2="2293.20" stroke="#000" stroke-width="7"/>
<text transform="translate(693.30 2308.60) scale(1.0246 1)" font-family="&quot;Liberation Sans&quot;,Arial,sans-serif" font-size="42.00" fill="#000">50</text>
<line x1="643.90" y1="2354.30" x2="671.70" y2="2354.30" stroke="#000" stroke-width="7"/>
<text transform="translate(679.40 2370.30) scale(1.0371 1)" font-family="&quot;Liberation Sans&quot;,Arial,sans-serif" font-size="42.00" fill="#000">100</text>
<g transform="translate(182 2642) rotate(33.3)">
<text transform="translate(-71.36 13.00) scale(0.8471 1)" font-family="&quot;Liberation Serif&quot;,&quot;Times New Roman&quot;,serif" font-size="46.00" font-style="italic" fill="#000" stroke="#000" stroke-width="0.78">x</text>
<text transform="translate(-52.00 21.00) scale(1.1556 1)" font-family="&quot;Liberation Serif&quot;,&quot;Times New Roman&quot;,serif" font-size="34.00" fill="#000" stroke="#000" stroke-width="0.31">r</text>
<text transform="translate(-36.00 13.00) scale(1.0537 1)" font-family="&quot;Liberation Sans&quot;,Arial,sans-serif" font-size="44.00" fill="#000">(mm)</text>
</g>
<g transform="translate(688.7 2489.2) rotate(-49)">
<text transform="translate(-69.06 13.00) scale(0.7347 1)" font-family="&quot;Liberation Serif&quot;,&quot;Times New Roman&quot;,serif" font-size="46.00" font-style="italic" fill="#000" stroke="#000" stroke-width="0.78">y</text>
<text transform="translate(-52.00 21.00) scale(1.1556 1)" font-family="&quot;Liberation Serif&quot;,&quot;Times New Roman&quot;,serif" font-size="34.00" fill="#000" stroke="#000" stroke-width="0.31">r</text>
<text transform="translate(-36.00 13.00) scale(1.0537 1)" font-family="&quot;Liberation Sans&quot;,Arial,sans-serif" font-size="44.00" fill="#000">(mm)</text>
</g>
<g transform="translate(784.4 2232) rotate(90)">
<text transform="translate(-69.32 0.00) scale(0.9067 1)" font-family="&quot;Liberation Serif&quot;,&quot;Times New Roman&quot;,serif" font-size="46.00" font-style="italic" fill="#000" stroke="#000" stroke-width="0.78">z</text>
<text transform="translate(-51.00 8.00) scale(1.1556 1)" font-family="&quot;Liberation Serif&quot;,&quot;Times New Roman&quot;,serif" font-size="34.00" fill="#000" stroke="#000" stroke-width="0.31">r</text>
<text transform="translate(-35.00 0.00) scale(1.0244 1)" font-family="&quot;Liberation Sans&quot;,Arial,sans-serif" font-size="44.00" fill="#000">(mm)</text>
</g>
<text transform="translate(1214.43 1955.70) scale(0.8082 1)" font-family="&quot;Liberation Serif&quot;,&quot;Times New Roman&quot;,serif" font-size="46.00" font-style="italic" fill="#000" stroke="#000" stroke-width="0.78">y</text>
<text transform="translate(1233.00 1963.50) scale(1.2444 1)" font-family="&quot;Liberation Serif&quot;,&quot;Times New Roman&quot;,serif" font-size="34.00" fill="#000" stroke="#000" stroke-width="0.31">r</text>
<text transform="translate(1255.00 1955.70) scale(0.9580 1)" font-family="&quot;Liberation Sans&quot;,Arial,sans-serif" font-size="44.00" fill="#000">(mm)</text>
<text transform="translate(1120.60 1996.40) scale(0.9403 1)" font-family="&quot;Liberation Sans&quot;,Arial,sans-serif" font-size="34.50" fill="#000">0</text>
<text transform="translate(1167.40 1996.40) scale(0.9818 1)" font-family="&quot;Liberation Sans&quot;,Arial,sans-serif" font-size="34.50" fill="#000">20</text>
<text transform="translate(1223.30 1996.40) scale(1.0571 1)" font-family="&quot;Liberation Sans&quot;,Arial,sans-serif" font-size="34.50" fill="#000">40</text>
<text transform="translate(1282.20 1996.40) scale(1.0208 1)" font-family="&quot;Liberation Sans&quot;,Arial,sans-serif" font-size="34.50" fill="#000">60</text>
<text transform="translate(1338.00 1996.40) scale(1.0208 1)" font-family="&quot;Liberation Sans&quot;,Arial,sans-serif" font-size="34.50" fill="#000">80</text>
<text transform="translate(1390.90 1996.40) scale(1.0243 1)" font-family="&quot;Liberation Sans&quot;,Arial,sans-serif" font-size="34.50" fill="#000">100</text>
<rect x="1123.0" y="2006.1" width="296.6" height="298.4" fill="#F5F5F5"/>
<polygon points="1419.6,2006.1 1436.2,1998.1 1436.2,2319.5 1419.6,2304.5" fill="#EDEDED" />
<polygon points="1123.0,2304.5 1419.6,2304.5 1436.2,2319.5 1109.0,2319.5" fill="#F8F8F8" />
<path d="M1129.7 2002.1 V2304.5 l-8 14 M1186.1 2002.1 V2304.5 l-8 14 M1243.8 2002.1 V2304.5 l-8 14 M1300.9 2002.1 V2304.5 l-8 14 M1358.6 2002.1 V2304.5 l-8 14 M1417.2 2002.1 V2304.5 l-8 14 M1123.0 2065.9 H1419.6 l16 -8 M1123.0 2155.6 H1419.6 l16 -8 M1123.0 2245.6 H1419.6 l16 -8" fill="none" stroke="#B0B0B0" stroke-width="1.5" />
<path d="M1123.0 2006.1 V2304.5 M1123.0 2006.1 H1419.6 l8 -5" fill="none" stroke="#333" stroke-width="1.4" />
<path d="M1095.0 2152.2 C1096.4 2137.6,1112.0 2127.8,1129.0 2127.8 C1148.0 2127.8,1162.2 2139.6,1162.9 2152.2 C1162.9 2159.2,1160.2 2164.0,1156.1 2165.1 C1142.5 2167.9,1115.4 2167.9,1101.8 2165.1 C1097.0 2163.2,1095.0 2159.2,1095.0 2152.2 Z" fill="#9C9C9C" opacity="0.85" />
<path d="M1097.0 2154.5 L1160.9 2154.5" fill="none" stroke="#B8B8B8" stroke-width="2.3579999999999837" opacity="0.7" />
<g filter="url(#blur3)">
<path d="M1150.8 2155.9 L1313.9 2078.6 A85 85 0 0 1 1313.9 2232 Z" fill="#120101" opacity="0.97" />
</g>
<g filter="url(#blur3)">
<polygon points="1160.0,2155.9 1284.0,2142.0 1292.0,2155.9 1284.0,2170.0" fill="url(#stk3)" opacity="0.95" />
<polygon points="1172.0,2155.9 1262.0,2149.0 1270.0,2155.9 1262.0,2163.0" fill="#B81E14" opacity="0.85" />
</g>
<g filter="url(#blur2)">
<polygon points="1198.0,2155.9 1234.0,2152.5 1244.0,2155.9 1234.0,2159.5" fill="#EC9434" opacity="0.9" />
</g>
<line x1="1144.80" y1="2235.60" x2="1162.90" y2="2235.60" stroke="#000" stroke-width="5"/>
<line x1="1178.00" y1="2235.60" x2="1209.70" y2="2235.60" stroke="#000" stroke-width="5"/>
<polygon points="1225.7,2235.6 1208.7,2242.6 1208.7,2228.6" fill="#000" />
<text transform="translate(1167.40 2265.20) scale(0.9561 1)" font-family="&quot;Liberation Serif&quot;,&quot;Times New Roman&quot;,serif" font-size="46.00" font-style="italic" fill="#000" stroke="#000" stroke-width="0.78">v</text>
<text transform="translate(1188.60 2274.30) scale(1.1333 1)" font-family="&quot;Liberation Serif&quot;,&quot;Times New Roman&quot;,serif" font-size="36.00" fill="#000" stroke="#000" stroke-width="0.32">r</text>
<text transform="translate(1067.10 2088.60) scale(1.0000 1)" font-family="&quot;Liberation Sans&quot;,Arial,sans-serif" font-size="37.00" fill="#000">-50</text>
<text transform="translate(1086.50 2177.70) scale(1.0000 1)" font-family="&quot;Liberation Sans&quot;,Arial,sans-serif" font-size="37.00" fill="#000">0</text>
<text transform="translate(1068.75 2268.30) scale(1.0000 1)" font-family="&quot;Liberation Sans&quot;,Arial,sans-serif" font-size="37.00" fill="#000">50</text>
<line x1="1119.00" y1="2065.90" x2="1125.00" y2="2065.90" stroke="#333" stroke-width="1.2"/>
<line x1="1119.00" y1="2155.60" x2="1125.00" y2="2155.60" stroke="#333" stroke-width="1.2"/>
<line x1="1119.00" y1="2245.60" x2="1125.00" y2="2245.60" stroke="#333" stroke-width="1.2"/>
<g transform="translate(1048.4 2170.4) rotate(-90)">
<text transform="translate(-70.91 0.00) scale(0.9224 1)" font-family="&quot;Liberation Serif&quot;,&quot;Times New Roman&quot;,serif" font-size="46.00" font-style="italic" fill="#000" stroke="#000" stroke-width="0.78">x</text>
<text transform="translate(-47.50 8.00) scale(1.3778 1)" font-family="&quot;Liberation Serif&quot;,&quot;Times New Roman&quot;,serif" font-size="34.00" fill="#000" stroke="#000" stroke-width="0.31">r</text>
<text transform="translate(-24.50 0.00) scale(0.9737 1)" font-family="&quot;Liberation Sans&quot;,Arial,sans-serif" font-size="44.00" fill="#000">(mm)</text>
</g>
<rect x="1130.3" y="2358.7" width="295.4" height="235.6" fill="#F5F5F5"/>
<polygon points="1425.7,2358.7 1445.3,2346.7 1445.3,2594.3 1425.7,2576.3" fill="#FAFAFA" />
<polygon points="1130.3,2576.3 1425.7,2576.3 1445.3,2594.3 1126.3,2594.3" fill="#EEEEEE" />
<path d="M1189.2 2358.7 V2576.3 l-10 18 M1278.3 2358.7 V2576.3 l0 18 M1367.4 2358.7 V2576.3 l10 18 M1130.3 2362.6 H1425.7 l19.6 -12 M1130.3 2416.1 H1425.7 l19.6 -6 M1130.3 2469.5 H1425.7 l19.6 0 M1130.3 2522.4 H1425.7 l19.6 6 M1130.3 2576.2 H1425.7 l19.6 12" fill="none" stroke="#B0B0B0" stroke-width="1.5" />
<path d="M1130.3 2358.7 V2594.3 M1126.3 2594.3 H1445.3" fill="none" stroke="#333" stroke-width="1.4" />
<path d="M1245.0 2455.5 C1246.4 2441.9,1262.4 2432.7,1279.8 2432.7 C1299.2 2432.7,1313.8 2443.7,1314.5 2455.5 C1314.5 2462.1,1311.7 2466.6,1307.5 2467.7 C1293.7 2470.2,1265.8 2470.2,1252.0 2467.7 C1247.1 2465.8,1245.0 2462.1,1245.0 2455.5 Z" fill="#9C9C9C" opacity="0.85" />
<path d="M1247.1 2457.7 L1312.4 2457.7" fill="none" stroke="#B8B8B8" stroke-width="2.208000000000011" opacity="0.7" />
<g filter="url(#blur3)">
<path d="M1200.6 2488.6 H1354.7 C1352 2520,1330 2548,1278 2554.5 C1226 2548,1204 2520,1200.6 2488.6 Z" fill="#120101" opacity="0.97" />
</g>
<g filter="url(#blur2)">
<polygon points="1270.0,2489.0 1285.5,2489.0 1284.0,2526.0 1277.7,2520.0 1271.5,2526.0" fill="#C8241A" opacity="0.95" />
<polygon points="1274.5,2490.0 1281.0,2490.0 1280.0,2512.0 1275.5,2512.0" fill="#F6A23A" opacity="0.95" />
</g>
<line x1="1132.70" y1="2485.50" x2="1445.30" y2="2485.50" stroke="#C00000" stroke-width="6.6" stroke-dasharray="25.4 18.8"/>
<text transform="translate(1058.85 2385.90) scale(1.0000 1)" font-family="&quot;Liberation Sans&quot;,Arial,sans-serif" font-size="37.00" fill="#000">100</text>
<text transform="translate(1079.35 2438.10) scale(1.0000 1)" font-family="&quot;Liberation Sans&quot;,Arial,sans-serif" font-size="37.00" fill="#000">50</text>
<text transform="translate(1097.10 2490.00) scale(1.0000 1)" font-family="&quot;Liberation Sans&quot;,Arial,sans-serif" font-size="37.00" fill="#000">0</text>
<text transform="translate(1067.10 2543.80) scale(1.0000 1)" font-family="&quot;Liberation Sans&quot;,Arial,sans-serif" font-size="37.00" fill="#000">-50</text>
<text transform="translate(1046.60 2597.30) scale(1.0000 1)" font-family="&quot;Liberation Sans&quot;,Arial,sans-serif" font-size="37.00" fill="#000">-100</text>
<line x1="1126.30" y1="2362.60" x2="1132.30" y2="2362.60" stroke="#333" stroke-width="1.2"/>
<line x1="1126.30" y1="2416.10" x2="1132.30" y2="2416.10" stroke="#333" stroke-width="1.2"/>
<line x1="1126.30" y1="2469.50" x2="1132.30" y2="2469.50" stroke="#333" stroke-width="1.2"/>
<line x1="1126.30" y1="2522.40" x2="1132.30" y2="2522.40" stroke="#333" stroke-width="1.2"/>
<line x1="1126.30" y1="2576.20" x2="1132.30" y2="2576.20" stroke="#333" stroke-width="1.2"/>
<text transform="translate(1153.80 2635.00) scale(1.0168 1)" font-family="&quot;Liberation Sans&quot;,Arial,sans-serif" font-size="37.00" fill="#000">-50</text>
<text transform="translate(1268.60 2635.00) scale(0.9561 1)" font-family="&quot;Liberation Sans&quot;,Arial,sans-serif" font-size="37.00" fill="#000">0</text>
<text transform="translate(1359.20 2635.00) scale(0.9891 1)" font-family="&quot;Liberation Sans&quot;,Arial,sans-serif" font-size="37.00" fill="#000">50</text>
<text transform="translate(1198.45 2686.40) scale(1.1388 1)" font-family="&quot;Liberation Serif&quot;,&quot;Times New Roman&quot;,serif" font-size="46.00" font-style="italic" fill="#000" stroke="#000" stroke-width="0.78">x</text>
<text transform="translate(1224.00 2694.00) scale(1.2444 1)" font-family="&quot;Liberation Serif&quot;,&quot;Times New Roman&quot;,serif" font-size="34.00" fill="#000" stroke="#000" stroke-width="0.31">r</text>
<text transform="translate(1241.40 2686.40) scale(0.9727 1)" font-family="&quot;Liberation Sans&quot;,Arial,sans-serif" font-size="44.00" fill="#000">(mm)</text>
<g transform="translate(1045.1 2479.6) rotate(-90)">
<text transform="translate(-75.24 0.00) scale(1.0133 1)" font-family="&quot;Liberation Serif&quot;,&quot;Times New Roman&quot;,serif" font-size="46.00" font-style="italic" fill="#000" stroke="#000" stroke-width="0.78">z</text>
<text transform="translate(-54.10 8.00) scale(1.2978 1)" font-family="&quot;Liberation Serif&quot;,&quot;Times New Roman&quot;,serif" font-size="34.00" fill="#000" stroke="#000" stroke-width="0.31">r</text>
<text transform="translate(-35.40 0.00) scale(0.9941 1)" font-family="&quot;Liberation Sans&quot;,Arial,sans-serif" font-size="44.00" fill="#000">(mm)</text>
</g>
<rect x="1499.6" y="1959.4" width="17.2" height="674.7" fill="url(#hot2)"/>
<text transform="translate(1533.00 2008.50) scale(0.9726 1)" font-family="&quot;Liberation Sans&quot;,Arial,sans-serif" font-size="44.00" fill="#000">1.34</text>
<text transform="translate(1536.40 2636.60) scale(0.9901 1)" font-family="&quot;Liberation Sans&quot;,Arial,sans-serif" font-size="44.00" fill="#000">0.06</text>
<g transform="translate(1588.6 2340.3) rotate(-90)">
<text transform="translate(1.00 -12.70) scale(1.1045 1)" font-family="&quot;Liberation Serif&quot;,&quot;Times New Roman&quot;,serif" font-size="34.00" font-style="italic" fill="#000" stroke="#000" stroke-width="0.58">∂</text>
<text transform="translate(21.00 -12.70) scale(0.8571 1)" font-family="&quot;Liberation Serif&quot;,&quot;Times New Roman&quot;,serif" font-size="34.00" font-weight="bold" fill="#000" stroke="#000" stroke-width="0.31">B</text>
<line x1="0.00" y1="0.00" x2="42.00" y2="0.00" stroke="#000" stroke-width="2"/>
<text transform="translate(1.00 36.40) scale(1.1045 1)" font-family="&quot;Liberation Serif&quot;,&quot;Times New Roman&quot;,serif" font-size="34.00" font-style="italic" fill="#000" stroke="#000" stroke-width="0.58">∂</text>
<text transform="translate(24.29 36.40) scale(1.0130 1)" font-family="&quot;Liberation Serif&quot;,&quot;Times New Roman&quot;,serif" font-size="36.00" font-style="italic" fill="#000" stroke="#000" stroke-width="0.61">y</text>
<text transform="translate(45.10 13.60) scale(0.9219 1)" font-family="&quot;Liberation Sans&quot;,Arial,sans-serif" font-size="45.00" fill="#000">(T/m)</text>
</g>
</svg>
</body></html>
